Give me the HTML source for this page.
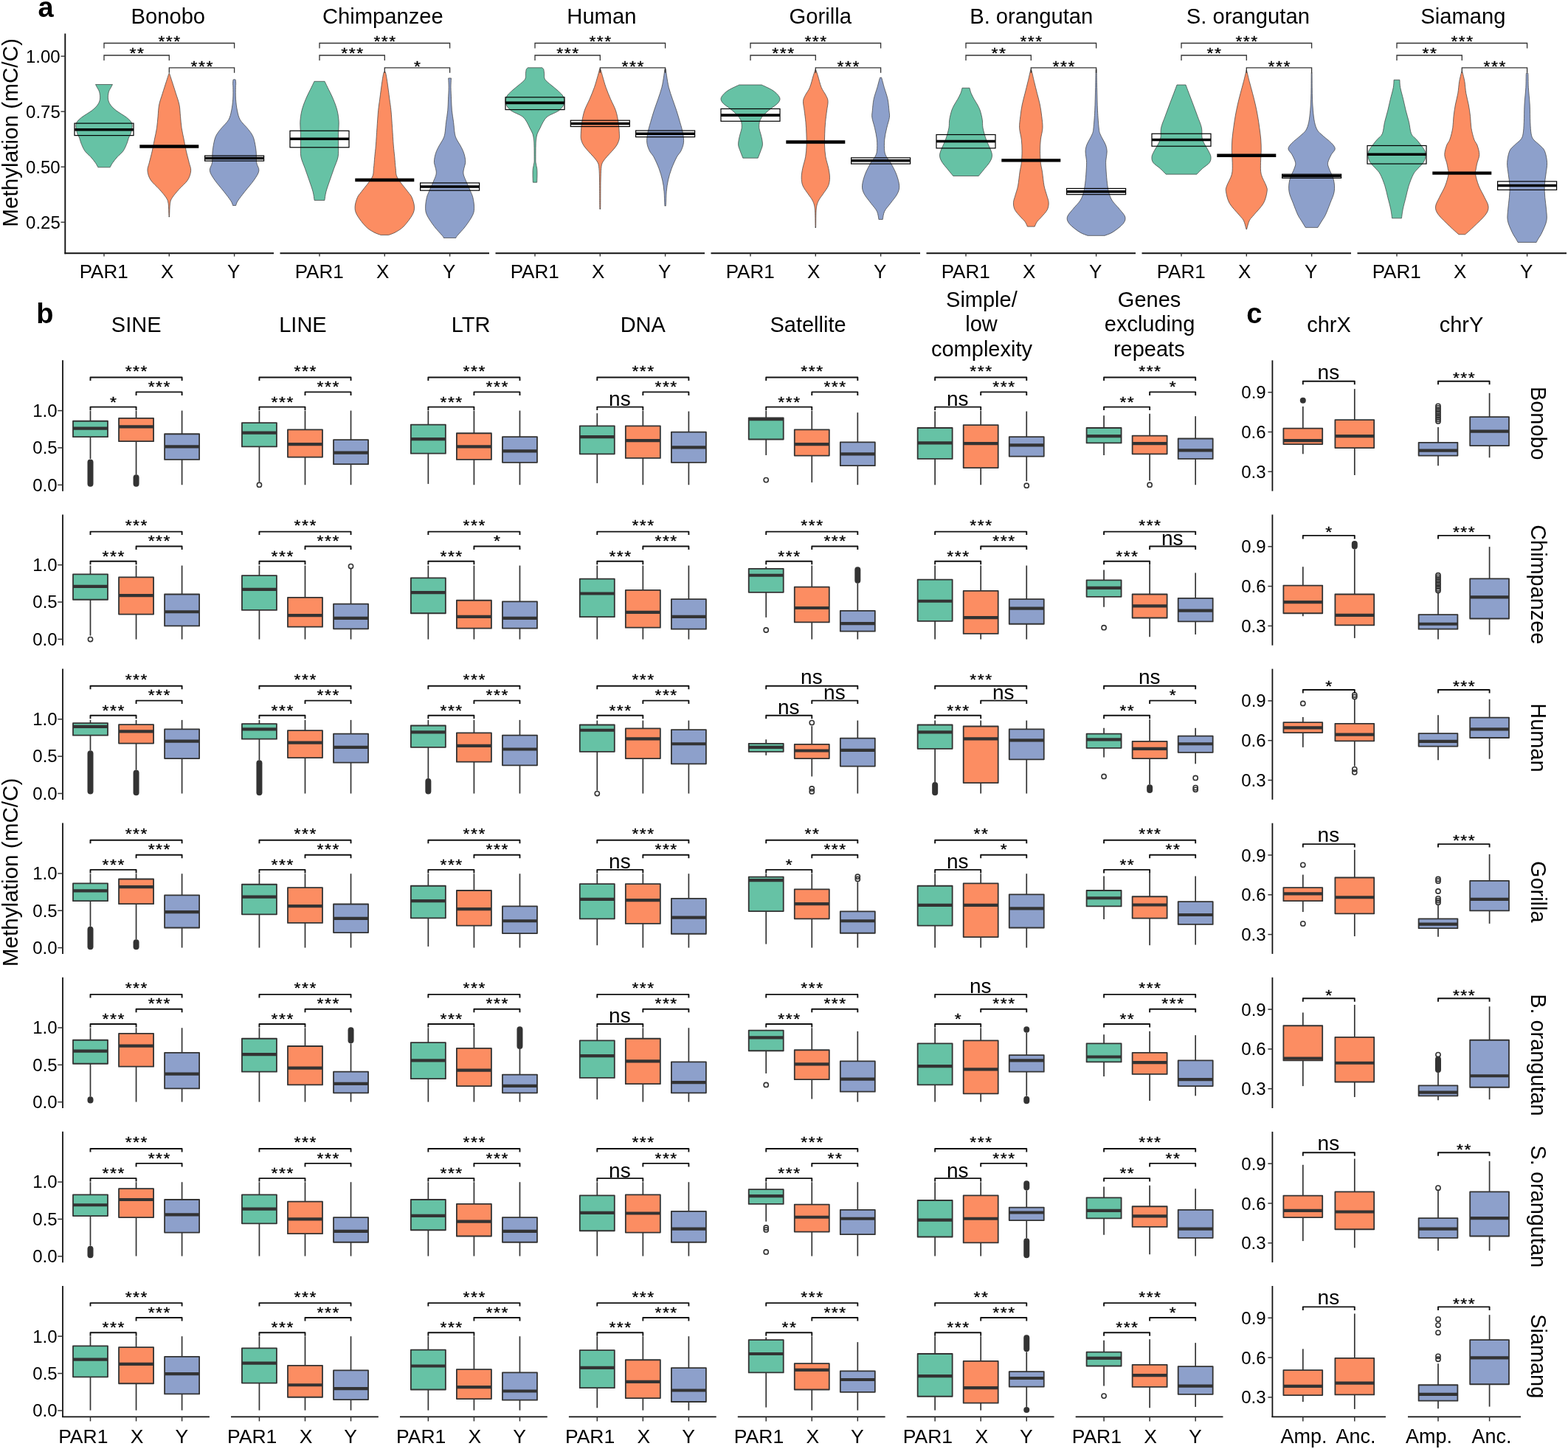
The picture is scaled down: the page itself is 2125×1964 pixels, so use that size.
<!DOCTYPE html>
<html><head><meta charset="utf-8"><title>Figure</title>
<style>html,body{margin:0;padding:0;background:#fff;}svg{display:block;}</style>
</head><body>
<svg width="2125" height="1964" viewBox="0 0 2125 1964" font-family='"Liberation Sans", Arial, Helvetica, sans-serif'>
<rect width="2125" height="1964" fill="#fff"/>
<path d="M152.46,114.54 C152.12,115.2 151.28,116.77 150.42,118.47 C149.55,120.17 147.93,122.13 147.28,124.75 C146.62,127.36 146.1,131.28 146.49,134.16 C146.89,137.04 147.8,139.39 149.63,142.01 C151.46,144.62 153.82,146.98 157.48,149.86 C161.14,152.73 168.07,156.39 171.6,159.27 C175.13,162.15 177.54,164.24 178.66,167.12 C179.79,170 178.74,173.79 178.35,176.53 C177.96,179.28 176.91,182.03 176.31,183.6 C175.71,185.17 175.53,183.99 174.74,185.95 C173.96,187.91 172.91,192.23 171.6,195.37 C170.29,198.51 168.99,201.91 166.89,204.78 C164.8,207.66 161.4,210.01 159.05,212.63 C156.69,215.25 154.42,218.12 152.77,220.48 C151.12,222.83 149.76,225.71 149.16,226.75 L132.84,226.75 C132.24,225.71 130.88,222.83 129.23,220.48 C127.58,218.12 125.31,215.25 122.95,212.63 C120.6,210.01 117.2,207.66 115.11,204.78 C113.01,201.91 111.71,198.51 110.4,195.37 C109.09,192.23 108.04,187.91 107.26,185.95 C106.47,183.99 106.29,185.17 105.69,183.6 C105.09,182.03 104.04,179.28 103.65,176.53 C103.26,173.79 102.21,170 103.34,167.12 C104.46,164.24 106.87,162.15 110.4,159.27 C113.93,156.39 120.86,152.73 124.52,149.86 C128.18,146.98 130.54,144.62 132.37,142.01 C134.2,139.39 135.11,137.04 135.51,134.16 C135.9,131.28 135.38,127.36 134.72,124.75 C134.07,122.13 132.45,120.17 131.58,118.47 C130.72,116.77 129.88,115.2 129.54,114.54 Z" fill="#66C2A5" stroke="#3a3a3a" stroke-width="0.7"/>
<path d="M229.3,99.92 C229.4,100 229.27,98.64 229.93,100.42 C230.58,102.2 231.84,106.31 233.22,110.62 C234.61,114.94 236.62,121.08 238.25,126.32 C239.87,131.55 241.91,136.78 242.95,142.01 C244,147.24 244,152.47 244.52,157.7 C245.05,162.93 245.31,168.16 246.09,173.4 C246.88,178.63 248.18,183.86 249.23,189.09 C250.28,194.32 251.19,199.55 252.37,204.78 C253.55,210.01 255.25,216.03 256.29,220.48 C257.34,224.92 258.96,227.54 258.65,231.46 C258.33,235.39 257.08,239.83 254.41,244.02 C251.74,248.2 246.09,252.65 242.64,256.57 C239.19,260.5 235.71,264.42 233.69,267.56 C231.68,270.7 231.24,271.22 230.56,275.4 C229.88,279.59 229.82,289.71 229.61,292.67 C229.4,295.63 229.35,293.08 229.3,293.17 L229.3,293.17 C229.25,293.08 229.2,295.63 228.99,292.67 C228.78,289.71 228.72,279.59 228.04,275.4 C227.36,271.22 226.92,270.7 224.91,267.56 C222.89,264.42 219.41,260.5 215.96,256.57 C212.51,252.65 206.86,248.2 204.19,244.02 C201.52,239.83 200.27,235.39 199.95,231.46 C199.64,227.54 201.26,224.92 202.31,220.48 C203.35,216.03 205.05,210.01 206.23,204.78 C207.41,199.55 208.32,194.32 209.37,189.09 C210.42,183.86 211.72,178.63 212.51,173.4 C213.29,168.16 213.55,162.93 214.08,157.7 C214.6,152.47 214.6,147.24 215.65,142.01 C216.69,136.78 218.73,131.55 220.35,126.32 C221.98,121.08 223.99,114.94 225.38,110.62 C226.76,106.31 228.02,102.2 228.67,100.42 C229.33,98.64 229.2,100 229.3,99.92 Z" fill="#FC8D62" stroke="#3a3a3a" stroke-width="0.7"/>
<path d="M317.6,107.77 C317.86,107.85 318.83,107.27 319.17,108.27 C319.51,109.27 319.61,112.06 319.64,113.76 C319.67,115.46 319.35,115.07 319.33,118.47 C319.3,121.87 319.12,128.93 319.48,134.16 C319.85,139.39 320.53,145.15 321.52,149.86 C322.52,154.56 323.22,158.49 325.45,162.41 C327.67,166.33 332.3,170.26 334.86,173.4 C337.43,176.53 339.26,178.63 340.83,181.24 C342.4,183.86 343.23,185.17 344.28,189.09 C345.33,193.01 346.53,199.55 347.1,204.78 C347.68,210.01 347.1,216.03 347.73,220.48 C348.36,224.92 351.45,227.54 350.87,231.46 C350.3,235.39 347.47,239.31 344.28,244.02 C341.09,248.73 335.39,255 331.72,259.71 C328.06,264.42 324.32,269.13 322.31,272.27 C320.29,275.4 320.08,277.5 319.64,278.54 L315.56,278.54 C315.12,277.5 314.91,275.4 312.89,272.27 C310.88,269.13 307.14,264.42 303.48,259.71 C299.81,255 294.11,248.73 290.92,244.02 C287.73,239.31 284.9,235.39 284.33,231.46 C283.75,227.54 286.84,224.92 287.47,220.48 C288.1,216.03 287.52,210.01 288.1,204.78 C288.67,199.55 289.87,193.01 290.92,189.09 C291.97,185.17 292.8,183.86 294.37,181.24 C295.94,178.63 297.77,176.53 300.34,173.4 C302.9,170.26 307.53,166.33 309.75,162.41 C311.98,158.49 312.68,154.56 313.68,149.86 C314.67,145.15 315.35,139.39 315.72,134.16 C316.08,128.93 315.9,121.87 315.87,118.47 C315.85,115.07 315.53,115.46 315.56,113.76 C315.59,112.06 315.69,109.27 316.03,108.27 C316.37,107.27 317.34,107.85 317.6,107.77 Z" fill="#8DA0CB" stroke="#3a3a3a" stroke-width="0.7"/>
<rect x="101" y="167.12" width="80" height="16.48" fill="none" stroke="#000" stroke-width="1.2"/>
<line x1="101" y1="175.75" x2="181" y2="175.75" stroke="#000" stroke-width="3.6"/>
<line x1="189.3" y1="198.51" x2="269.3" y2="198.51" stroke="#000" stroke-width="4.4"/>
<rect x="277.6" y="211.06" width="80" height="7.06" fill="none" stroke="#000" stroke-width="1.2"/>
<line x1="277.6" y1="214.51" x2="357.6" y2="214.51" stroke="#000" stroke-width="3.6"/>
<path d="M141,65.5 V58.5 H317.6 V65.5" fill="none" stroke="#333333" stroke-width="1.3"/>
<text transform="translate(230.05,63.2) scale(1,0.9)" font-size="23" letter-spacing="1.5" text-anchor="middle" stroke="#000" stroke-width="0.35">***</text>
<path d="M141,82 V75 H229.3 V82" fill="none" stroke="#333333" stroke-width="1.3"/>
<text transform="translate(185.9,78.5) scale(1,0.9)" font-size="23" letter-spacing="1.5" text-anchor="middle" stroke="#000" stroke-width="0.35">**</text>
<path d="M229.3,98.8 V91.8 H317.6 V98.8" fill="none" stroke="#333333" stroke-width="1.3"/>
<text transform="translate(274.2,96.8) scale(1,0.9)" font-size="23" letter-spacing="1.5" text-anchor="middle" stroke="#000" stroke-width="0.35">***</text>
<line x1="87.5" y1="343.3" x2="371" y2="343.3" stroke="#111" stroke-width="1.9"/>
<line x1="141" y1="343.3" x2="141" y2="347.6" stroke="#333333" stroke-width="1.4"/>
<text x="140.65" y="376.9" font-size="26" text-anchor="middle">PAR1</text>
<line x1="229.3" y1="343.3" x2="229.3" y2="347.6" stroke="#333333" stroke-width="1.4"/>
<text x="226.62" y="376.9" font-size="26" text-anchor="middle">X</text>
<line x1="317.6" y1="343.3" x2="317.6" y2="347.6" stroke="#333333" stroke-width="1.4"/>
<text x="316.67" y="376.9" font-size="26" text-anchor="middle">Y</text>
<text x="227.79" y="32.2" font-size="29.2" text-anchor="middle">Bonobo</text>
<path d="M440.06,110.31 C440.72,111.67 442.08,114.49 443.99,118.47 C445.89,122.44 449.35,128.93 451.52,134.16 C453.69,139.39 455.73,144.62 457.01,149.86 C458.29,155.09 458.95,160.32 459.21,165.55 C459.47,170.78 458.69,176.01 458.58,181.24 C458.48,186.47 458.66,191.71 458.58,196.94 C458.5,202.17 459.1,207.4 458.11,212.63 C457.12,217.86 454.45,223.09 452.62,228.32 C450.79,233.56 448.9,238.79 447.12,244.02 C445.35,249.25 443.15,255.13 441.95,259.71 C440.74,264.29 440.25,269.52 439.91,271.48 L426.09,271.48 C425.75,269.52 425.26,264.29 424.05,259.71 C422.85,255.13 420.65,249.25 418.88,244.02 C417.1,238.79 415.21,233.56 413.38,228.32 C411.55,223.09 408.88,217.86 407.89,212.63 C406.9,207.4 407.5,202.17 407.42,196.94 C407.34,191.71 407.52,186.47 407.42,181.24 C407.31,176.01 406.53,170.78 406.79,165.55 C407.05,160.32 407.71,155.09 408.99,149.86 C410.27,144.62 412.31,139.39 414.48,134.16 C416.65,128.93 420.11,122.44 422.01,118.47 C423.92,114.49 425.28,111.67 425.94,110.31 Z" fill="#66C2A5" stroke="#3a3a3a" stroke-width="0.7"/>
<path d="M521.3,97.88 C521.51,97.96 521.98,96.26 522.56,98.38 C523.13,100.5 523.86,104.66 524.75,110.62 C525.64,116.59 527.03,127.62 527.89,134.16 C528.75,140.7 529.3,143.32 529.93,149.86 C530.56,156.39 531.11,165.55 531.66,173.4 C532.21,181.24 532.7,190.4 533.23,196.94 C533.75,203.48 534.3,207.4 534.8,212.63 C535.29,217.86 535.58,223.62 536.21,228.32 C536.84,233.03 535.82,235.65 538.56,240.88 C541.31,246.11 549.42,255.26 552.69,259.71 C555.96,264.16 556.72,264.16 558.18,267.56 C559.64,270.96 561.34,276.19 561.48,280.11 C561.61,284.04 561.34,286.65 558.96,291.1 C556.58,295.55 550.99,302.87 547.19,306.79 C543.4,310.72 539.66,312.68 536.21,314.64 C532.76,316.6 528.1,317.91 526.48,318.56 L516.12,318.56 C514.5,317.91 509.84,316.6 506.39,314.64 C502.94,312.68 499.2,310.72 495.41,306.79 C491.61,302.87 486.02,295.55 483.64,291.1 C481.26,286.65 480.99,284.04 481.12,280.11 C481.26,276.19 482.96,270.96 484.42,267.56 C485.88,264.16 486.64,264.16 489.91,259.71 C493.18,255.26 501.29,246.11 504.04,240.88 C506.78,235.65 505.76,233.03 506.39,228.32 C507.02,223.62 507.31,217.86 507.8,212.63 C508.3,207.4 508.85,203.48 509.37,196.94 C509.9,190.4 510.39,181.24 510.94,173.4 C511.49,165.55 512.04,156.39 512.67,149.86 C513.3,143.32 513.85,140.7 514.71,134.16 C515.57,127.62 516.96,116.59 517.85,110.62 C518.74,104.66 519.47,100.5 520.04,98.38 C520.62,96.26 521.09,97.96 521.3,97.88 Z" fill="#FC8D62" stroke="#3a3a3a" stroke-width="0.7"/>
<path d="M611.48,105.91 C611.4,108.01 610.99,113.76 611.01,118.47 C611.04,123.18 611.4,128.93 611.64,134.16 C611.88,139.39 611.93,144.62 612.42,149.86 C612.92,155.09 613.97,160.32 614.62,165.55 C615.28,170.78 615.62,177.32 616.35,181.24 C617.08,185.17 617.79,186.47 619.02,189.09 C620.25,191.71 622.29,194.32 623.72,196.94 C625.16,199.55 626.6,202.17 627.65,204.78 C628.69,207.4 629.48,210.01 630,212.63 C630.52,215.25 631,217.86 630.79,220.48 C630.58,223.09 629.19,225.71 628.75,228.32 C628.3,230.94 627.52,233.03 628.12,236.17 C628.72,239.31 630.73,243.23 632.36,247.16 C633.98,251.08 636.44,256.31 637.85,259.71 C639.26,263.11 640.05,264.16 640.83,267.56 C641.62,270.96 642.56,276.19 642.56,280.11 C642.56,284.04 642.79,286.65 640.83,291.1 C638.87,295.55 634.29,302.08 630.79,306.79 C627.28,311.5 621.95,316.73 619.8,319.35 C617.66,321.96 618.23,321.96 617.92,322.49 L601.28,322.49 C600.97,321.96 601.54,321.96 599.4,319.35 C597.25,316.73 591.92,311.5 588.41,306.79 C584.91,302.08 580.33,295.55 578.37,291.1 C576.41,286.65 576.64,284.04 576.64,280.11 C576.64,276.19 577.58,270.96 578.37,267.56 C579.15,264.16 579.94,263.11 581.35,259.71 C582.76,256.31 585.22,251.08 586.84,247.16 C588.47,243.23 590.48,239.31 591.08,236.17 C591.68,233.03 590.9,230.94 590.45,228.32 C590.01,225.71 588.62,223.09 588.41,220.48 C588.2,217.86 588.68,215.25 589.2,212.63 C589.72,210.01 590.51,207.4 591.55,204.78 C592.6,202.17 594.04,199.55 595.48,196.94 C596.91,194.32 598.95,191.71 600.18,189.09 C601.41,186.47 602.12,185.17 602.85,181.24 C603.58,177.32 603.92,170.78 604.58,165.55 C605.23,160.32 606.28,155.09 606.78,149.86 C607.27,144.62 607.32,139.39 607.56,134.16 C607.8,128.93 608.16,123.18 608.19,118.47 C608.21,113.76 607.8,108.01 607.72,105.91 Z" fill="#8DA0CB" stroke="#3a3a3a" stroke-width="0.7"/>
<rect x="393" y="177.32" width="80" height="22.44" fill="none" stroke="#000" stroke-width="1.2"/>
<line x1="393" y1="188.31" x2="473" y2="188.31" stroke="#000" stroke-width="3.6"/>
<line x1="481.3" y1="244.02" x2="561.3" y2="244.02" stroke="#000" stroke-width="4.4"/>
<rect x="569.6" y="247.94" width="80" height="10.2" fill="none" stroke="#000" stroke-width="1.2"/>
<line x1="569.6" y1="252.96" x2="649.6" y2="252.96" stroke="#000" stroke-width="3.6"/>
<path d="M433,65.5 V58.5 H609.6 V65.5" fill="none" stroke="#333333" stroke-width="1.3"/>
<text transform="translate(522.05,63.2) scale(1,0.9)" font-size="23" letter-spacing="1.5" text-anchor="middle" stroke="#000" stroke-width="0.35">***</text>
<path d="M433,82 V75 H521.3 V82" fill="none" stroke="#333333" stroke-width="1.3"/>
<text transform="translate(477.9,78.5) scale(1,0.9)" font-size="23" letter-spacing="1.5" text-anchor="middle" stroke="#000" stroke-width="0.35">***</text>
<path d="M521.3,98.8 V91.8 H609.6 V98.8" fill="none" stroke="#333333" stroke-width="1.3"/>
<text transform="translate(566.2,96.8) scale(1,0.9)" font-size="23" letter-spacing="1.5" text-anchor="middle" stroke="#000" stroke-width="0.35">*</text>
<line x1="379.5" y1="343.3" x2="663" y2="343.3" stroke="#111" stroke-width="1.9"/>
<line x1="433" y1="343.3" x2="433" y2="347.6" stroke="#333333" stroke-width="1.4"/>
<text x="432.65" y="376.9" font-size="26" text-anchor="middle">PAR1</text>
<line x1="521.3" y1="343.3" x2="521.3" y2="347.6" stroke="#333333" stroke-width="1.4"/>
<text x="518.62" y="376.9" font-size="26" text-anchor="middle">X</text>
<line x1="609.6" y1="343.3" x2="609.6" y2="347.6" stroke="#333333" stroke-width="1.4"/>
<text x="608.67" y="376.9" font-size="26" text-anchor="middle">Y</text>
<text x="518.92" y="32.2" font-size="29.2" text-anchor="middle">Chimpanzee</text>
<path d="M734.73,91.79 C735.07,92.18 736.3,92.84 736.77,94.14 C737.24,95.45 737.27,97.41 737.55,99.64 C737.84,101.86 736.93,104.87 738.5,107.48 C740.07,110.1 743.99,112.71 746.97,115.33 C749.95,117.95 753.64,120.56 756.39,123.18 C759.13,125.79 762.09,128.15 763.45,131.02 C764.81,133.9 765.54,137.3 764.55,140.44 C763.55,143.58 761.2,146.98 757.49,149.86 C753.77,152.73 745.85,155.09 742.26,157.7 C738.68,160.32 737.69,162.93 735.99,165.55 C734.29,168.16 733.37,170.78 732.06,173.4 C730.75,176.01 729.05,178.63 728.14,181.24 C727.22,183.86 726.91,186.47 726.57,189.09 C726.23,191.71 726.2,193.01 726.1,196.94 C725.99,200.86 725.94,208.71 725.94,212.63 C725.94,216.55 725.81,217.86 726.1,220.48 C726.39,223.09 727.35,225.71 727.67,228.32 C727.98,230.94 727.98,233.03 727.98,236.17 C727.98,239.31 727.72,245.33 727.67,247.16 L722.33,247.16 C722.28,245.33 722.02,239.31 722.02,236.17 C722.02,233.03 722.02,230.94 722.33,228.32 C722.65,225.71 723.61,223.09 723.9,220.48 C724.19,217.86 724.06,216.55 724.06,212.63 C724.06,208.71 724.01,200.86 723.9,196.94 C723.8,193.01 723.77,191.71 723.43,189.09 C723.09,186.47 722.78,183.86 721.86,181.24 C720.95,178.63 719.25,176.01 717.94,173.4 C716.63,170.78 715.71,168.16 714.01,165.55 C712.31,162.93 711.32,160.32 707.74,157.7 C704.15,155.09 696.23,152.73 692.51,149.86 C688.8,146.98 686.45,143.58 685.45,140.44 C684.46,137.3 685.19,133.9 686.55,131.02 C687.91,128.15 690.87,125.79 693.61,123.18 C696.36,120.56 700.05,117.95 703.03,115.33 C706.01,112.71 709.93,110.1 711.5,107.48 C713.07,104.87 712.16,101.86 712.45,99.64 C712.73,97.41 712.76,95.45 713.23,94.14 C713.7,92.84 714.93,92.18 715.27,91.79 Z" fill="#66C2A5" stroke="#3a3a3a" stroke-width="0.7"/>
<path d="M813.3,93.64 C813.43,93.73 813.56,92.62 814.08,94.14 C814.61,95.67 815.26,98.72 816.44,102.77 C817.62,106.83 819.32,113.24 821.15,118.47 C822.98,123.7 825.2,128.93 827.42,134.16 C829.65,139.39 832.73,144.62 834.49,149.86 C836.24,155.09 837.13,160.32 837.94,165.55 C838.75,170.78 839.17,177.32 839.35,181.24 C839.53,185.17 839.64,186.47 839.04,189.09 C838.44,191.71 837.34,194.32 835.74,196.94 C834.15,199.55 831.71,202.17 829.46,204.78 C827.22,207.4 824.42,210.01 822.25,212.63 C820.07,215.25 817.69,217.86 816.44,220.48 C815.18,223.09 815.1,224.4 814.71,228.32 C814.32,232.25 814.22,238.79 814.08,244.02 C813.95,249.25 813.98,253.43 813.93,259.71 C813.88,265.99 813.88,277.94 813.77,281.68 C813.67,285.43 813.38,282.1 813.3,282.18 L813.3,282.18 C813.22,282.1 812.93,285.43 812.83,281.68 C812.72,277.94 812.72,265.99 812.67,259.71 C812.62,253.43 812.65,249.25 812.52,244.02 C812.38,238.79 812.28,232.25 811.89,228.32 C811.5,224.4 811.42,223.09 810.16,220.48 C808.91,217.86 806.53,215.25 804.35,212.63 C802.18,210.01 799.38,207.4 797.14,204.78 C794.89,202.17 792.45,199.55 790.86,196.94 C789.26,194.32 788.16,191.71 787.56,189.09 C786.96,186.47 787.07,185.17 787.25,181.24 C787.43,177.32 787.85,170.78 788.66,165.55 C789.47,160.32 790.36,155.09 792.11,149.86 C793.87,144.62 796.95,139.39 799.18,134.16 C801.4,128.93 803.62,123.7 805.45,118.47 C807.28,113.24 808.98,106.83 810.16,102.77 C811.34,98.72 811.99,95.67 812.52,94.14 C813.04,92.62 813.17,93.73 813.3,93.64 Z" fill="#FC8D62" stroke="#3a3a3a" stroke-width="0.7"/>
<path d="M901.6,93.64 C901.73,93.73 902.07,92.62 902.38,94.14 C902.7,95.67 902.83,98.72 903.48,102.77 C904.14,106.83 905,113.24 906.31,118.47 C907.62,123.7 909.58,128.93 911.33,134.16 C913.08,139.39 915.12,144.62 916.82,149.86 C918.52,155.09 920.07,160.32 921.53,165.55 C923,170.78 924.8,176.53 925.61,181.24 C926.42,185.95 926.87,189.87 926.4,193.8 C925.93,197.72 924.3,201.64 922.79,204.78 C921.27,207.92 919.39,208.71 917.29,212.63 C915.2,216.55 912.19,223.09 910.23,228.32 C908.27,233.56 906.7,238.79 905.52,244.02 C904.35,249.25 903.69,254.09 903.17,259.71 C902.65,265.33 902.65,274.67 902.38,277.76 C902.12,280.85 901.73,278.18 901.6,278.26 L901.6,278.26 C901.47,278.18 901.08,280.85 900.82,277.76 C900.55,274.67 900.55,265.33 900.03,259.71 C899.51,254.09 898.85,249.25 897.68,244.02 C896.5,238.79 894.93,233.56 892.97,228.32 C891.01,223.09 888,216.55 885.91,212.63 C883.81,208.71 881.93,207.92 880.41,204.78 C878.9,201.64 877.27,197.72 876.8,193.8 C876.33,189.87 876.78,185.95 877.59,181.24 C878.4,176.53 880.2,170.78 881.67,165.55 C883.13,160.32 884.68,155.09 886.38,149.86 C888.08,144.62 890.12,139.39 891.87,134.16 C893.62,128.93 895.58,123.7 896.89,118.47 C898.2,113.24 899.06,106.83 899.72,102.77 C900.37,98.72 900.5,95.67 900.82,94.14 C901.13,92.62 901.47,93.73 901.6,93.64 Z" fill="#8DA0CB" stroke="#3a3a3a" stroke-width="0.7"/>
<rect x="685" y="131.81" width="80" height="16.79" fill="none" stroke="#000" stroke-width="1.2"/>
<line x1="685" y1="139.34" x2="765" y2="139.34" stroke="#000" stroke-width="3.6"/>
<rect x="773.3" y="163.2" width="80" height="8.32" fill="none" stroke="#000" stroke-width="1.2"/>
<line x1="773.3" y1="167.43" x2="853.3" y2="167.43" stroke="#000" stroke-width="3.6"/>
<rect x="861.6" y="177.01" width="80" height="8.63" fill="none" stroke="#000" stroke-width="1.2"/>
<line x1="861.6" y1="181.24" x2="941.6" y2="181.24" stroke="#000" stroke-width="3.6"/>
<path d="M725,65.5 V58.5 H901.6 V65.5" fill="none" stroke="#333333" stroke-width="1.3"/>
<text transform="translate(814.05,63.2) scale(1,0.9)" font-size="23" letter-spacing="1.5" text-anchor="middle" stroke="#000" stroke-width="0.35">***</text>
<path d="M725,82 V75 H813.3 V82" fill="none" stroke="#333333" stroke-width="1.3"/>
<text transform="translate(769.9,78.5) scale(1,0.9)" font-size="23" letter-spacing="1.5" text-anchor="middle" stroke="#000" stroke-width="0.35">***</text>
<path d="M813.3,98.8 V91.8 H901.6 V98.8" fill="none" stroke="#333333" stroke-width="1.3"/>
<text transform="translate(858.2,96.8) scale(1,0.9)" font-size="23" letter-spacing="1.5" text-anchor="middle" stroke="#000" stroke-width="0.35">***</text>
<line x1="671.5" y1="343.3" x2="955" y2="343.3" stroke="#111" stroke-width="1.9"/>
<line x1="725" y1="343.3" x2="725" y2="347.6" stroke="#333333" stroke-width="1.4"/>
<text x="724.65" y="376.9" font-size="26" text-anchor="middle">PAR1</text>
<line x1="813.3" y1="343.3" x2="813.3" y2="347.6" stroke="#333333" stroke-width="1.4"/>
<text x="810.62" y="376.9" font-size="26" text-anchor="middle">X</text>
<line x1="901.6" y1="343.3" x2="901.6" y2="347.6" stroke="#333333" stroke-width="1.4"/>
<text x="900.67" y="376.9" font-size="26" text-anchor="middle">Y</text>
<text x="815.36" y="32.2" font-size="29.2" text-anchor="middle">Human</text>
<path d="M1032.22,115.02 C1034.47,116.11 1042.16,119.46 1045.72,121.61 C1049.28,123.75 1051.68,125.79 1053.57,127.88 C1055.45,129.98 1057.02,132.07 1057.02,134.16 C1057.02,136.25 1055.53,138.35 1053.57,140.44 C1051.6,142.53 1047.86,144.62 1045.25,146.72 C1042.63,148.81 1040.04,150.9 1037.87,152.99 C1035.7,155.09 1033.66,157.18 1032.22,159.27 C1030.78,161.36 1029.82,163.2 1029.24,165.55 C1028.67,167.9 1028.51,170.78 1028.77,173.4 C1029.03,176.01 1030.16,178.63 1030.81,181.24 C1031.46,183.86 1032.28,186.47 1032.69,189.09 C1033.11,191.71 1033.64,194.32 1033.32,196.94 C1033.01,199.55 1031.83,201.91 1030.81,204.78 C1029.79,207.66 1027.8,212.63 1027.2,214.2 L1006.8,214.2 C1006.2,212.63 1004.21,207.66 1003.19,204.78 C1002.17,201.91 1000.99,199.55 1000.68,196.94 C1000.36,194.32 1000.89,191.71 1001.31,189.09 C1001.72,186.47 1002.54,183.86 1003.19,181.24 C1003.84,178.63 1004.97,176.01 1005.23,173.4 C1005.49,170.78 1005.33,167.9 1004.76,165.55 C1004.18,163.2 1003.22,161.36 1001.78,159.27 C1000.34,157.18 998.3,155.09 996.13,152.99 C993.96,150.9 991.37,148.81 988.75,146.72 C986.14,144.62 982.4,142.53 980.43,140.44 C978.47,138.35 976.98,136.25 976.98,134.16 C976.98,132.07 978.55,129.98 980.43,127.88 C982.32,125.79 984.72,123.75 988.28,121.61 C991.84,119.46 999.53,116.11 1001.78,115.02 Z" fill="#66C2A5" stroke="#3a3a3a" stroke-width="0.7"/>
<path d="M1105.3,94.43 C1105.38,94.51 1105.25,93.54 1105.77,94.93 C1106.29,96.32 1107.21,98.85 1108.44,102.77 C1109.67,106.7 1111.32,114.02 1113.15,118.47 C1114.98,122.91 1117.93,126.32 1119.42,129.45 C1120.92,132.59 1121.91,133.9 1122.09,137.3 C1122.28,140.7 1121.1,145.15 1120.52,149.86 C1119.95,154.56 1119.11,160.32 1118.64,165.55 C1118.17,170.78 1117.88,176.01 1117.7,181.24 C1117.51,186.47 1117.33,191.71 1117.54,196.94 C1117.75,202.17 1118.06,207.4 1118.95,212.63 C1119.84,217.86 1121.96,223.62 1122.88,228.32 C1123.79,233.03 1124.5,236.96 1124.45,240.88 C1124.39,244.8 1124.05,248.2 1122.56,251.86 C1121.07,255.53 1117.72,259.45 1115.5,262.85 C1113.28,266.25 1110.77,268.87 1109.22,272.27 C1107.68,275.67 1106.84,277.5 1106.24,283.25 C1105.64,289.01 1105.77,302.79 1105.61,306.79 C1105.46,310.8 1105.35,307.21 1105.3,307.29 L1105.3,307.29 C1105.25,307.21 1105.14,310.8 1104.99,306.79 C1104.83,302.79 1104.96,289.01 1104.36,283.25 C1103.76,277.5 1102.92,275.67 1101.38,272.27 C1099.83,268.87 1097.32,266.25 1095.1,262.85 C1092.88,259.45 1089.53,255.53 1088.04,251.86 C1086.55,248.2 1086.21,244.8 1086.15,240.88 C1086.1,236.96 1086.81,233.03 1087.72,228.32 C1088.64,223.62 1090.76,217.86 1091.65,212.63 C1092.54,207.4 1092.85,202.17 1093.06,196.94 C1093.27,191.71 1093.09,186.47 1092.9,181.24 C1092.72,176.01 1092.43,170.78 1091.96,165.55 C1091.49,160.32 1090.65,154.56 1090.08,149.86 C1089.5,145.15 1088.32,140.7 1088.51,137.3 C1088.69,133.9 1089.68,132.59 1091.18,129.45 C1092.67,126.32 1095.62,122.91 1097.45,118.47 C1099.28,114.02 1100.93,106.7 1102.16,102.77 C1103.39,98.85 1104.31,96.32 1104.83,94.93 C1105.35,93.54 1105.22,94.51 1105.3,94.43 Z" fill="#FC8D62" stroke="#3a3a3a" stroke-width="0.7"/>
<path d="M1193.6,105.41 C1193.81,105.5 1194.07,103.74 1194.86,105.91 C1195.64,108.09 1196.95,113.76 1198.31,118.47 C1199.67,123.18 1201.92,128.93 1203.02,134.16 C1204.11,139.39 1204.51,145.67 1204.9,149.86 C1205.29,154.04 1205.89,155.35 1205.37,159.27 C1204.85,163.2 1202.86,168.43 1201.76,173.4 C1200.66,178.37 1199.28,183.86 1198.78,189.09 C1198.28,194.32 1198.33,200.86 1198.78,204.78 C1199.22,208.71 1200.09,210.01 1201.45,212.63 C1202.81,215.25 1204.72,216.55 1206.94,220.48 C1209.16,224.4 1212.82,230.94 1214.79,236.17 C1216.75,241.4 1218.5,247.42 1218.71,251.86 C1218.92,256.31 1218,258.93 1216.04,262.85 C1214.08,266.77 1209.82,271.48 1206.94,275.4 C1204.06,279.33 1200.56,282.73 1198.78,286.39 C1197,290.05 1196.69,295.55 1196.27,297.38 L1190.93,297.38 C1190.51,295.55 1190.2,290.05 1188.42,286.39 C1186.64,282.73 1183.14,279.33 1180.26,275.4 C1177.38,271.48 1173.12,266.77 1171.16,262.85 C1169.2,258.93 1168.28,256.31 1168.49,251.86 C1168.7,247.42 1170.45,241.4 1172.41,236.17 C1174.38,230.94 1178.04,224.4 1180.26,220.48 C1182.48,216.55 1184.39,215.25 1185.75,212.63 C1187.11,210.01 1187.98,208.71 1188.42,204.78 C1188.87,200.86 1188.92,194.32 1188.42,189.09 C1187.92,183.86 1186.54,178.37 1185.44,173.4 C1184.34,168.43 1182.35,163.2 1181.83,159.27 C1181.31,155.35 1181.91,154.04 1182.3,149.86 C1182.69,145.67 1183.09,139.39 1184.18,134.16 C1185.28,128.93 1187.53,123.18 1188.89,118.47 C1190.25,113.76 1191.56,108.09 1192.34,105.91 C1193.13,103.74 1193.39,105.5 1193.6,105.41 Z" fill="#8DA0CB" stroke="#3a3a3a" stroke-width="0.7"/>
<rect x="977" y="147.5" width="80" height="16.79" fill="none" stroke="#000" stroke-width="1.2"/>
<line x1="977" y1="156.13" x2="1057" y2="156.13" stroke="#000" stroke-width="3.6"/>
<line x1="1065.3" y1="192.54" x2="1145.3" y2="192.54" stroke="#000" stroke-width="4.4"/>
<rect x="1153.6" y="213.89" width="80" height="8.16" fill="none" stroke="#000" stroke-width="1.2"/>
<line x1="1153.6" y1="217.81" x2="1233.6" y2="217.81" stroke="#000" stroke-width="3.6"/>
<path d="M1017,65.5 V58.5 H1193.6 V65.5" fill="none" stroke="#333333" stroke-width="1.3"/>
<text transform="translate(1106.05,63.2) scale(1,0.9)" font-size="23" letter-spacing="1.5" text-anchor="middle" stroke="#000" stroke-width="0.35">***</text>
<path d="M1017,82 V75 H1105.3 V82" fill="none" stroke="#333333" stroke-width="1.3"/>
<text transform="translate(1061.9,78.5) scale(1,0.9)" font-size="23" letter-spacing="1.5" text-anchor="middle" stroke="#000" stroke-width="0.35">***</text>
<path d="M1105.3,98.8 V91.8 H1193.6 V98.8" fill="none" stroke="#333333" stroke-width="1.3"/>
<text transform="translate(1150.2,96.8) scale(1,0.9)" font-size="23" letter-spacing="1.5" text-anchor="middle" stroke="#000" stroke-width="0.35">***</text>
<line x1="963.5" y1="343.3" x2="1247" y2="343.3" stroke="#111" stroke-width="1.9"/>
<line x1="1017" y1="343.3" x2="1017" y2="347.6" stroke="#333333" stroke-width="1.4"/>
<text x="1016.65" y="376.9" font-size="26" text-anchor="middle">PAR1</text>
<line x1="1105.3" y1="343.3" x2="1105.3" y2="347.6" stroke="#333333" stroke-width="1.4"/>
<text x="1102.62" y="376.9" font-size="26" text-anchor="middle">X</text>
<line x1="1193.6" y1="343.3" x2="1193.6" y2="347.6" stroke="#333333" stroke-width="1.4"/>
<text x="1192.67" y="376.9" font-size="26" text-anchor="middle">Y</text>
<text x="1111.74" y="32.2" font-size="29.2" text-anchor="middle">Gorilla</text>
<path d="M1314.02,119.25 C1314.36,120.43 1315.07,123.83 1316.06,126.32 C1317.06,128.8 1318.55,131.55 1319.99,134.16 C1321.42,136.78 1323.31,139.39 1324.69,142.01 C1326.08,144.62 1327.2,146.46 1328.3,149.86 C1329.4,153.26 1330.66,158.49 1331.28,162.41 C1331.91,166.33 1331.21,168.95 1332.07,173.4 C1332.93,177.84 1334.61,183.86 1336.46,189.09 C1338.32,194.32 1341.9,200.86 1343.21,204.78 C1344.52,208.71 1344.7,210.01 1344.31,212.63 C1343.92,215.25 1342.48,217.86 1340.86,220.48 C1339.24,223.09 1337.01,225.32 1334.58,228.32 C1332.15,231.33 1327.65,236.82 1326.26,238.52 L1291.74,238.52 C1290.35,236.82 1285.85,231.33 1283.42,228.32 C1280.99,225.32 1278.76,223.09 1277.14,220.48 C1275.52,217.86 1274.08,215.25 1273.69,212.63 C1273.3,210.01 1273.48,208.71 1274.79,204.78 C1276.1,200.86 1279.68,194.32 1281.54,189.09 C1283.39,183.86 1285.07,177.84 1285.93,173.4 C1286.79,168.95 1286.09,166.33 1286.72,162.41 C1287.34,158.49 1288.6,153.26 1289.7,149.86 C1290.8,146.46 1291.92,144.62 1293.31,142.01 C1294.69,139.39 1296.58,136.78 1298.01,134.16 C1299.45,131.55 1300.94,128.8 1301.94,126.32 C1302.93,123.83 1303.64,120.43 1303.98,119.25 Z" fill="#66C2A5" stroke="#3a3a3a" stroke-width="0.7"/>
<path d="M1397.3,95.21 C1397.43,95.3 1397.38,93.14 1398.08,95.71 C1398.79,98.28 1400.31,105.52 1401.54,110.62 C1402.77,115.72 1404.15,121.08 1405.46,126.32 C1406.77,131.55 1408.34,136.78 1409.38,142.01 C1410.43,147.24 1411.14,152.47 1411.74,157.7 C1412.34,162.93 1413.23,168.16 1412.99,173.4 C1412.76,178.63 1410.9,183.86 1410.33,189.09 C1409.75,194.32 1409.54,199.55 1409.54,204.78 C1409.54,210.01 1409.83,215.77 1410.33,220.48 C1410.82,225.19 1411.74,227.8 1412.52,233.03 C1413.31,238.26 1413.99,246.5 1415.03,251.86 C1416.08,257.23 1417.78,261.41 1418.8,265.2 C1419.82,269 1421.08,271.43 1421.15,274.62 C1421.23,277.81 1420.92,281.08 1419.27,284.35 C1417.62,287.62 1413.57,291.54 1411.27,294.24 C1408.97,296.93 1406.98,298.37 1405.46,300.51 C1403.94,302.66 1402.71,306.01 1402.17,307.11 L1392.43,307.11 C1391.89,306.01 1390.66,302.66 1389.14,300.51 C1387.62,298.37 1385.63,296.93 1383.33,294.24 C1381.03,291.54 1376.98,287.62 1375.33,284.35 C1373.68,281.08 1373.37,277.81 1373.45,274.62 C1373.52,271.43 1374.78,269 1375.8,265.2 C1376.82,261.41 1378.52,257.23 1379.57,251.86 C1380.61,246.5 1381.29,238.26 1382.08,233.03 C1382.86,227.8 1383.78,225.19 1384.27,220.48 C1384.77,215.77 1385.06,210.01 1385.06,204.78 C1385.06,199.55 1384.85,194.32 1384.27,189.09 C1383.7,183.86 1381.84,178.63 1381.61,173.4 C1381.37,168.16 1382.26,162.93 1382.86,157.7 C1383.46,152.47 1384.17,147.24 1385.22,142.01 C1386.26,136.78 1387.83,131.55 1389.14,126.32 C1390.45,121.08 1391.83,115.72 1393.06,110.62 C1394.29,105.52 1395.81,98.28 1396.52,95.71 C1397.22,93.14 1397.17,95.3 1397.3,95.21 Z" fill="#FC8D62" stroke="#3a3a3a" stroke-width="0.7"/>
<path d="M1485.6,95.21 C1485.68,95.3 1485.91,91.84 1486.07,95.71 C1486.23,99.59 1486.31,109.44 1486.54,118.47 C1486.78,127.49 1487.04,140.7 1487.48,149.86 C1487.93,159.01 1488.66,168.16 1489.21,173.4 C1489.76,178.63 1489.86,178.63 1490.78,181.24 C1491.69,183.86 1493.39,186.47 1494.7,189.09 C1496.01,191.71 1497.71,194.32 1498.63,196.94 C1499.54,199.55 1500.06,202.17 1500.2,204.78 C1500.33,207.4 1499.67,210.01 1499.41,212.63 C1499.15,215.25 1498.63,216.55 1498.63,220.48 C1498.63,224.4 1499.02,230.94 1499.41,236.17 C1499.8,241.4 1500.33,247.42 1500.98,251.86 C1501.63,256.31 1502.24,259.45 1503.33,262.85 C1504.43,266.25 1505.3,268.87 1507.57,272.27 C1509.85,275.67 1514.11,279.59 1516.99,283.25 C1519.86,286.91 1524.05,290.84 1524.83,294.24 C1525.62,297.64 1524.49,300.25 1521.7,303.65 C1518.9,307.05 1512.15,312.02 1508.04,314.64 C1503.94,317.25 1498.89,318.56 1497.06,319.35 L1474.14,319.35 C1472.31,318.56 1467.26,317.25 1463.16,314.64 C1459.05,312.02 1452.3,307.05 1449.5,303.65 C1446.71,300.25 1445.58,297.64 1446.37,294.24 C1447.15,290.84 1451.34,286.91 1454.21,283.25 C1457.09,279.59 1461.35,275.67 1463.63,272.27 C1465.9,268.87 1466.77,266.25 1467.87,262.85 C1468.96,259.45 1469.57,256.31 1470.22,251.86 C1470.87,247.42 1471.4,241.4 1471.79,236.17 C1472.18,230.94 1472.57,224.4 1472.57,220.48 C1472.57,216.55 1472.05,215.25 1471.79,212.63 C1471.53,210.01 1470.87,207.4 1471,204.78 C1471.14,202.17 1471.66,199.55 1472.57,196.94 C1473.49,194.32 1475.19,191.71 1476.5,189.09 C1477.81,186.47 1479.51,183.86 1480.42,181.24 C1481.34,178.63 1481.44,178.63 1481.99,173.4 C1482.54,168.16 1483.27,159.01 1483.72,149.86 C1484.16,140.7 1484.42,127.49 1484.66,118.47 C1484.89,109.44 1484.97,99.59 1485.13,95.71 C1485.29,91.84 1485.52,95.3 1485.6,95.21 Z" fill="#8DA0CB" stroke="#3a3a3a" stroke-width="0.7"/>
<rect x="1269" y="182.5" width="80" height="18.36" fill="none" stroke="#000" stroke-width="1.2"/>
<line x1="1269" y1="191.44" x2="1349" y2="191.44" stroke="#000" stroke-width="3.6"/>
<line x1="1357.3" y1="217.34" x2="1437.3" y2="217.34" stroke="#000" stroke-width="4.4"/>
<rect x="1445.6" y="255.47" width="80" height="8.16" fill="none" stroke="#000" stroke-width="1.2"/>
<line x1="1445.6" y1="259.71" x2="1525.6" y2="259.71" stroke="#000" stroke-width="3.6"/>
<path d="M1309,65.5 V58.5 H1485.6 V65.5" fill="none" stroke="#333333" stroke-width="1.3"/>
<text transform="translate(1398.05,63.2) scale(1,0.9)" font-size="23" letter-spacing="1.5" text-anchor="middle" stroke="#000" stroke-width="0.35">***</text>
<path d="M1309,82 V75 H1397.3 V82" fill="none" stroke="#333333" stroke-width="1.3"/>
<text transform="translate(1353.9,78.5) scale(1,0.9)" font-size="23" letter-spacing="1.5" text-anchor="middle" stroke="#000" stroke-width="0.35">**</text>
<path d="M1397.3,98.8 V91.8 H1485.6 V98.8" fill="none" stroke="#333333" stroke-width="1.3"/>
<text transform="translate(1442.2,96.8) scale(1,0.9)" font-size="23" letter-spacing="1.5" text-anchor="middle" stroke="#000" stroke-width="0.35">***</text>
<line x1="1255.5" y1="343.3" x2="1539" y2="343.3" stroke="#111" stroke-width="1.9"/>
<line x1="1309" y1="343.3" x2="1309" y2="347.6" stroke="#333333" stroke-width="1.4"/>
<text x="1308.65" y="376.9" font-size="26" text-anchor="middle">PAR1</text>
<line x1="1397.3" y1="343.3" x2="1397.3" y2="347.6" stroke="#333333" stroke-width="1.4"/>
<text x="1394.62" y="376.9" font-size="26" text-anchor="middle">X</text>
<line x1="1485.6" y1="343.3" x2="1485.6" y2="347.6" stroke="#333333" stroke-width="1.4"/>
<text x="1484.67" y="376.9" font-size="26" text-anchor="middle">Y</text>
<text x="1397.76" y="32.2" font-size="29.2" text-anchor="middle">B. orangutan</text>
<path d="M1606.96,115.02 C1607.67,116.9 1609.5,121.82 1611.2,126.32 C1612.9,130.81 1615.2,136.78 1617.16,142.01 C1619.13,147.24 1621.09,152.47 1622.97,157.7 C1624.85,162.93 1627.37,168.16 1628.46,173.4 C1629.56,178.63 1627.99,183.86 1629.56,189.09 C1631.13,194.32 1635.97,200.86 1637.88,204.78 C1639.79,208.71 1640.81,210.01 1641.02,212.63 C1641.23,215.25 1641.02,217.86 1639.14,220.48 C1637.25,223.09 1632.6,225.71 1629.72,228.32 C1626.84,230.94 1623.18,234.86 1621.87,236.17 L1580.13,236.17 C1578.82,234.86 1575.16,230.94 1572.28,228.32 C1569.4,225.71 1564.75,223.09 1562.86,220.48 C1560.98,217.86 1560.77,215.25 1560.98,212.63 C1561.19,210.01 1562.21,208.71 1564.12,204.78 C1566.03,200.86 1570.87,194.32 1572.44,189.09 C1574.01,183.86 1572.44,178.63 1573.54,173.4 C1574.63,168.16 1577.15,162.93 1579.03,157.7 C1580.91,152.47 1582.87,147.24 1584.84,142.01 C1586.8,136.78 1589.1,130.81 1590.8,126.32 C1592.5,121.82 1594.33,116.9 1595.04,115.02 Z" fill="#66C2A5" stroke="#3a3a3a" stroke-width="0.7"/>
<path d="M1689.3,96 C1689.38,96.08 1689.12,94.06 1689.77,96.5 C1690.42,98.93 1691.94,105.65 1693.22,110.62 C1694.51,115.59 1696.1,121.08 1697.46,126.32 C1698.82,131.55 1700.21,136.78 1701.38,142.01 C1702.56,147.24 1703.61,152.47 1704.52,157.7 C1705.44,162.93 1706.17,168.16 1706.88,173.4 C1707.58,178.63 1708.37,183.86 1708.76,189.09 C1709.15,194.32 1709.28,199.55 1709.23,204.78 C1709.18,210.01 1708.45,215.25 1708.45,220.48 C1708.45,225.71 1707.98,230.94 1709.23,236.17 C1710.49,241.4 1714.67,247.94 1715.98,251.86 C1717.29,255.79 1717.68,255.79 1717.08,259.71 C1716.48,263.63 1715.3,270.17 1712.37,275.4 C1709.44,280.64 1702.69,287.18 1699.5,291.1 C1696.31,295.02 1694.85,295.81 1693.22,298.95 C1691.6,302.08 1690.42,308.02 1689.77,309.93 C1689.12,311.85 1689.38,310.35 1689.3,310.43 L1689.3,310.43 C1689.22,310.35 1689.48,311.85 1688.83,309.93 C1688.18,308.02 1687,302.08 1685.38,298.95 C1683.75,295.81 1682.29,295.02 1679.1,291.1 C1675.91,287.18 1669.16,280.64 1666.23,275.4 C1663.3,270.17 1662.12,263.63 1661.52,259.71 C1660.92,255.79 1661.31,255.79 1662.62,251.86 C1663.93,247.94 1668.11,241.4 1669.37,236.17 C1670.62,230.94 1670.15,225.71 1670.15,220.48 C1670.15,215.25 1669.42,210.01 1669.37,204.78 C1669.32,199.55 1669.45,194.32 1669.84,189.09 C1670.23,183.86 1671.02,178.63 1671.72,173.4 C1672.43,168.16 1673.16,162.93 1674.08,157.7 C1674.99,152.47 1676.04,147.24 1677.22,142.01 C1678.39,136.78 1679.78,131.55 1681.14,126.32 C1682.5,121.08 1684.09,115.59 1685.38,110.62 C1686.66,105.65 1688.18,98.93 1688.83,96.5 C1689.48,94.06 1689.22,96.08 1689.3,96 Z" fill="#FC8D62" stroke="#3a3a3a" stroke-width="0.7"/>
<path d="M1777.6,99.45 C1777.68,99.53 1777.97,96.78 1778.07,99.95 C1778.18,103.12 1778.15,112.77 1778.23,118.47 C1778.31,124.17 1778.33,128.93 1778.54,134.16 C1778.75,139.39 1778.99,144.62 1779.48,149.86 C1779.98,155.09 1780.53,161.1 1781.52,165.55 C1782.52,170 1783.49,173.4 1785.45,176.53 C1787.41,179.67 1790.15,181.5 1793.29,184.38 C1796.43,187.26 1801.61,190.92 1804.28,193.8 C1806.95,196.68 1809.3,199.03 1809.3,201.64 C1809.3,204.26 1805.9,206.35 1804.28,209.49 C1802.66,212.63 1800.09,217.34 1799.57,220.48 C1799.05,223.62 1799.83,224.4 1801.14,228.32 C1802.45,232.25 1806.24,238.79 1807.42,244.02 C1808.59,249.25 1808.99,254.48 1808.2,259.71 C1807.42,264.94 1804.67,270.17 1802.71,275.4 C1800.75,280.64 1798.26,287.18 1796.43,291.1 C1794.6,295.02 1793.48,296.07 1791.72,298.95 C1789.97,301.82 1786.89,306.79 1785.92,308.36 L1769.28,308.36 C1768.31,306.79 1765.23,301.82 1763.48,298.95 C1761.72,296.07 1760.6,295.02 1758.77,291.1 C1756.94,287.18 1754.45,280.64 1752.49,275.4 C1750.53,270.17 1747.78,264.94 1747,259.71 C1746.21,254.48 1746.61,249.25 1747.78,244.02 C1748.96,238.79 1752.75,232.25 1754.06,228.32 C1755.37,224.4 1756.15,223.62 1755.63,220.48 C1755.11,217.34 1752.54,212.63 1750.92,209.49 C1749.3,206.35 1745.9,204.26 1745.9,201.64 C1745.9,199.03 1748.25,196.68 1750.92,193.8 C1753.59,190.92 1758.77,187.26 1761.91,184.38 C1765.05,181.5 1767.79,179.67 1769.75,176.53 C1771.71,173.4 1772.68,170 1773.68,165.55 C1774.67,161.1 1775.22,155.09 1775.72,149.86 C1776.21,144.62 1776.45,139.39 1776.66,134.16 C1776.87,128.93 1776.89,124.17 1776.97,118.47 C1777.05,112.77 1777.02,103.12 1777.13,99.95 C1777.23,96.78 1777.52,99.53 1777.6,99.45 Z" fill="#8DA0CB" stroke="#3a3a3a" stroke-width="0.7"/>
<rect x="1561" y="181.24" width="80" height="16.95" fill="none" stroke="#000" stroke-width="1.2"/>
<line x1="1561" y1="189.56" x2="1641" y2="189.56" stroke="#000" stroke-width="3.6"/>
<line x1="1649.3" y1="210.75" x2="1729.3" y2="210.75" stroke="#000" stroke-width="4.4"/>
<rect x="1737.6" y="236.17" width="80" height="5.18" fill="none" stroke="#000" stroke-width="1.2"/>
<line x1="1737.6" y1="238.52" x2="1817.6" y2="238.52" stroke="#000" stroke-width="3.6"/>
<path d="M1601,65.5 V58.5 H1777.6 V65.5" fill="none" stroke="#333333" stroke-width="1.3"/>
<text transform="translate(1690.05,63.2) scale(1,0.9)" font-size="23" letter-spacing="1.5" text-anchor="middle" stroke="#000" stroke-width="0.35">***</text>
<path d="M1601,82 V75 H1689.3 V82" fill="none" stroke="#333333" stroke-width="1.3"/>
<text transform="translate(1645.9,78.5) scale(1,0.9)" font-size="23" letter-spacing="1.5" text-anchor="middle" stroke="#000" stroke-width="0.35">**</text>
<path d="M1689.3,98.8 V91.8 H1777.6 V98.8" fill="none" stroke="#333333" stroke-width="1.3"/>
<text transform="translate(1734.2,96.8) scale(1,0.9)" font-size="23" letter-spacing="1.5" text-anchor="middle" stroke="#000" stroke-width="0.35">***</text>
<line x1="1547.5" y1="343.3" x2="1831" y2="343.3" stroke="#111" stroke-width="1.9"/>
<line x1="1601" y1="343.3" x2="1601" y2="347.6" stroke="#333333" stroke-width="1.4"/>
<text x="1600.65" y="376.9" font-size="26" text-anchor="middle">PAR1</text>
<line x1="1689.3" y1="343.3" x2="1689.3" y2="347.6" stroke="#333333" stroke-width="1.4"/>
<text x="1686.62" y="376.9" font-size="26" text-anchor="middle">X</text>
<line x1="1777.6" y1="343.3" x2="1777.6" y2="347.6" stroke="#333333" stroke-width="1.4"/>
<text x="1776.67" y="376.9" font-size="26" text-anchor="middle">Y</text>
<text x="1691.31" y="32.2" font-size="29.2" text-anchor="middle">S. orangutan</text>
<path d="M1896.92,108.27 C1897.05,109.97 1896.92,114.15 1897.71,118.47 C1898.49,122.78 1900.38,128.93 1901.63,134.16 C1902.89,139.39 1903.93,144.62 1905.24,149.86 C1906.55,155.09 1908.25,160.32 1909.48,165.55 C1910.71,170.78 1910.92,177.32 1912.62,181.24 C1914.32,185.17 1917.46,186.47 1919.68,189.09 C1921.9,191.71 1924.05,194.32 1925.96,196.94 C1927.87,199.55 1930.14,202.17 1931.14,204.78 C1932.13,207.4 1932.31,210.01 1931.92,212.63 C1931.53,215.25 1930.48,217.86 1928.78,220.48 C1927.08,223.09 1923.94,225.71 1921.72,228.32 C1919.5,230.94 1917.53,232.25 1915.44,236.17 C1913.35,240.09 1910.86,246.63 1909.16,251.86 C1907.46,257.1 1906.55,262.33 1905.24,267.56 C1903.93,272.79 1902.29,278.54 1901.32,283.25 C1900.35,287.96 1899.75,293.71 1899.43,295.81 L1886.57,295.81 C1886.25,293.71 1885.65,287.96 1884.68,283.25 C1883.71,278.54 1882.07,272.79 1880.76,267.56 C1879.45,262.33 1878.54,257.1 1876.84,251.86 C1875.14,246.63 1872.65,240.09 1870.56,236.17 C1868.47,232.25 1866.5,230.94 1864.28,228.32 C1862.06,225.71 1858.92,223.09 1857.22,220.48 C1855.52,217.86 1854.47,215.25 1854.08,212.63 C1853.69,210.01 1853.87,207.4 1854.86,204.78 C1855.86,202.17 1858.13,199.55 1860.04,196.94 C1861.95,194.32 1864.1,191.71 1866.32,189.09 C1868.54,186.47 1871.68,185.17 1873.38,181.24 C1875.08,177.32 1875.29,170.78 1876.52,165.55 C1877.75,160.32 1879.45,155.09 1880.76,149.86 C1882.07,144.62 1883.11,139.39 1884.37,134.16 C1885.62,128.93 1887.51,122.78 1888.29,118.47 C1889.08,114.15 1888.95,109.97 1889.08,108.27 Z" fill="#66C2A5" stroke="#3a3a3a" stroke-width="0.7"/>
<path d="M1981.3,97.88 C1981.43,97.96 1981.48,96.26 1982.08,98.38 C1982.69,100.5 1984.12,105.97 1984.91,110.62 C1985.69,115.28 1985.9,121.08 1986.79,126.32 C1987.68,131.55 1989.28,136.78 1990.25,142.01 C1991.21,147.24 1992,152.47 1992.6,157.7 C1993.2,162.93 1992.99,168.16 1993.85,173.4 C1994.72,178.63 1996.42,185.17 1997.78,189.09 C1999.14,193.01 2000.84,193.54 2002.02,196.94 C2003.19,200.34 2004.84,205.57 2004.84,209.49 C2004.84,213.41 2002.75,217.34 2002.02,220.48 C2001.28,223.62 2000.84,225.71 2000.45,228.32 C2000.05,230.94 1999.06,232.25 1999.66,236.17 C2000.26,240.09 2002.02,246.63 2004.06,251.86 C2006.1,257.1 2009.73,262.85 2011.9,267.56 C2014.07,272.27 2016.87,276.19 2017.08,280.11 C2017.29,284.04 2016.38,286.65 2013.16,291.1 C2009.94,295.55 2002.36,302.35 1997.78,306.79 C1993.2,311.24 1987.71,315.95 1985.69,317.78 L1976.91,317.78 C1974.89,315.95 1969.4,311.24 1964.82,306.79 C1960.24,302.35 1952.66,295.55 1949.44,291.1 C1946.22,286.65 1945.31,284.04 1945.52,280.11 C1945.73,276.19 1948.53,272.27 1950.7,267.56 C1952.87,262.85 1956.5,257.1 1958.54,251.86 C1960.58,246.63 1962.34,240.09 1962.94,236.17 C1963.54,232.25 1962.55,230.94 1962.15,228.32 C1961.76,225.71 1961.32,223.62 1960.58,220.48 C1959.85,217.34 1957.76,213.41 1957.76,209.49 C1957.76,205.57 1959.41,200.34 1960.58,196.94 C1961.76,193.54 1963.46,193.01 1964.82,189.09 C1966.18,185.17 1967.88,178.63 1968.75,173.4 C1969.61,168.16 1969.4,162.93 1970,157.7 C1970.6,152.47 1971.39,147.24 1972.35,142.01 C1973.32,136.78 1974.92,131.55 1975.81,126.32 C1976.7,121.08 1976.91,115.28 1977.69,110.62 C1978.48,105.97 1979.91,100.5 1980.52,98.38 C1981.12,96.26 1981.17,97.96 1981.3,97.88 Z" fill="#FC8D62" stroke="#3a3a3a" stroke-width="0.7"/>
<path d="M2069.6,99.92 C2069.81,100 2070.57,97.33 2070.86,100.42 C2071.14,103.51 2070.93,111.54 2071.33,118.47 C2071.72,125.4 2072.79,134.16 2073.21,142.01 C2073.63,149.86 2073.52,159.01 2073.84,165.55 C2074.15,172.09 2074.36,177.32 2075.09,181.24 C2075.83,185.17 2076.27,186.47 2078.23,189.09 C2080.19,191.71 2084.33,194.32 2086.86,196.94 C2089.4,199.55 2091.83,200.86 2093.45,204.78 C2095.08,208.71 2096.33,215.25 2096.59,220.48 C2096.85,225.71 2095.6,230.94 2095.02,236.17 C2094.45,241.4 2093.35,246.63 2093.14,251.86 C2092.93,257.1 2093.38,262.33 2093.77,267.56 C2094.16,272.79 2095.13,278.02 2095.49,283.25 C2095.86,288.48 2096.88,293.71 2095.97,298.95 C2095.05,304.18 2091.91,310.45 2090,314.64 C2088.09,318.82 2085.82,321.75 2084.51,324.06 C2083.2,326.36 2082.55,327.72 2082.15,328.45 L2057.05,328.45 C2056.65,327.72 2056,326.36 2054.69,324.06 C2053.38,321.75 2051.11,318.82 2049.2,314.64 C2047.29,310.45 2044.15,304.18 2043.23,298.95 C2042.32,293.71 2043.34,288.48 2043.71,283.25 C2044.07,278.02 2045.04,272.79 2045.43,267.56 C2045.82,262.33 2046.27,257.1 2046.06,251.86 C2045.85,246.63 2044.75,241.4 2044.18,236.17 C2043.6,230.94 2042.35,225.71 2042.61,220.48 C2042.87,215.25 2044.12,208.71 2045.75,204.78 C2047.37,200.86 2049.8,199.55 2052.34,196.94 C2054.87,194.32 2059.01,191.71 2060.97,189.09 C2062.93,186.47 2063.37,185.17 2064.11,181.24 C2064.84,177.32 2065.05,172.09 2065.36,165.55 C2065.68,159.01 2065.57,149.86 2065.99,142.01 C2066.41,134.16 2067.48,125.4 2067.87,118.47 C2068.27,111.54 2068.06,103.51 2068.34,100.42 C2068.63,97.33 2069.39,100 2069.6,99.92 Z" fill="#8DA0CB" stroke="#3a3a3a" stroke-width="0.7"/>
<rect x="1853" y="197.41" width="80" height="24.64" fill="none" stroke="#000" stroke-width="1.2"/>
<line x1="1853" y1="209.18" x2="1933" y2="209.18" stroke="#000" stroke-width="3.6"/>
<line x1="1941.3" y1="234.6" x2="2021.3" y2="234.6" stroke="#000" stroke-width="4.4"/>
<rect x="2029.6" y="245.9" width="80" height="11.46" fill="none" stroke="#000" stroke-width="1.2"/>
<line x1="2029.6" y1="251.55" x2="2109.6" y2="251.55" stroke="#000" stroke-width="3.6"/>
<path d="M1893,65.5 V58.5 H2069.6 V65.5" fill="none" stroke="#333333" stroke-width="1.3"/>
<text transform="translate(1982.05,63.2) scale(1,0.9)" font-size="23" letter-spacing="1.5" text-anchor="middle" stroke="#000" stroke-width="0.35">***</text>
<path d="M1893,82 V75 H1981.3 V82" fill="none" stroke="#333333" stroke-width="1.3"/>
<text transform="translate(1937.9,78.5) scale(1,0.9)" font-size="23" letter-spacing="1.5" text-anchor="middle" stroke="#000" stroke-width="0.35">**</text>
<path d="M1981.3,98.8 V91.8 H2069.6 V98.8" fill="none" stroke="#333333" stroke-width="1.3"/>
<text transform="translate(2026.2,96.8) scale(1,0.9)" font-size="23" letter-spacing="1.5" text-anchor="middle" stroke="#000" stroke-width="0.35">***</text>
<line x1="1839.5" y1="343.3" x2="2123" y2="343.3" stroke="#111" stroke-width="1.9"/>
<line x1="1893" y1="343.3" x2="1893" y2="347.6" stroke="#333333" stroke-width="1.4"/>
<text x="1892.65" y="376.9" font-size="26" text-anchor="middle">PAR1</text>
<line x1="1981.3" y1="343.3" x2="1981.3" y2="347.6" stroke="#333333" stroke-width="1.4"/>
<text x="1978.62" y="376.9" font-size="26" text-anchor="middle">X</text>
<line x1="2069.6" y1="343.3" x2="2069.6" y2="347.6" stroke="#333333" stroke-width="1.4"/>
<text x="2068.67" y="376.9" font-size="26" text-anchor="middle">Y</text>
<text x="1982.92" y="32.2" font-size="29.2" text-anchor="middle">Siamang</text>
<line x1="88.3" y1="45.5" x2="88.3" y2="344.2" stroke="#111" stroke-width="1.9"/>
<line x1="82.5" y1="76.2" x2="88.2" y2="76.2" stroke="#333333" stroke-width="1.4"/>
<text x="81.71" y="84.9" font-size="24" text-anchor="end">1.00</text>
<line x1="82.5" y1="151.2" x2="88.2" y2="151.2" stroke="#333333" stroke-width="1.4"/>
<text x="81.81" y="159.9" font-size="24" text-anchor="end">0.75</text>
<line x1="82.5" y1="226.2" x2="88.2" y2="226.2" stroke="#333333" stroke-width="1.4"/>
<text x="81.71" y="234.9" font-size="24" text-anchor="end">0.50</text>
<line x1="82.5" y1="301.2" x2="88.2" y2="301.2" stroke="#333333" stroke-width="1.4"/>
<text x="81.81" y="309.9" font-size="24" text-anchor="end">0.25</text>
<text transform="translate(24.4,179.9) rotate(-90)" font-size="29.7" text-anchor="middle">Methylation (mC/C)</text>
<text x="51.6" y="22.6" font-size="38" text-anchor="start" font-weight="bold">a</text>
<line x1="122.5" y1="556.56" x2="122.5" y2="570.75" stroke="#333333" stroke-width="1.7"/>
<line x1="122.5" y1="592.2" x2="122.5" y2="621.9" stroke="#333333" stroke-width="1.7"/>
<rect x="118.5" y="622.56" width="8" height="37.29" rx="4" fill="#333333"/>
<rect x="99" y="570.75" width="47" height="21.45" fill="#66C2A5" stroke="#333333" stroke-width="1.8" stroke-linejoin="round"/>
<line x1="99" y1="580.65" x2="146" y2="580.65" stroke="#333333" stroke-width="4.2"/>
<line x1="184.55" y1="556.56" x2="184.55" y2="566.79" stroke="#333333" stroke-width="1.7"/>
<line x1="184.55" y1="598.14" x2="184.55" y2="643.35" stroke="#333333" stroke-width="1.7"/>
<rect x="180.55" y="643.35" width="8" height="16.5" rx="4" fill="#333333"/>
<rect x="161.05" y="566.79" width="47" height="31.35" fill="#FC8D62" stroke="#333333" stroke-width="1.8" stroke-linejoin="round"/>
<line x1="161.05" y1="578.34" x2="208.05" y2="578.34" stroke="#333333" stroke-width="4.2"/>
<line x1="246.6" y1="556.56" x2="246.6" y2="588.24" stroke="#333333" stroke-width="1.7"/>
<line x1="246.6" y1="622.89" x2="246.6" y2="657.21" stroke="#333333" stroke-width="1.7"/>
<rect x="223.1" y="588.24" width="47" height="34.65" fill="#8DA0CB" stroke="#333333" stroke-width="1.8" stroke-linejoin="round"/>
<line x1="223.1" y1="605.4" x2="270.1" y2="605.4" stroke="#333333" stroke-width="4.2"/>
<path d="M122.5,516 V511.5 H246.6 V516" fill="none" stroke="#111" stroke-width="1.9" stroke-linejoin="round"/>
<text transform="translate(185.3,509.9) scale(1,0.9)" font-size="23" letter-spacing="1.5" text-anchor="middle" stroke="#000" stroke-width="0.35">***</text>
<path d="M184.55,535.9 V531.4 H246.6 V535.9" fill="none" stroke="#111" stroke-width="1.9" stroke-linejoin="round"/>
<text transform="translate(216.32,531) scale(1,0.9)" font-size="23" letter-spacing="1.5" text-anchor="middle" stroke="#000" stroke-width="0.35">***</text>
<path d="M122.5,556.1 V551.6 H184.55 V556.1" fill="none" stroke="#111" stroke-width="1.9" stroke-linejoin="round"/>
<text transform="translate(154.28,551.8) scale(1,0.9)" font-size="23" letter-spacing="1.5" text-anchor="middle" stroke="#000" stroke-width="0.35">*</text>
<line x1="351.43" y1="556.56" x2="351.43" y2="573.06" stroke="#333333" stroke-width="1.7"/>
<line x1="351.43" y1="605.4" x2="351.43" y2="653.25" stroke="#333333" stroke-width="1.7"/>
<circle cx="351.43" cy="657.21" r="3.1" fill="none" stroke="#333333" stroke-width="1.6"/>
<rect x="327.93" y="573.06" width="47" height="32.34" fill="#66C2A5" stroke="#333333" stroke-width="1.8" stroke-linejoin="round"/>
<line x1="327.93" y1="586.59" x2="374.93" y2="586.59" stroke="#333333" stroke-width="4.2"/>
<line x1="413.48" y1="556.56" x2="413.48" y2="582.3" stroke="#333333" stroke-width="1.7"/>
<line x1="413.48" y1="619.59" x2="413.48" y2="657.21" stroke="#333333" stroke-width="1.7"/>
<rect x="389.98" y="582.3" width="47" height="37.29" fill="#FC8D62" stroke="#333333" stroke-width="1.8" stroke-linejoin="round"/>
<line x1="389.98" y1="602.1" x2="436.98" y2="602.1" stroke="#333333" stroke-width="4.2"/>
<line x1="475.53" y1="556.56" x2="475.53" y2="596.16" stroke="#333333" stroke-width="1.7"/>
<line x1="475.53" y1="629.16" x2="475.53" y2="657.21" stroke="#333333" stroke-width="1.7"/>
<rect x="452.03" y="596.16" width="47" height="33" fill="#8DA0CB" stroke="#333333" stroke-width="1.8" stroke-linejoin="round"/>
<line x1="452.03" y1="613.65" x2="499.03" y2="613.65" stroke="#333333" stroke-width="4.2"/>
<path d="M351.43,516 V511.5 H475.53 V516" fill="none" stroke="#111" stroke-width="1.9" stroke-linejoin="round"/>
<text transform="translate(414.23,509.9) scale(1,0.9)" font-size="23" letter-spacing="1.5" text-anchor="middle" stroke="#000" stroke-width="0.35">***</text>
<path d="M413.48,535.9 V531.4 H475.53 V535.9" fill="none" stroke="#111" stroke-width="1.9" stroke-linejoin="round"/>
<text transform="translate(445.25,531) scale(1,0.9)" font-size="23" letter-spacing="1.5" text-anchor="middle" stroke="#000" stroke-width="0.35">***</text>
<path d="M351.43,556.1 V551.6 H413.48 V556.1" fill="none" stroke="#111" stroke-width="1.9" stroke-linejoin="round"/>
<text transform="translate(383.21,551.8) scale(1,0.9)" font-size="23" letter-spacing="1.5" text-anchor="middle" stroke="#000" stroke-width="0.35">***</text>
<line x1="580.36" y1="556.56" x2="580.36" y2="575.7" stroke="#333333" stroke-width="1.7"/>
<line x1="580.36" y1="614.64" x2="580.36" y2="655.89" stroke="#333333" stroke-width="1.7"/>
<rect x="556.86" y="575.7" width="47" height="38.94" fill="#66C2A5" stroke="#333333" stroke-width="1.8" stroke-linejoin="round"/>
<line x1="556.86" y1="595.17" x2="603.86" y2="595.17" stroke="#333333" stroke-width="4.2"/>
<line x1="642.41" y1="556.56" x2="642.41" y2="587.25" stroke="#333333" stroke-width="1.7"/>
<line x1="642.41" y1="622.89" x2="642.41" y2="657.21" stroke="#333333" stroke-width="1.7"/>
<rect x="618.91" y="587.25" width="47" height="35.64" fill="#FC8D62" stroke="#333333" stroke-width="1.8" stroke-linejoin="round"/>
<line x1="618.91" y1="605.4" x2="665.91" y2="605.4" stroke="#333333" stroke-width="4.2"/>
<line x1="704.46" y1="556.56" x2="704.46" y2="592.2" stroke="#333333" stroke-width="1.7"/>
<line x1="704.46" y1="626.85" x2="704.46" y2="657.21" stroke="#333333" stroke-width="1.7"/>
<rect x="680.96" y="592.2" width="47" height="34.65" fill="#8DA0CB" stroke="#333333" stroke-width="1.8" stroke-linejoin="round"/>
<line x1="680.96" y1="611.34" x2="727.96" y2="611.34" stroke="#333333" stroke-width="4.2"/>
<path d="M580.36,516 V511.5 H704.46 V516" fill="none" stroke="#111" stroke-width="1.9" stroke-linejoin="round"/>
<text transform="translate(643.16,509.9) scale(1,0.9)" font-size="23" letter-spacing="1.5" text-anchor="middle" stroke="#000" stroke-width="0.35">***</text>
<path d="M642.41,535.9 V531.4 H704.46 V535.9" fill="none" stroke="#111" stroke-width="1.9" stroke-linejoin="round"/>
<text transform="translate(674.18,531) scale(1,0.9)" font-size="23" letter-spacing="1.5" text-anchor="middle" stroke="#000" stroke-width="0.35">***</text>
<path d="M580.36,556.1 V551.6 H642.41 V556.1" fill="none" stroke="#111" stroke-width="1.9" stroke-linejoin="round"/>
<text transform="translate(612.13,551.8) scale(1,0.9)" font-size="23" letter-spacing="1.5" text-anchor="middle" stroke="#000" stroke-width="0.35">***</text>
<line x1="809.29" y1="560.19" x2="809.29" y2="577.35" stroke="#333333" stroke-width="1.7"/>
<line x1="809.29" y1="615.3" x2="809.29" y2="654.9" stroke="#333333" stroke-width="1.7"/>
<rect x="785.79" y="577.35" width="47" height="37.95" fill="#66C2A5" stroke="#333333" stroke-width="1.8" stroke-linejoin="round"/>
<line x1="785.79" y1="592.2" x2="832.79" y2="592.2" stroke="#333333" stroke-width="4.2"/>
<line x1="871.34" y1="556.56" x2="871.34" y2="577.35" stroke="#333333" stroke-width="1.7"/>
<line x1="871.34" y1="620.91" x2="871.34" y2="657.21" stroke="#333333" stroke-width="1.7"/>
<rect x="847.84" y="577.35" width="47" height="43.56" fill="#FC8D62" stroke="#333333" stroke-width="1.8" stroke-linejoin="round"/>
<line x1="847.84" y1="597.15" x2="894.84" y2="597.15" stroke="#333333" stroke-width="4.2"/>
<line x1="933.39" y1="557.55" x2="933.39" y2="585.6" stroke="#333333" stroke-width="1.7"/>
<line x1="933.39" y1="626.85" x2="933.39" y2="657.21" stroke="#333333" stroke-width="1.7"/>
<rect x="909.89" y="585.6" width="47" height="41.25" fill="#8DA0CB" stroke="#333333" stroke-width="1.8" stroke-linejoin="round"/>
<line x1="909.89" y1="606.39" x2="956.89" y2="606.39" stroke="#333333" stroke-width="4.2"/>
<path d="M809.29,516 V511.5 H933.39 V516" fill="none" stroke="#111" stroke-width="1.9" stroke-linejoin="round"/>
<text transform="translate(872.09,509.9) scale(1,0.9)" font-size="23" letter-spacing="1.5" text-anchor="middle" stroke="#000" stroke-width="0.35">***</text>
<path d="M871.34,535.9 V531.4 H933.39 V535.9" fill="none" stroke="#111" stroke-width="1.9" stroke-linejoin="round"/>
<text transform="translate(903.12,531) scale(1,0.9)" font-size="23" letter-spacing="1.5" text-anchor="middle" stroke="#000" stroke-width="0.35">***</text>
<path d="M809.29,556.1 V551.6 H871.34 V556.1" fill="none" stroke="#111" stroke-width="1.9" stroke-linejoin="round"/>
<text x="839.9" y="550" font-size="28" text-anchor="middle">ns</text>
<line x1="1038.22" y1="556.56" x2="1038.22" y2="566.46" stroke="#333333" stroke-width="1.7"/>
<line x1="1038.22" y1="595.5" x2="1038.22" y2="616.95" stroke="#333333" stroke-width="1.7"/>
<circle cx="1038.22" cy="650.61" r="3.1" fill="none" stroke="#333333" stroke-width="1.6"/>
<rect x="1014.72" y="566.46" width="47" height="29.04" fill="#66C2A5" stroke="#333333" stroke-width="1.8" stroke-linejoin="round"/>
<line x1="1014.72" y1="568.11" x2="1061.72" y2="568.11" stroke="#333333" stroke-width="4.2"/>
<line x1="1100.27" y1="556.56" x2="1100.27" y2="582.3" stroke="#333333" stroke-width="1.7"/>
<line x1="1100.27" y1="617.61" x2="1100.27" y2="653.91" stroke="#333333" stroke-width="1.7"/>
<rect x="1076.77" y="582.3" width="47" height="35.31" fill="#FC8D62" stroke="#333333" stroke-width="1.8" stroke-linejoin="round"/>
<line x1="1076.77" y1="602.1" x2="1123.77" y2="602.1" stroke="#333333" stroke-width="4.2"/>
<line x1="1162.32" y1="559.2" x2="1162.32" y2="599.46" stroke="#333333" stroke-width="1.7"/>
<line x1="1162.32" y1="631.14" x2="1162.32" y2="657.21" stroke="#333333" stroke-width="1.7"/>
<rect x="1138.82" y="599.46" width="47" height="31.68" fill="#8DA0CB" stroke="#333333" stroke-width="1.8" stroke-linejoin="round"/>
<line x1="1138.82" y1="615.3" x2="1185.82" y2="615.3" stroke="#333333" stroke-width="4.2"/>
<path d="M1038.22,516 V511.5 H1162.32 V516" fill="none" stroke="#111" stroke-width="1.9" stroke-linejoin="round"/>
<text transform="translate(1101.02,509.9) scale(1,0.9)" font-size="23" letter-spacing="1.5" text-anchor="middle" stroke="#000" stroke-width="0.35">***</text>
<path d="M1100.27,535.9 V531.4 H1162.32 V535.9" fill="none" stroke="#111" stroke-width="1.9" stroke-linejoin="round"/>
<text transform="translate(1132.05,531) scale(1,0.9)" font-size="23" letter-spacing="1.5" text-anchor="middle" stroke="#000" stroke-width="0.35">***</text>
<path d="M1038.22,556.1 V551.6 H1100.27 V556.1" fill="none" stroke="#111" stroke-width="1.9" stroke-linejoin="round"/>
<text transform="translate(1069.99,551.8) scale(1,0.9)" font-size="23" letter-spacing="1.5" text-anchor="middle" stroke="#000" stroke-width="0.35">***</text>
<line x1="1267.15" y1="557.55" x2="1267.15" y2="579.99" stroke="#333333" stroke-width="1.7"/>
<line x1="1267.15" y1="621.9" x2="1267.15" y2="657.21" stroke="#333333" stroke-width="1.7"/>
<rect x="1243.65" y="579.99" width="47" height="41.91" fill="#66C2A5" stroke="#333333" stroke-width="1.8" stroke-linejoin="round"/>
<line x1="1243.65" y1="600.45" x2="1290.65" y2="600.45" stroke="#333333" stroke-width="4.2"/>
<line x1="1329.2" y1="556.56" x2="1329.2" y2="576.03" stroke="#333333" stroke-width="1.7"/>
<line x1="1329.2" y1="634.11" x2="1329.2" y2="657.21" stroke="#333333" stroke-width="1.7"/>
<rect x="1305.7" y="576.03" width="47" height="58.08" fill="#FC8D62" stroke="#333333" stroke-width="1.8" stroke-linejoin="round"/>
<line x1="1305.7" y1="601.11" x2="1352.7" y2="601.11" stroke="#333333" stroke-width="4.2"/>
<line x1="1391.25" y1="557.55" x2="1391.25" y2="592.2" stroke="#333333" stroke-width="1.7"/>
<line x1="1391.25" y1="618.6" x2="1391.25" y2="652.26" stroke="#333333" stroke-width="1.7"/>
<circle cx="1391.25" cy="658.2" r="3.1" fill="none" stroke="#333333" stroke-width="1.6"/>
<rect x="1367.75" y="592.2" width="47" height="26.4" fill="#8DA0CB" stroke="#333333" stroke-width="1.8" stroke-linejoin="round"/>
<line x1="1367.75" y1="603.42" x2="1414.75" y2="603.42" stroke="#333333" stroke-width="4.2"/>
<path d="M1267.15,516 V511.5 H1391.25 V516" fill="none" stroke="#111" stroke-width="1.9" stroke-linejoin="round"/>
<text transform="translate(1329.95,509.9) scale(1,0.9)" font-size="23" letter-spacing="1.5" text-anchor="middle" stroke="#000" stroke-width="0.35">***</text>
<path d="M1329.2,535.9 V531.4 H1391.25 V535.9" fill="none" stroke="#111" stroke-width="1.9" stroke-linejoin="round"/>
<text transform="translate(1360.97,531) scale(1,0.9)" font-size="23" letter-spacing="1.5" text-anchor="middle" stroke="#000" stroke-width="0.35">***</text>
<path d="M1267.15,556.1 V551.6 H1329.2 V556.1" fill="none" stroke="#111" stroke-width="1.9" stroke-linejoin="round"/>
<text x="1297.76" y="550" font-size="28" text-anchor="middle">ns</text>
<line x1="1496.08" y1="563.16" x2="1496.08" y2="579.99" stroke="#333333" stroke-width="1.7"/>
<line x1="1496.08" y1="600.45" x2="1496.08" y2="616.95" stroke="#333333" stroke-width="1.7"/>
<rect x="1472.58" y="579.99" width="47" height="20.46" fill="#66C2A5" stroke="#333333" stroke-width="1.8" stroke-linejoin="round"/>
<line x1="1472.58" y1="591.21" x2="1519.58" y2="591.21" stroke="#333333" stroke-width="4.2"/>
<line x1="1558.13" y1="560.85" x2="1558.13" y2="590.55" stroke="#333333" stroke-width="1.7"/>
<line x1="1558.13" y1="615.3" x2="1558.13" y2="651.6" stroke="#333333" stroke-width="1.7"/>
<circle cx="1558.13" cy="657.21" r="3.1" fill="none" stroke="#333333" stroke-width="1.6"/>
<rect x="1534.63" y="590.55" width="47" height="24.75" fill="#FC8D62" stroke="#333333" stroke-width="1.8" stroke-linejoin="round"/>
<line x1="1534.63" y1="601.11" x2="1581.63" y2="601.11" stroke="#333333" stroke-width="4.2"/>
<line x1="1620.18" y1="564.15" x2="1620.18" y2="594.51" stroke="#333333" stroke-width="1.7"/>
<line x1="1620.18" y1="621.9" x2="1620.18" y2="657.21" stroke="#333333" stroke-width="1.7"/>
<rect x="1596.68" y="594.51" width="47" height="27.39" fill="#8DA0CB" stroke="#333333" stroke-width="1.8" stroke-linejoin="round"/>
<line x1="1596.68" y1="610.35" x2="1643.68" y2="610.35" stroke="#333333" stroke-width="4.2"/>
<path d="M1496.08,516 V511.5 H1620.18 V516" fill="none" stroke="#111" stroke-width="1.9" stroke-linejoin="round"/>
<text transform="translate(1558.88,509.9) scale(1,0.9)" font-size="23" letter-spacing="1.5" text-anchor="middle" stroke="#000" stroke-width="0.35">***</text>
<path d="M1558.13,535.9 V531.4 H1620.18 V535.9" fill="none" stroke="#111" stroke-width="1.9" stroke-linejoin="round"/>
<text transform="translate(1589.9,531) scale(1,0.9)" font-size="23" letter-spacing="1.5" text-anchor="middle" stroke="#000" stroke-width="0.35">*</text>
<path d="M1496.08,556.1 V551.6 H1558.13 V556.1" fill="none" stroke="#111" stroke-width="1.9" stroke-linejoin="round"/>
<text transform="translate(1527.86,551.8) scale(1,0.9)" font-size="23" letter-spacing="1.5" text-anchor="middle" stroke="#000" stroke-width="0.35">**</text>
<line x1="85" y1="488.3" x2="85" y2="665.7" stroke="#111" stroke-width="1.8"/>
<line x1="78.3" y1="657.3" x2="85" y2="657.3" stroke="#333333" stroke-width="1.5"/>
<text x="77.62" y="665.6" font-size="24" text-anchor="end">0.0</text>
<line x1="78.3" y1="606.95" x2="85" y2="606.95" stroke="#333333" stroke-width="1.5"/>
<text x="77.72" y="615.25" font-size="24" text-anchor="end">0.5</text>
<line x1="78.3" y1="556.6" x2="85" y2="556.6" stroke="#333333" stroke-width="1.5"/>
<text x="77.62" y="564.9" font-size="24" text-anchor="end">1.0</text>
<line x1="1724.4" y1="488.4" x2="1724.4" y2="665.6" stroke="#111" stroke-width="1.8"/>
<line x1="1718.4" y1="639.29" x2="1724.4" y2="639.29" stroke="#333333" stroke-width="1.5"/>
<text x="1715.57" y="647.79" font-size="24" text-anchor="end">0.3</text>
<line x1="1718.4" y1="585.5" x2="1724.4" y2="585.5" stroke="#333333" stroke-width="1.5"/>
<text x="1715.57" y="594" font-size="24" text-anchor="end">0.6</text>
<line x1="1718.4" y1="531.71" x2="1724.4" y2="531.71" stroke="#333333" stroke-width="1.5"/>
<text x="1715.67" y="540.21" font-size="24" text-anchor="end">0.9</text>
<line x1="1765.8" y1="550.95" x2="1765.8" y2="580.65" stroke="#333333" stroke-width="1.7"/>
<line x1="1765.8" y1="602.1" x2="1765.8" y2="615.3" stroke="#333333" stroke-width="1.7"/>
<rect x="1761.8" y="538.74" width="8" height="8" rx="4" fill="#333333"/>
<rect x="1739.4" y="580.65" width="52.8" height="21.45" fill="#FC8D62" stroke="#333333" stroke-width="1.8" stroke-linejoin="round"/>
<line x1="1739.4" y1="597.15" x2="1792.2" y2="597.15" stroke="#333333" stroke-width="4.2"/>
<line x1="1949" y1="579" x2="1949" y2="599.79" stroke="#333333" stroke-width="1.7"/>
<line x1="1949" y1="617.61" x2="1949" y2="631.14" stroke="#333333" stroke-width="1.7"/>
<circle cx="1949" cy="550.29" r="3.1" fill="none" stroke="#333333" stroke-width="1.6"/>
<circle cx="1949" cy="552.89" r="3.1" fill="none" stroke="#333333" stroke-width="1.6"/>
<circle cx="1949" cy="555.49" r="3.1" fill="none" stroke="#333333" stroke-width="1.6"/>
<circle cx="1949" cy="558.09" r="3.1" fill="none" stroke="#333333" stroke-width="1.6"/>
<circle cx="1949" cy="560.69" r="3.1" fill="none" stroke="#333333" stroke-width="1.6"/>
<circle cx="1949" cy="563.29" r="3.1" fill="none" stroke="#333333" stroke-width="1.6"/>
<circle cx="1949" cy="565.89" r="3.1" fill="none" stroke="#333333" stroke-width="1.6"/>
<circle cx="1949" cy="568.49" r="3.1" fill="none" stroke="#333333" stroke-width="1.6"/>
<circle cx="1949" cy="571.09" r="3.1" fill="none" stroke="#333333" stroke-width="1.6"/>
<rect x="1922.6" y="599.79" width="52.8" height="17.82" fill="#8DA0CB" stroke="#333333" stroke-width="1.8" stroke-linejoin="round"/>
<line x1="1922.6" y1="610.68" x2="1975.4" y2="610.68" stroke="#333333" stroke-width="4.2"/>
<line x1="1835.8" y1="527.19" x2="1835.8" y2="569.1" stroke="#333333" stroke-width="1.7"/>
<line x1="1835.8" y1="607.05" x2="1835.8" y2="644.01" stroke="#333333" stroke-width="1.7"/>
<rect x="1809.4" y="569.1" width="52.8" height="37.95" fill="#FC8D62" stroke="#333333" stroke-width="1.8" stroke-linejoin="round"/>
<line x1="1809.4" y1="591.21" x2="1862.2" y2="591.21" stroke="#333333" stroke-width="4.2"/>
<line x1="2018.6" y1="532.8" x2="2018.6" y2="565.14" stroke="#333333" stroke-width="1.7"/>
<line x1="2018.6" y1="604.08" x2="2018.6" y2="620.25" stroke="#333333" stroke-width="1.7"/>
<rect x="1992.2" y="565.14" width="52.8" height="38.94" fill="#8DA0CB" stroke="#333333" stroke-width="1.8" stroke-linejoin="round"/>
<line x1="1992.2" y1="584.61" x2="2045" y2="584.61" stroke="#333333" stroke-width="4.2"/>
<path d="M1765.8,521.3 V516.8 H1835.8 V521.3" fill="none" stroke="#111" stroke-width="1.9" stroke-linejoin="round"/>
<text x="1800.39" y="513.8" font-size="28" text-anchor="middle">ns</text>
<path d="M1949,521.3 V516.8 H2018.6 V521.3" fill="none" stroke="#111" stroke-width="1.9" stroke-linejoin="round"/>
<text transform="translate(1984.55,519.1) scale(1,0.9)" font-size="23" letter-spacing="1.5" text-anchor="middle" stroke="#000" stroke-width="0.35">***</text>
<text transform="translate(2075,573.8) rotate(90)" font-size="28.9" text-anchor="middle">Bonobo</text>
<line x1="122.5" y1="766.56" x2="122.5" y2="778.44" stroke="#333333" stroke-width="1.7"/>
<line x1="122.5" y1="812.76" x2="122.5" y2="861.6" stroke="#333333" stroke-width="1.7"/>
<circle cx="122.5" cy="866.55" r="3.1" fill="none" stroke="#333333" stroke-width="1.6"/>
<rect x="99" y="778.44" width="47" height="34.32" fill="#66C2A5" stroke="#333333" stroke-width="1.8" stroke-linejoin="round"/>
<line x1="99" y1="794.94" x2="146" y2="794.94" stroke="#333333" stroke-width="4.2"/>
<line x1="184.55" y1="766.56" x2="184.55" y2="782.4" stroke="#333333" stroke-width="1.7"/>
<line x1="184.55" y1="832.56" x2="184.55" y2="866.55" stroke="#333333" stroke-width="1.7"/>
<rect x="161.05" y="782.4" width="47" height="50.16" fill="#FC8D62" stroke="#333333" stroke-width="1.8" stroke-linejoin="round"/>
<line x1="161.05" y1="807.15" x2="208.05" y2="807.15" stroke="#333333" stroke-width="4.2"/>
<line x1="246.6" y1="766.56" x2="246.6" y2="805.5" stroke="#333333" stroke-width="1.7"/>
<line x1="246.6" y1="848.4" x2="246.6" y2="866.55" stroke="#333333" stroke-width="1.7"/>
<rect x="223.1" y="805.5" width="47" height="42.9" fill="#8DA0CB" stroke="#333333" stroke-width="1.8" stroke-linejoin="round"/>
<line x1="223.1" y1="829.26" x2="270.1" y2="829.26" stroke="#333333" stroke-width="4.2"/>
<path d="M122.5,725.1 V720.6 H246.6 V725.1" fill="none" stroke="#111" stroke-width="1.9" stroke-linejoin="round"/>
<text transform="translate(185.3,719) scale(1,0.9)" font-size="23" letter-spacing="1.5" text-anchor="middle" stroke="#000" stroke-width="0.35">***</text>
<path d="M184.55,745 V740.5 H246.6 V745" fill="none" stroke="#111" stroke-width="1.9" stroke-linejoin="round"/>
<text transform="translate(216.32,740.1) scale(1,0.9)" font-size="23" letter-spacing="1.5" text-anchor="middle" stroke="#000" stroke-width="0.35">***</text>
<path d="M122.5,765.2 V760.7 H184.55 V765.2" fill="none" stroke="#111" stroke-width="1.9" stroke-linejoin="round"/>
<text transform="translate(154.28,760.9) scale(1,0.9)" font-size="23" letter-spacing="1.5" text-anchor="middle" stroke="#000" stroke-width="0.35">***</text>
<line x1="351.43" y1="766.56" x2="351.43" y2="780.09" stroke="#333333" stroke-width="1.7"/>
<line x1="351.43" y1="826.95" x2="351.43" y2="866.55" stroke="#333333" stroke-width="1.7"/>
<rect x="327.93" y="780.09" width="47" height="46.86" fill="#66C2A5" stroke="#333333" stroke-width="1.8" stroke-linejoin="round"/>
<line x1="327.93" y1="798.9" x2="374.93" y2="798.9" stroke="#333333" stroke-width="4.2"/>
<line x1="413.48" y1="766.56" x2="413.48" y2="809.79" stroke="#333333" stroke-width="1.7"/>
<line x1="413.48" y1="849.72" x2="413.48" y2="866.55" stroke="#333333" stroke-width="1.7"/>
<rect x="389.98" y="809.79" width="47" height="39.93" fill="#FC8D62" stroke="#333333" stroke-width="1.8" stroke-linejoin="round"/>
<line x1="389.98" y1="834.21" x2="436.98" y2="834.21" stroke="#333333" stroke-width="4.2"/>
<line x1="475.53" y1="770.85" x2="475.53" y2="818.7" stroke="#333333" stroke-width="1.7"/>
<line x1="475.53" y1="852.36" x2="475.53" y2="866.55" stroke="#333333" stroke-width="1.7"/>
<circle cx="475.53" cy="767.55" r="3.1" fill="none" stroke="#333333" stroke-width="1.6"/>
<rect x="452.03" y="818.7" width="47" height="33.66" fill="#8DA0CB" stroke="#333333" stroke-width="1.8" stroke-linejoin="round"/>
<line x1="452.03" y1="837.84" x2="499.03" y2="837.84" stroke="#333333" stroke-width="4.2"/>
<path d="M351.43,725.1 V720.6 H475.53 V725.1" fill="none" stroke="#111" stroke-width="1.9" stroke-linejoin="round"/>
<text transform="translate(414.23,719) scale(1,0.9)" font-size="23" letter-spacing="1.5" text-anchor="middle" stroke="#000" stroke-width="0.35">***</text>
<path d="M413.48,745 V740.5 H475.53 V745" fill="none" stroke="#111" stroke-width="1.9" stroke-linejoin="round"/>
<text transform="translate(445.25,740.1) scale(1,0.9)" font-size="23" letter-spacing="1.5" text-anchor="middle" stroke="#000" stroke-width="0.35">***</text>
<path d="M351.43,765.2 V760.7 H413.48 V765.2" fill="none" stroke="#111" stroke-width="1.9" stroke-linejoin="round"/>
<text transform="translate(383.21,760.9) scale(1,0.9)" font-size="23" letter-spacing="1.5" text-anchor="middle" stroke="#000" stroke-width="0.35">***</text>
<line x1="580.36" y1="766.56" x2="580.36" y2="783.39" stroke="#333333" stroke-width="1.7"/>
<line x1="580.36" y1="831.24" x2="580.36" y2="866.55" stroke="#333333" stroke-width="1.7"/>
<rect x="556.86" y="783.39" width="47" height="47.85" fill="#66C2A5" stroke="#333333" stroke-width="1.8" stroke-linejoin="round"/>
<line x1="556.86" y1="803.19" x2="603.86" y2="803.19" stroke="#333333" stroke-width="4.2"/>
<line x1="642.41" y1="766.56" x2="642.41" y2="813.75" stroke="#333333" stroke-width="1.7"/>
<line x1="642.41" y1="851.7" x2="642.41" y2="866.55" stroke="#333333" stroke-width="1.7"/>
<rect x="618.91" y="813.75" width="47" height="37.95" fill="#FC8D62" stroke="#333333" stroke-width="1.8" stroke-linejoin="round"/>
<line x1="618.91" y1="835.86" x2="665.91" y2="835.86" stroke="#333333" stroke-width="4.2"/>
<line x1="704.46" y1="766.56" x2="704.46" y2="815.4" stroke="#333333" stroke-width="1.7"/>
<line x1="704.46" y1="851.7" x2="704.46" y2="866.55" stroke="#333333" stroke-width="1.7"/>
<rect x="680.96" y="815.4" width="47" height="36.3" fill="#8DA0CB" stroke="#333333" stroke-width="1.8" stroke-linejoin="round"/>
<line x1="680.96" y1="837.84" x2="727.96" y2="837.84" stroke="#333333" stroke-width="4.2"/>
<path d="M580.36,725.1 V720.6 H704.46 V725.1" fill="none" stroke="#111" stroke-width="1.9" stroke-linejoin="round"/>
<text transform="translate(643.16,719) scale(1,0.9)" font-size="23" letter-spacing="1.5" text-anchor="middle" stroke="#000" stroke-width="0.35">***</text>
<path d="M642.41,745 V740.5 H704.46 V745" fill="none" stroke="#111" stroke-width="1.9" stroke-linejoin="round"/>
<text transform="translate(674.18,740.1) scale(1,0.9)" font-size="23" letter-spacing="1.5" text-anchor="middle" stroke="#000" stroke-width="0.35">*</text>
<path d="M580.36,765.2 V760.7 H642.41 V765.2" fill="none" stroke="#111" stroke-width="1.9" stroke-linejoin="round"/>
<text transform="translate(612.13,760.9) scale(1,0.9)" font-size="23" letter-spacing="1.5" text-anchor="middle" stroke="#000" stroke-width="0.35">***</text>
<line x1="809.29" y1="766.56" x2="809.29" y2="784.71" stroke="#333333" stroke-width="1.7"/>
<line x1="809.29" y1="836.19" x2="809.29" y2="866.55" stroke="#333333" stroke-width="1.7"/>
<rect x="785.79" y="784.71" width="47" height="51.48" fill="#66C2A5" stroke="#333333" stroke-width="1.8" stroke-linejoin="round"/>
<line x1="785.79" y1="804.51" x2="832.79" y2="804.51" stroke="#333333" stroke-width="4.2"/>
<line x1="871.34" y1="766.56" x2="871.34" y2="799.89" stroke="#333333" stroke-width="1.7"/>
<line x1="871.34" y1="850.71" x2="871.34" y2="866.55" stroke="#333333" stroke-width="1.7"/>
<rect x="847.84" y="799.89" width="47" height="50.82" fill="#FC8D62" stroke="#333333" stroke-width="1.8" stroke-linejoin="round"/>
<line x1="847.84" y1="829.92" x2="894.84" y2="829.92" stroke="#333333" stroke-width="4.2"/>
<line x1="933.39" y1="766.56" x2="933.39" y2="812.1" stroke="#333333" stroke-width="1.7"/>
<line x1="933.39" y1="852.69" x2="933.39" y2="866.55" stroke="#333333" stroke-width="1.7"/>
<rect x="909.89" y="812.1" width="47" height="40.59" fill="#8DA0CB" stroke="#333333" stroke-width="1.8" stroke-linejoin="round"/>
<line x1="909.89" y1="835.86" x2="956.89" y2="835.86" stroke="#333333" stroke-width="4.2"/>
<path d="M809.29,725.1 V720.6 H933.39 V725.1" fill="none" stroke="#111" stroke-width="1.9" stroke-linejoin="round"/>
<text transform="translate(872.09,719) scale(1,0.9)" font-size="23" letter-spacing="1.5" text-anchor="middle" stroke="#000" stroke-width="0.35">***</text>
<path d="M871.34,745 V740.5 H933.39 V745" fill="none" stroke="#111" stroke-width="1.9" stroke-linejoin="round"/>
<text transform="translate(903.12,740.1) scale(1,0.9)" font-size="23" letter-spacing="1.5" text-anchor="middle" stroke="#000" stroke-width="0.35">***</text>
<path d="M809.29,765.2 V760.7 H871.34 V765.2" fill="none" stroke="#111" stroke-width="1.9" stroke-linejoin="round"/>
<text transform="translate(841.06,760.9) scale(1,0.9)" font-size="23" letter-spacing="1.5" text-anchor="middle" stroke="#000" stroke-width="0.35">***</text>
<line x1="1038.22" y1="768.21" x2="1038.22" y2="770.85" stroke="#333333" stroke-width="1.7"/>
<line x1="1038.22" y1="802.86" x2="1038.22" y2="836.85" stroke="#333333" stroke-width="1.7"/>
<circle cx="1038.22" cy="854.01" r="3.1" fill="none" stroke="#333333" stroke-width="1.6"/>
<rect x="1014.72" y="770.85" width="47" height="32.01" fill="#66C2A5" stroke="#333333" stroke-width="1.8" stroke-linejoin="round"/>
<line x1="1014.72" y1="779.76" x2="1061.72" y2="779.76" stroke="#333333" stroke-width="4.2"/>
<line x1="1100.27" y1="766.56" x2="1100.27" y2="795.6" stroke="#333333" stroke-width="1.7"/>
<line x1="1100.27" y1="843.45" x2="1100.27" y2="866.55" stroke="#333333" stroke-width="1.7"/>
<rect x="1076.77" y="795.6" width="47" height="47.85" fill="#FC8D62" stroke="#333333" stroke-width="1.8" stroke-linejoin="round"/>
<line x1="1076.77" y1="823.98" x2="1123.77" y2="823.98" stroke="#333333" stroke-width="4.2"/>
<line x1="1162.32" y1="790.65" x2="1162.32" y2="827.94" stroke="#333333" stroke-width="1.7"/>
<line x1="1162.32" y1="855.66" x2="1162.32" y2="866.55" stroke="#333333" stroke-width="1.7"/>
<rect x="1158.32" y="768.21" width="8" height="22.44" rx="4" fill="#333333"/>
<rect x="1138.82" y="827.94" width="47" height="27.72" fill="#8DA0CB" stroke="#333333" stroke-width="1.8" stroke-linejoin="round"/>
<line x1="1138.82" y1="845.1" x2="1185.82" y2="845.1" stroke="#333333" stroke-width="4.2"/>
<path d="M1038.22,725.1 V720.6 H1162.32 V725.1" fill="none" stroke="#111" stroke-width="1.9" stroke-linejoin="round"/>
<text transform="translate(1101.02,719) scale(1,0.9)" font-size="23" letter-spacing="1.5" text-anchor="middle" stroke="#000" stroke-width="0.35">***</text>
<path d="M1100.27,745 V740.5 H1162.32 V745" fill="none" stroke="#111" stroke-width="1.9" stroke-linejoin="round"/>
<text transform="translate(1132.05,740.1) scale(1,0.9)" font-size="23" letter-spacing="1.5" text-anchor="middle" stroke="#000" stroke-width="0.35">***</text>
<path d="M1038.22,765.2 V760.7 H1100.27 V765.2" fill="none" stroke="#111" stroke-width="1.9" stroke-linejoin="round"/>
<text transform="translate(1069.99,760.9) scale(1,0.9)" font-size="23" letter-spacing="1.5" text-anchor="middle" stroke="#000" stroke-width="0.35">***</text>
<line x1="1267.15" y1="766.56" x2="1267.15" y2="785.7" stroke="#333333" stroke-width="1.7"/>
<line x1="1267.15" y1="841.8" x2="1267.15" y2="866.55" stroke="#333333" stroke-width="1.7"/>
<rect x="1243.65" y="785.7" width="47" height="56.1" fill="#66C2A5" stroke="#333333" stroke-width="1.8" stroke-linejoin="round"/>
<line x1="1243.65" y1="814.74" x2="1290.65" y2="814.74" stroke="#333333" stroke-width="4.2"/>
<line x1="1329.2" y1="766.56" x2="1329.2" y2="800.88" stroke="#333333" stroke-width="1.7"/>
<line x1="1329.2" y1="858.96" x2="1329.2" y2="866.55" stroke="#333333" stroke-width="1.7"/>
<rect x="1305.7" y="800.88" width="47" height="58.08" fill="#FC8D62" stroke="#333333" stroke-width="1.8" stroke-linejoin="round"/>
<line x1="1305.7" y1="837.18" x2="1352.7" y2="837.18" stroke="#333333" stroke-width="4.2"/>
<line x1="1391.25" y1="766.56" x2="1391.25" y2="812.1" stroke="#333333" stroke-width="1.7"/>
<line x1="1391.25" y1="845.76" x2="1391.25" y2="866.55" stroke="#333333" stroke-width="1.7"/>
<rect x="1367.75" y="812.1" width="47" height="33.66" fill="#8DA0CB" stroke="#333333" stroke-width="1.8" stroke-linejoin="round"/>
<line x1="1367.75" y1="824.64" x2="1414.75" y2="824.64" stroke="#333333" stroke-width="4.2"/>
<path d="M1267.15,725.1 V720.6 H1391.25 V725.1" fill="none" stroke="#111" stroke-width="1.9" stroke-linejoin="round"/>
<text transform="translate(1329.95,719) scale(1,0.9)" font-size="23" letter-spacing="1.5" text-anchor="middle" stroke="#000" stroke-width="0.35">***</text>
<path d="M1329.2,745 V740.5 H1391.25 V745" fill="none" stroke="#111" stroke-width="1.9" stroke-linejoin="round"/>
<text transform="translate(1360.97,740.1) scale(1,0.9)" font-size="23" letter-spacing="1.5" text-anchor="middle" stroke="#000" stroke-width="0.35">***</text>
<path d="M1267.15,765.2 V760.7 H1329.2 V765.2" fill="none" stroke="#111" stroke-width="1.9" stroke-linejoin="round"/>
<text transform="translate(1298.93,760.9) scale(1,0.9)" font-size="23" letter-spacing="1.5" text-anchor="middle" stroke="#000" stroke-width="0.35">***</text>
<line x1="1496.08" y1="772.5" x2="1496.08" y2="786.36" stroke="#333333" stroke-width="1.7"/>
<line x1="1496.08" y1="808.8" x2="1496.08" y2="822.66" stroke="#333333" stroke-width="1.7"/>
<circle cx="1496.08" cy="850.71" r="3.1" fill="none" stroke="#333333" stroke-width="1.6"/>
<rect x="1472.58" y="786.36" width="47" height="22.44" fill="#66C2A5" stroke="#333333" stroke-width="1.8" stroke-linejoin="round"/>
<line x1="1472.58" y1="796.92" x2="1519.58" y2="796.92" stroke="#333333" stroke-width="4.2"/>
<line x1="1558.13" y1="765.24" x2="1558.13" y2="805.5" stroke="#333333" stroke-width="1.7"/>
<line x1="1558.13" y1="837.51" x2="1558.13" y2="863.25" stroke="#333333" stroke-width="1.7"/>
<rect x="1534.63" y="805.5" width="47" height="32.01" fill="#FC8D62" stroke="#333333" stroke-width="1.8" stroke-linejoin="round"/>
<line x1="1534.63" y1="821.34" x2="1581.63" y2="821.34" stroke="#333333" stroke-width="4.2"/>
<line x1="1620.18" y1="776.46" x2="1620.18" y2="810.78" stroke="#333333" stroke-width="1.7"/>
<line x1="1620.18" y1="842.46" x2="1620.18" y2="859.95" stroke="#333333" stroke-width="1.7"/>
<rect x="1596.68" y="810.78" width="47" height="31.68" fill="#8DA0CB" stroke="#333333" stroke-width="1.8" stroke-linejoin="round"/>
<line x1="1596.68" y1="827.61" x2="1643.68" y2="827.61" stroke="#333333" stroke-width="4.2"/>
<path d="M1496.08,725.1 V720.6 H1620.18 V725.1" fill="none" stroke="#111" stroke-width="1.9" stroke-linejoin="round"/>
<text transform="translate(1558.88,719) scale(1,0.9)" font-size="23" letter-spacing="1.5" text-anchor="middle" stroke="#000" stroke-width="0.35">***</text>
<path d="M1558.13,745 V740.5 H1620.18 V745" fill="none" stroke="#111" stroke-width="1.9" stroke-linejoin="round"/>
<text x="1588.74" y="738.7" font-size="28" text-anchor="middle">ns</text>
<path d="M1496.08,765.2 V760.7 H1558.13 V765.2" fill="none" stroke="#111" stroke-width="1.9" stroke-linejoin="round"/>
<text transform="translate(1527.86,760.9) scale(1,0.9)" font-size="23" letter-spacing="1.5" text-anchor="middle" stroke="#000" stroke-width="0.35">***</text>
<line x1="85" y1="697.4" x2="85" y2="874.8" stroke="#111" stroke-width="1.8"/>
<line x1="78.3" y1="866.4" x2="85" y2="866.4" stroke="#333333" stroke-width="1.5"/>
<text x="77.62" y="874.7" font-size="24" text-anchor="end">0.0</text>
<line x1="78.3" y1="816.05" x2="85" y2="816.05" stroke="#333333" stroke-width="1.5"/>
<text x="77.72" y="824.35" font-size="24" text-anchor="end">0.5</text>
<line x1="78.3" y1="765.7" x2="85" y2="765.7" stroke="#333333" stroke-width="1.5"/>
<text x="77.62" y="774" font-size="24" text-anchor="end">1.0</text>
<line x1="1724.4" y1="697.5" x2="1724.4" y2="874.7" stroke="#111" stroke-width="1.8"/>
<line x1="1718.4" y1="848.39" x2="1724.4" y2="848.39" stroke="#333333" stroke-width="1.5"/>
<text x="1715.57" y="856.89" font-size="24" text-anchor="end">0.3</text>
<line x1="1718.4" y1="794.6" x2="1724.4" y2="794.6" stroke="#333333" stroke-width="1.5"/>
<text x="1715.57" y="803.1" font-size="24" text-anchor="end">0.6</text>
<line x1="1718.4" y1="740.81" x2="1724.4" y2="740.81" stroke="#333333" stroke-width="1.5"/>
<text x="1715.67" y="749.31" font-size="24" text-anchor="end">0.9</text>
<line x1="1765.8" y1="768.21" x2="1765.8" y2="793.62" stroke="#333333" stroke-width="1.7"/>
<line x1="1765.8" y1="831.24" x2="1765.8" y2="835.2" stroke="#333333" stroke-width="1.7"/>
<rect x="1739.4" y="793.62" width="52.8" height="37.62" fill="#FC8D62" stroke="#333333" stroke-width="1.8" stroke-linejoin="round"/>
<line x1="1739.4" y1="816.06" x2="1792.2" y2="816.06" stroke="#333333" stroke-width="4.2"/>
<line x1="1949" y1="802.2" x2="1949" y2="833.22" stroke="#333333" stroke-width="1.7"/>
<line x1="1949" y1="852.69" x2="1949" y2="866.55" stroke="#333333" stroke-width="1.7"/>
<circle cx="1949" cy="779.76" r="3.1" fill="none" stroke="#333333" stroke-width="1.6"/>
<circle cx="1949" cy="782.36" r="3.1" fill="none" stroke="#333333" stroke-width="1.6"/>
<circle cx="1949" cy="784.96" r="3.1" fill="none" stroke="#333333" stroke-width="1.6"/>
<circle cx="1949" cy="787.56" r="3.1" fill="none" stroke="#333333" stroke-width="1.6"/>
<circle cx="1949" cy="790.16" r="3.1" fill="none" stroke="#333333" stroke-width="1.6"/>
<circle cx="1949" cy="792.76" r="3.1" fill="none" stroke="#333333" stroke-width="1.6"/>
<circle cx="1949" cy="795.36" r="3.1" fill="none" stroke="#333333" stroke-width="1.6"/>
<circle cx="1949" cy="797.96" r="3.1" fill="none" stroke="#333333" stroke-width="1.6"/>
<circle cx="1949" cy="800.56" r="3.1" fill="none" stroke="#333333" stroke-width="1.6"/>
<rect x="1922.6" y="833.22" width="52.8" height="19.47" fill="#8DA0CB" stroke="#333333" stroke-width="1.8" stroke-linejoin="round"/>
<line x1="1922.6" y1="845.76" x2="1975.4" y2="845.76" stroke="#333333" stroke-width="4.2"/>
<line x1="1835.8" y1="744.45" x2="1835.8" y2="805.5" stroke="#333333" stroke-width="1.7"/>
<line x1="1835.8" y1="847.41" x2="1835.8" y2="864.9" stroke="#333333" stroke-width="1.7"/>
<rect x="1831.8" y="732.9" width="8" height="11.55" rx="4" fill="#333333"/>
<rect x="1809.4" y="805.5" width="52.8" height="41.91" fill="#FC8D62" stroke="#333333" stroke-width="1.8" stroke-linejoin="round"/>
<line x1="1809.4" y1="833.88" x2="1862.2" y2="833.88" stroke="#333333" stroke-width="4.2"/>
<line x1="2018.6" y1="741.15" x2="2018.6" y2="784.38" stroke="#333333" stroke-width="1.7"/>
<line x1="2018.6" y1="838.5" x2="2018.6" y2="860.61" stroke="#333333" stroke-width="1.7"/>
<rect x="1992.2" y="784.38" width="52.8" height="54.12" fill="#8DA0CB" stroke="#333333" stroke-width="1.8" stroke-linejoin="round"/>
<line x1="1992.2" y1="809.46" x2="2045" y2="809.46" stroke="#333333" stroke-width="4.2"/>
<path d="M1765.8,730.4 V725.9 H1835.8 V730.4" fill="none" stroke="#111" stroke-width="1.9" stroke-linejoin="round"/>
<text transform="translate(1801.55,728.2) scale(1,0.9)" font-size="23" letter-spacing="1.5" text-anchor="middle" stroke="#000" stroke-width="0.35">*</text>
<path d="M1949,730.4 V725.9 H2018.6 V730.4" fill="none" stroke="#111" stroke-width="1.9" stroke-linejoin="round"/>
<text transform="translate(1984.55,728.2) scale(1,0.9)" font-size="23" letter-spacing="1.5" text-anchor="middle" stroke="#000" stroke-width="0.35">***</text>
<text transform="translate(2075,792.3) rotate(90)" font-size="28.9" text-anchor="middle">Chimpanzee</text>
<line x1="122.5" y1="975.9" x2="122.5" y2="980.19" stroke="#333333" stroke-width="1.7"/>
<line x1="122.5" y1="996.69" x2="122.5" y2="1017.15" stroke="#333333" stroke-width="1.7"/>
<rect x="118.5" y="1017.15" width="8" height="59.4" rx="4" fill="#333333"/>
<rect x="99" y="980.19" width="47" height="16.5" fill="#66C2A5" stroke="#333333" stroke-width="1.8" stroke-linejoin="round"/>
<line x1="99" y1="984.81" x2="146" y2="984.81" stroke="#333333" stroke-width="4.2"/>
<line x1="184.55" y1="975.9" x2="184.55" y2="982.17" stroke="#333333" stroke-width="1.7"/>
<line x1="184.55" y1="1007.58" x2="184.55" y2="1043.55" stroke="#333333" stroke-width="1.7"/>
<rect x="180.55" y="1043.55" width="8" height="34.65" rx="4" fill="#333333"/>
<rect x="161.05" y="982.17" width="47" height="25.41" fill="#FC8D62" stroke="#333333" stroke-width="1.8" stroke-linejoin="round"/>
<line x1="161.05" y1="991.41" x2="208.05" y2="991.41" stroke="#333333" stroke-width="4.2"/>
<line x1="246.6" y1="975.9" x2="246.6" y2="988.44" stroke="#333333" stroke-width="1.7"/>
<line x1="246.6" y1="1028.04" x2="246.6" y2="1075.56" stroke="#333333" stroke-width="1.7"/>
<rect x="223.1" y="988.44" width="47" height="39.6" fill="#8DA0CB" stroke="#333333" stroke-width="1.8" stroke-linejoin="round"/>
<line x1="223.1" y1="1004.61" x2="270.1" y2="1004.61" stroke="#333333" stroke-width="4.2"/>
<path d="M122.5,934.2 V929.7 H246.6 V934.2" fill="none" stroke="#111" stroke-width="1.9" stroke-linejoin="round"/>
<text transform="translate(185.3,928.1) scale(1,0.9)" font-size="23" letter-spacing="1.5" text-anchor="middle" stroke="#000" stroke-width="0.35">***</text>
<path d="M184.55,954.1 V949.6 H246.6 V954.1" fill="none" stroke="#111" stroke-width="1.9" stroke-linejoin="round"/>
<text transform="translate(216.32,949.2) scale(1,0.9)" font-size="23" letter-spacing="1.5" text-anchor="middle" stroke="#000" stroke-width="0.35">***</text>
<path d="M122.5,974.3 V969.8 H184.55 V974.3" fill="none" stroke="#111" stroke-width="1.9" stroke-linejoin="round"/>
<text transform="translate(154.28,970) scale(1,0.9)" font-size="23" letter-spacing="1.5" text-anchor="middle" stroke="#000" stroke-width="0.35">***</text>
<line x1="351.43" y1="975.9" x2="351.43" y2="981.18" stroke="#333333" stroke-width="1.7"/>
<line x1="351.43" y1="1001.64" x2="351.43" y2="1030.35" stroke="#333333" stroke-width="1.7"/>
<rect x="347.43" y="1030.35" width="8" height="47.85" rx="4" fill="#333333"/>
<rect x="327.93" y="981.18" width="47" height="20.46" fill="#66C2A5" stroke="#333333" stroke-width="1.8" stroke-linejoin="round"/>
<line x1="327.93" y1="988.44" x2="374.93" y2="988.44" stroke="#333333" stroke-width="4.2"/>
<line x1="413.48" y1="975.9" x2="413.48" y2="990.09" stroke="#333333" stroke-width="1.7"/>
<line x1="413.48" y1="1027.05" x2="413.48" y2="1075.56" stroke="#333333" stroke-width="1.7"/>
<rect x="389.98" y="990.09" width="47" height="36.96" fill="#FC8D62" stroke="#333333" stroke-width="1.8" stroke-linejoin="round"/>
<line x1="389.98" y1="1006.59" x2="436.98" y2="1006.59" stroke="#333333" stroke-width="4.2"/>
<line x1="475.53" y1="975.9" x2="475.53" y2="994.71" stroke="#333333" stroke-width="1.7"/>
<line x1="475.53" y1="1033.65" x2="475.53" y2="1075.56" stroke="#333333" stroke-width="1.7"/>
<rect x="452.03" y="994.71" width="47" height="38.94" fill="#8DA0CB" stroke="#333333" stroke-width="1.8" stroke-linejoin="round"/>
<line x1="452.03" y1="1012.86" x2="499.03" y2="1012.86" stroke="#333333" stroke-width="4.2"/>
<path d="M351.43,934.2 V929.7 H475.53 V934.2" fill="none" stroke="#111" stroke-width="1.9" stroke-linejoin="round"/>
<text transform="translate(414.23,928.1) scale(1,0.9)" font-size="23" letter-spacing="1.5" text-anchor="middle" stroke="#000" stroke-width="0.35">***</text>
<path d="M413.48,954.1 V949.6 H475.53 V954.1" fill="none" stroke="#111" stroke-width="1.9" stroke-linejoin="round"/>
<text transform="translate(445.25,949.2) scale(1,0.9)" font-size="23" letter-spacing="1.5" text-anchor="middle" stroke="#000" stroke-width="0.35">***</text>
<path d="M351.43,974.3 V969.8 H413.48 V974.3" fill="none" stroke="#111" stroke-width="1.9" stroke-linejoin="round"/>
<text transform="translate(383.21,970) scale(1,0.9)" font-size="23" letter-spacing="1.5" text-anchor="middle" stroke="#000" stroke-width="0.35">***</text>
<line x1="580.36" y1="975.9" x2="580.36" y2="983.49" stroke="#333333" stroke-width="1.7"/>
<line x1="580.36" y1="1012.86" x2="580.36" y2="1055.1" stroke="#333333" stroke-width="1.7"/>
<rect x="576.36" y="1055.1" width="8" height="21.45" rx="4" fill="#333333"/>
<rect x="556.86" y="983.49" width="47" height="29.37" fill="#66C2A5" stroke="#333333" stroke-width="1.8" stroke-linejoin="round"/>
<line x1="556.86" y1="992.4" x2="603.86" y2="992.4" stroke="#333333" stroke-width="4.2"/>
<line x1="642.41" y1="975.9" x2="642.41" y2="993.39" stroke="#333333" stroke-width="1.7"/>
<line x1="642.41" y1="1032.66" x2="642.41" y2="1075.56" stroke="#333333" stroke-width="1.7"/>
<rect x="618.91" y="993.39" width="47" height="39.27" fill="#FC8D62" stroke="#333333" stroke-width="1.8" stroke-linejoin="round"/>
<line x1="618.91" y1="1010.88" x2="665.91" y2="1010.88" stroke="#333333" stroke-width="4.2"/>
<line x1="704.46" y1="975.9" x2="704.46" y2="996.69" stroke="#333333" stroke-width="1.7"/>
<line x1="704.46" y1="1037.28" x2="704.46" y2="1075.56" stroke="#333333" stroke-width="1.7"/>
<rect x="680.96" y="996.69" width="47" height="40.59" fill="#8DA0CB" stroke="#333333" stroke-width="1.8" stroke-linejoin="round"/>
<line x1="680.96" y1="1015.5" x2="727.96" y2="1015.5" stroke="#333333" stroke-width="4.2"/>
<path d="M580.36,934.2 V929.7 H704.46 V934.2" fill="none" stroke="#111" stroke-width="1.9" stroke-linejoin="round"/>
<text transform="translate(643.16,928.1) scale(1,0.9)" font-size="23" letter-spacing="1.5" text-anchor="middle" stroke="#000" stroke-width="0.35">***</text>
<path d="M642.41,954.1 V949.6 H704.46 V954.1" fill="none" stroke="#111" stroke-width="1.9" stroke-linejoin="round"/>
<text transform="translate(674.18,949.2) scale(1,0.9)" font-size="23" letter-spacing="1.5" text-anchor="middle" stroke="#000" stroke-width="0.35">***</text>
<path d="M580.36,974.3 V969.8 H642.41 V974.3" fill="none" stroke="#111" stroke-width="1.9" stroke-linejoin="round"/>
<text transform="translate(612.13,970) scale(1,0.9)" font-size="23" letter-spacing="1.5" text-anchor="middle" stroke="#000" stroke-width="0.35">***</text>
<line x1="809.29" y1="976.56" x2="809.29" y2="982.5" stroke="#333333" stroke-width="1.7"/>
<line x1="809.29" y1="1018.8" x2="809.29" y2="1071.6" stroke="#333333" stroke-width="1.7"/>
<circle cx="809.29" cy="1075.56" r="3.1" fill="none" stroke="#333333" stroke-width="1.6"/>
<rect x="785.79" y="982.5" width="47" height="36.3" fill="#66C2A5" stroke="#333333" stroke-width="1.8" stroke-linejoin="round"/>
<line x1="785.79" y1="989.76" x2="832.79" y2="989.76" stroke="#333333" stroke-width="4.2"/>
<line x1="871.34" y1="976.56" x2="871.34" y2="987.45" stroke="#333333" stroke-width="1.7"/>
<line x1="871.34" y1="1028.04" x2="871.34" y2="1075.56" stroke="#333333" stroke-width="1.7"/>
<rect x="847.84" y="987.45" width="47" height="40.59" fill="#FC8D62" stroke="#333333" stroke-width="1.8" stroke-linejoin="round"/>
<line x1="847.84" y1="1001.31" x2="894.84" y2="1001.31" stroke="#333333" stroke-width="4.2"/>
<line x1="933.39" y1="976.56" x2="933.39" y2="989.1" stroke="#333333" stroke-width="1.7"/>
<line x1="933.39" y1="1035.3" x2="933.39" y2="1075.56" stroke="#333333" stroke-width="1.7"/>
<rect x="909.89" y="989.1" width="47" height="46.2" fill="#8DA0CB" stroke="#333333" stroke-width="1.8" stroke-linejoin="round"/>
<line x1="909.89" y1="1008.24" x2="956.89" y2="1008.24" stroke="#333333" stroke-width="4.2"/>
<path d="M809.29,934.2 V929.7 H933.39 V934.2" fill="none" stroke="#111" stroke-width="1.9" stroke-linejoin="round"/>
<text transform="translate(872.09,928.1) scale(1,0.9)" font-size="23" letter-spacing="1.5" text-anchor="middle" stroke="#000" stroke-width="0.35">***</text>
<path d="M871.34,954.1 V949.6 H933.39 V954.1" fill="none" stroke="#111" stroke-width="1.9" stroke-linejoin="round"/>
<text transform="translate(903.12,949.2) scale(1,0.9)" font-size="23" letter-spacing="1.5" text-anchor="middle" stroke="#000" stroke-width="0.35">***</text>
<path d="M809.29,974.3 V969.8 H871.34 V974.3" fill="none" stroke="#111" stroke-width="1.9" stroke-linejoin="round"/>
<text transform="translate(841.06,970) scale(1,0.9)" font-size="23" letter-spacing="1.5" text-anchor="middle" stroke="#000" stroke-width="0.35">***</text>
<line x1="1038.22" y1="1002.3" x2="1038.22" y2="1007.91" stroke="#333333" stroke-width="1.7"/>
<line x1="1038.22" y1="1018.8" x2="1038.22" y2="1023.75" stroke="#333333" stroke-width="1.7"/>
<rect x="1014.72" y="1007.91" width="47" height="10.89" fill="#66C2A5" stroke="#333333" stroke-width="1.8" stroke-linejoin="round"/>
<line x1="1014.72" y1="1012.86" x2="1061.72" y2="1012.86" stroke="#333333" stroke-width="4.2"/>
<line x1="1100.27" y1="984.15" x2="1100.27" y2="1008.9" stroke="#333333" stroke-width="1.7"/>
<line x1="1100.27" y1="1028.04" x2="1100.27" y2="1052.46" stroke="#333333" stroke-width="1.7"/>
<circle cx="1100.27" cy="979.53" r="3.1" fill="none" stroke="#333333" stroke-width="1.6"/>
<circle cx="1100.27" cy="1068.96" r="3.1" fill="none" stroke="#333333" stroke-width="1.6"/>
<circle cx="1100.27" cy="1072.92" r="3.1" fill="none" stroke="#333333" stroke-width="1.6"/>
<rect x="1076.77" y="1008.9" width="47" height="19.14" fill="#FC8D62" stroke="#333333" stroke-width="1.8" stroke-linejoin="round"/>
<line x1="1076.77" y1="1017.48" x2="1123.77" y2="1017.48" stroke="#333333" stroke-width="4.2"/>
<line x1="1162.32" y1="976.56" x2="1162.32" y2="1000.65" stroke="#333333" stroke-width="1.7"/>
<line x1="1162.32" y1="1038.6" x2="1162.32" y2="1075.56" stroke="#333333" stroke-width="1.7"/>
<rect x="1138.82" y="1000.65" width="47" height="37.95" fill="#8DA0CB" stroke="#333333" stroke-width="1.8" stroke-linejoin="round"/>
<line x1="1138.82" y1="1016.82" x2="1185.82" y2="1016.82" stroke="#333333" stroke-width="4.2"/>
<path d="M1038.22,934.2 V929.7 H1162.32 V934.2" fill="none" stroke="#111" stroke-width="1.9" stroke-linejoin="round"/>
<text x="1099.86" y="927.3" font-size="28" text-anchor="middle">ns</text>
<path d="M1100.27,954.1 V949.6 H1162.32 V954.1" fill="none" stroke="#111" stroke-width="1.9" stroke-linejoin="round"/>
<text x="1130.88" y="947.8" font-size="28" text-anchor="middle">ns</text>
<path d="M1038.22,974.3 V969.8 H1100.27 V974.3" fill="none" stroke="#111" stroke-width="1.9" stroke-linejoin="round"/>
<text x="1068.83" y="968.2" font-size="28" text-anchor="middle">ns</text>
<line x1="1267.15" y1="976.56" x2="1267.15" y2="982.5" stroke="#333333" stroke-width="1.7"/>
<line x1="1267.15" y1="1014.84" x2="1267.15" y2="1060.05" stroke="#333333" stroke-width="1.7"/>
<rect x="1263.15" y="1060.05" width="8" height="18.15" rx="4" fill="#333333"/>
<rect x="1243.65" y="982.5" width="47" height="32.34" fill="#66C2A5" stroke="#333333" stroke-width="1.8" stroke-linejoin="round"/>
<line x1="1243.65" y1="992.4" x2="1290.65" y2="992.4" stroke="#333333" stroke-width="4.2"/>
<line x1="1329.2" y1="976.56" x2="1329.2" y2="984.48" stroke="#333333" stroke-width="1.7"/>
<line x1="1329.2" y1="1061.04" x2="1329.2" y2="1075.56" stroke="#333333" stroke-width="1.7"/>
<rect x="1305.7" y="984.48" width="47" height="76.56" fill="#FC8D62" stroke="#333333" stroke-width="1.8" stroke-linejoin="round"/>
<line x1="1305.7" y1="1001.31" x2="1352.7" y2="1001.31" stroke="#333333" stroke-width="4.2"/>
<line x1="1391.25" y1="976.56" x2="1391.25" y2="988.44" stroke="#333333" stroke-width="1.7"/>
<line x1="1391.25" y1="1029.36" x2="1391.25" y2="1075.56" stroke="#333333" stroke-width="1.7"/>
<rect x="1367.75" y="988.44" width="47" height="40.92" fill="#8DA0CB" stroke="#333333" stroke-width="1.8" stroke-linejoin="round"/>
<line x1="1367.75" y1="1003.29" x2="1414.75" y2="1003.29" stroke="#333333" stroke-width="4.2"/>
<path d="M1267.15,934.2 V929.7 H1391.25 V934.2" fill="none" stroke="#111" stroke-width="1.9" stroke-linejoin="round"/>
<text transform="translate(1329.95,928.1) scale(1,0.9)" font-size="23" letter-spacing="1.5" text-anchor="middle" stroke="#000" stroke-width="0.35">***</text>
<path d="M1329.2,954.1 V949.6 H1391.25 V954.1" fill="none" stroke="#111" stroke-width="1.9" stroke-linejoin="round"/>
<text x="1359.81" y="947.8" font-size="28" text-anchor="middle">ns</text>
<path d="M1267.15,974.3 V969.8 H1329.2 V974.3" fill="none" stroke="#111" stroke-width="1.9" stroke-linejoin="round"/>
<text transform="translate(1298.93,970) scale(1,0.9)" font-size="23" letter-spacing="1.5" text-anchor="middle" stroke="#000" stroke-width="0.35">***</text>
<line x1="1496.08" y1="986.79" x2="1496.08" y2="994.71" stroke="#333333" stroke-width="1.7"/>
<line x1="1496.08" y1="1013.85" x2="1496.08" y2="1026.39" stroke="#333333" stroke-width="1.7"/>
<circle cx="1496.08" cy="1052.46" r="3.1" fill="none" stroke="#333333" stroke-width="1.6"/>
<rect x="1472.58" y="994.71" width="47" height="19.14" fill="#66C2A5" stroke="#333333" stroke-width="1.8" stroke-linejoin="round"/>
<line x1="1472.58" y1="1002.3" x2="1519.58" y2="1002.3" stroke="#333333" stroke-width="4.2"/>
<line x1="1558.13" y1="975.24" x2="1558.13" y2="1004.94" stroke="#333333" stroke-width="1.7"/>
<line x1="1558.13" y1="1028.04" x2="1558.13" y2="1063.35" stroke="#333333" stroke-width="1.7"/>
<rect x="1554.13" y="1063.35" width="8" height="11.55" rx="4" fill="#333333"/>
<rect x="1534.63" y="1004.94" width="47" height="23.1" fill="#FC8D62" stroke="#333333" stroke-width="1.8" stroke-linejoin="round"/>
<line x1="1534.63" y1="1014.84" x2="1581.63" y2="1014.84" stroke="#333333" stroke-width="4.2"/>
<line x1="1620.18" y1="986.79" x2="1620.18" y2="997.68" stroke="#333333" stroke-width="1.7"/>
<line x1="1620.18" y1="1019.79" x2="1620.18" y2="1035.3" stroke="#333333" stroke-width="1.7"/>
<circle cx="1620.18" cy="1054.44" r="3.1" fill="none" stroke="#333333" stroke-width="1.6"/>
<circle cx="1620.18" cy="1067.64" r="3.1" fill="none" stroke="#333333" stroke-width="1.6"/>
<circle cx="1620.18" cy="1070.28" r="3.1" fill="none" stroke="#333333" stroke-width="1.6"/>
<rect x="1596.68" y="997.68" width="47" height="22.11" fill="#8DA0CB" stroke="#333333" stroke-width="1.8" stroke-linejoin="round"/>
<line x1="1596.68" y1="1008.24" x2="1643.68" y2="1008.24" stroke="#333333" stroke-width="4.2"/>
<path d="M1496.08,934.2 V929.7 H1620.18 V934.2" fill="none" stroke="#111" stroke-width="1.9" stroke-linejoin="round"/>
<text x="1557.72" y="927.3" font-size="28" text-anchor="middle">ns</text>
<path d="M1558.13,954.1 V949.6 H1620.18 V954.1" fill="none" stroke="#111" stroke-width="1.9" stroke-linejoin="round"/>
<text transform="translate(1589.9,949.2) scale(1,0.9)" font-size="23" letter-spacing="1.5" text-anchor="middle" stroke="#000" stroke-width="0.35">*</text>
<path d="M1496.08,974.3 V969.8 H1558.13 V974.3" fill="none" stroke="#111" stroke-width="1.9" stroke-linejoin="round"/>
<text transform="translate(1527.86,970) scale(1,0.9)" font-size="23" letter-spacing="1.5" text-anchor="middle" stroke="#000" stroke-width="0.35">**</text>
<line x1="85" y1="906.5" x2="85" y2="1083.9" stroke="#111" stroke-width="1.8"/>
<line x1="78.3" y1="1075.5" x2="85" y2="1075.5" stroke="#333333" stroke-width="1.5"/>
<text x="77.62" y="1083.8" font-size="24" text-anchor="end">0.0</text>
<line x1="78.3" y1="1025.15" x2="85" y2="1025.15" stroke="#333333" stroke-width="1.5"/>
<text x="77.72" y="1033.45" font-size="24" text-anchor="end">0.5</text>
<line x1="78.3" y1="974.8" x2="85" y2="974.8" stroke="#333333" stroke-width="1.5"/>
<text x="77.62" y="983.1" font-size="24" text-anchor="end">1.0</text>
<line x1="1724.4" y1="906.6" x2="1724.4" y2="1083.8" stroke="#111" stroke-width="1.8"/>
<line x1="1718.4" y1="1057.49" x2="1724.4" y2="1057.49" stroke="#333333" stroke-width="1.5"/>
<text x="1715.57" y="1065.99" font-size="24" text-anchor="end">0.3</text>
<line x1="1718.4" y1="1003.7" x2="1724.4" y2="1003.7" stroke="#333333" stroke-width="1.5"/>
<text x="1715.57" y="1012.2" font-size="24" text-anchor="end">0.6</text>
<line x1="1718.4" y1="949.91" x2="1724.4" y2="949.91" stroke="#333333" stroke-width="1.5"/>
<text x="1715.67" y="958.41" font-size="24" text-anchor="end">0.9</text>
<line x1="1765.8" y1="971.94" x2="1765.8" y2="979.2" stroke="#333333" stroke-width="1.7"/>
<line x1="1765.8" y1="993.06" x2="1765.8" y2="1012.86" stroke="#333333" stroke-width="1.7"/>
<circle cx="1765.8" cy="953.46" r="3.1" fill="none" stroke="#333333" stroke-width="1.6"/>
<rect x="1739.4" y="979.2" width="52.8" height="13.86" fill="#FC8D62" stroke="#333333" stroke-width="1.8" stroke-linejoin="round"/>
<line x1="1739.4" y1="986.46" x2="1792.2" y2="986.46" stroke="#333333" stroke-width="4.2"/>
<line x1="1949" y1="969.3" x2="1949" y2="994.05" stroke="#333333" stroke-width="1.7"/>
<line x1="1949" y1="1011.54" x2="1949" y2="1030.35" stroke="#333333" stroke-width="1.7"/>
<rect x="1922.6" y="994.05" width="52.8" height="17.49" fill="#8DA0CB" stroke="#333333" stroke-width="1.8" stroke-linejoin="round"/>
<line x1="1922.6" y1="1004.94" x2="1975.4" y2="1004.94" stroke="#333333" stroke-width="4.2"/>
<line x1="1835.8" y1="947.19" x2="1835.8" y2="980.85" stroke="#333333" stroke-width="1.7"/>
<line x1="1835.8" y1="1004.28" x2="1835.8" y2="1038.6" stroke="#333333" stroke-width="1.7"/>
<circle cx="1835.8" cy="941.91" r="3.1" fill="none" stroke="#333333" stroke-width="1.6"/>
<circle cx="1835.8" cy="944.55" r="3.1" fill="none" stroke="#333333" stroke-width="1.6"/>
<circle cx="1835.8" cy="1042.56" r="3.1" fill="none" stroke="#333333" stroke-width="1.6"/>
<circle cx="1835.8" cy="1046.85" r="3.1" fill="none" stroke="#333333" stroke-width="1.6"/>
<rect x="1809.4" y="980.85" width="52.8" height="23.43" fill="#FC8D62" stroke="#333333" stroke-width="1.8" stroke-linejoin="round"/>
<line x1="1809.4" y1="995.7" x2="1862.2" y2="995.7" stroke="#333333" stroke-width="4.2"/>
<line x1="2018.6" y1="947.85" x2="2018.6" y2="972.6" stroke="#333333" stroke-width="1.7"/>
<line x1="2018.6" y1="999.99" x2="2018.6" y2="1028.7" stroke="#333333" stroke-width="1.7"/>
<rect x="1992.2" y="972.6" width="52.8" height="27.39" fill="#8DA0CB" stroke="#333333" stroke-width="1.8" stroke-linejoin="round"/>
<line x1="1992.2" y1="988.44" x2="2045" y2="988.44" stroke="#333333" stroke-width="4.2"/>
<path d="M1765.8,939.5 V935 H1835.8 V939.5" fill="none" stroke="#111" stroke-width="1.9" stroke-linejoin="round"/>
<text transform="translate(1801.55,937.3) scale(1,0.9)" font-size="23" letter-spacing="1.5" text-anchor="middle" stroke="#000" stroke-width="0.35">*</text>
<path d="M1949,939.5 V935 H2018.6 V939.5" fill="none" stroke="#111" stroke-width="1.9" stroke-linejoin="round"/>
<text transform="translate(1984.55,937.3) scale(1,0.9)" font-size="23" letter-spacing="1.5" text-anchor="middle" stroke="#000" stroke-width="0.35">***</text>
<text transform="translate(2075,999.9) rotate(90)" font-size="28.9" text-anchor="middle">Human</text>
<line x1="122.5" y1="1184.24" x2="122.5" y2="1197.44" stroke="#333333" stroke-width="1.7"/>
<line x1="122.5" y1="1221.2" x2="122.5" y2="1255.85" stroke="#333333" stroke-width="1.7"/>
<rect x="118.5" y="1255.85" width="8" height="31.35" rx="4" fill="#333333"/>
<rect x="99" y="1197.44" width="47" height="23.76" fill="#66C2A5" stroke="#333333" stroke-width="1.8" stroke-linejoin="round"/>
<line x1="99" y1="1207.34" x2="146" y2="1207.34" stroke="#333333" stroke-width="4.2"/>
<line x1="184.55" y1="1184.24" x2="184.55" y2="1191.5" stroke="#333333" stroke-width="1.7"/>
<line x1="184.55" y1="1225.16" x2="184.55" y2="1273.34" stroke="#333333" stroke-width="1.7"/>
<rect x="180.55" y="1273.34" width="8" height="13.86" rx="4" fill="#333333"/>
<rect x="161.05" y="1191.5" width="47" height="33.66" fill="#FC8D62" stroke="#333333" stroke-width="1.8" stroke-linejoin="round"/>
<line x1="161.05" y1="1202.06" x2="208.05" y2="1202.06" stroke="#333333" stroke-width="4.2"/>
<line x1="246.6" y1="1184.24" x2="246.6" y2="1213.28" stroke="#333333" stroke-width="1.7"/>
<line x1="246.6" y1="1257.5" x2="246.6" y2="1284.56" stroke="#333333" stroke-width="1.7"/>
<rect x="223.1" y="1213.28" width="47" height="44.22" fill="#8DA0CB" stroke="#333333" stroke-width="1.8" stroke-linejoin="round"/>
<line x1="223.1" y1="1236.05" x2="270.1" y2="1236.05" stroke="#333333" stroke-width="4.2"/>
<path d="M122.5,1143.3 V1138.8 H246.6 V1143.3" fill="none" stroke="#111" stroke-width="1.9" stroke-linejoin="round"/>
<text transform="translate(185.3,1137.2) scale(1,0.9)" font-size="23" letter-spacing="1.5" text-anchor="middle" stroke="#000" stroke-width="0.35">***</text>
<path d="M184.55,1163.2 V1158.7 H246.6 V1163.2" fill="none" stroke="#111" stroke-width="1.9" stroke-linejoin="round"/>
<text transform="translate(216.32,1158.3) scale(1,0.9)" font-size="23" letter-spacing="1.5" text-anchor="middle" stroke="#000" stroke-width="0.35">***</text>
<path d="M122.5,1183.4 V1178.9 H184.55 V1183.4" fill="none" stroke="#111" stroke-width="1.9" stroke-linejoin="round"/>
<text transform="translate(154.28,1179.1) scale(1,0.9)" font-size="23" letter-spacing="1.5" text-anchor="middle" stroke="#000" stroke-width="0.35">***</text>
<line x1="351.43" y1="1184.24" x2="351.43" y2="1198.76" stroke="#333333" stroke-width="1.7"/>
<line x1="351.43" y1="1239.35" x2="351.43" y2="1284.56" stroke="#333333" stroke-width="1.7"/>
<rect x="327.93" y="1198.76" width="47" height="40.59" fill="#66C2A5" stroke="#333333" stroke-width="1.8" stroke-linejoin="round"/>
<line x1="327.93" y1="1215.59" x2="374.93" y2="1215.59" stroke="#333333" stroke-width="4.2"/>
<line x1="413.48" y1="1184.24" x2="413.48" y2="1203.05" stroke="#333333" stroke-width="1.7"/>
<line x1="413.48" y1="1250.9" x2="413.48" y2="1284.56" stroke="#333333" stroke-width="1.7"/>
<rect x="389.98" y="1203.05" width="47" height="47.85" fill="#FC8D62" stroke="#333333" stroke-width="1.8" stroke-linejoin="round"/>
<line x1="389.98" y1="1228.13" x2="436.98" y2="1228.13" stroke="#333333" stroke-width="4.2"/>
<line x1="475.53" y1="1184.24" x2="475.53" y2="1225.49" stroke="#333333" stroke-width="1.7"/>
<line x1="475.53" y1="1264.1" x2="475.53" y2="1284.56" stroke="#333333" stroke-width="1.7"/>
<rect x="452.03" y="1225.49" width="47" height="38.61" fill="#8DA0CB" stroke="#333333" stroke-width="1.8" stroke-linejoin="round"/>
<line x1="452.03" y1="1244.96" x2="499.03" y2="1244.96" stroke="#333333" stroke-width="4.2"/>
<path d="M351.43,1143.3 V1138.8 H475.53 V1143.3" fill="none" stroke="#111" stroke-width="1.9" stroke-linejoin="round"/>
<text transform="translate(414.23,1137.2) scale(1,0.9)" font-size="23" letter-spacing="1.5" text-anchor="middle" stroke="#000" stroke-width="0.35">***</text>
<path d="M413.48,1163.2 V1158.7 H475.53 V1163.2" fill="none" stroke="#111" stroke-width="1.9" stroke-linejoin="round"/>
<text transform="translate(445.25,1158.3) scale(1,0.9)" font-size="23" letter-spacing="1.5" text-anchor="middle" stroke="#000" stroke-width="0.35">***</text>
<path d="M351.43,1183.4 V1178.9 H413.48 V1183.4" fill="none" stroke="#111" stroke-width="1.9" stroke-linejoin="round"/>
<text transform="translate(383.21,1179.1) scale(1,0.9)" font-size="23" letter-spacing="1.5" text-anchor="middle" stroke="#000" stroke-width="0.35">***</text>
<line x1="580.36" y1="1184.24" x2="580.36" y2="1200.74" stroke="#333333" stroke-width="1.7"/>
<line x1="580.36" y1="1244.3" x2="580.36" y2="1282.91" stroke="#333333" stroke-width="1.7"/>
<rect x="556.86" y="1200.74" width="47" height="43.56" fill="#66C2A5" stroke="#333333" stroke-width="1.8" stroke-linejoin="round"/>
<line x1="556.86" y1="1221.2" x2="603.86" y2="1221.2" stroke="#333333" stroke-width="4.2"/>
<line x1="642.41" y1="1184.24" x2="642.41" y2="1207.01" stroke="#333333" stroke-width="1.7"/>
<line x1="642.41" y1="1254.53" x2="642.41" y2="1284.56" stroke="#333333" stroke-width="1.7"/>
<rect x="618.91" y="1207.01" width="47" height="47.52" fill="#FC8D62" stroke="#333333" stroke-width="1.8" stroke-linejoin="round"/>
<line x1="618.91" y1="1232.09" x2="665.91" y2="1232.09" stroke="#333333" stroke-width="4.2"/>
<line x1="704.46" y1="1184.24" x2="704.46" y2="1228.46" stroke="#333333" stroke-width="1.7"/>
<line x1="704.46" y1="1265.09" x2="704.46" y2="1284.56" stroke="#333333" stroke-width="1.7"/>
<rect x="680.96" y="1228.46" width="47" height="36.63" fill="#8DA0CB" stroke="#333333" stroke-width="1.8" stroke-linejoin="round"/>
<line x1="680.96" y1="1248.26" x2="727.96" y2="1248.26" stroke="#333333" stroke-width="4.2"/>
<path d="M580.36,1143.3 V1138.8 H704.46 V1143.3" fill="none" stroke="#111" stroke-width="1.9" stroke-linejoin="round"/>
<text transform="translate(643.16,1137.2) scale(1,0.9)" font-size="23" letter-spacing="1.5" text-anchor="middle" stroke="#000" stroke-width="0.35">***</text>
<path d="M642.41,1163.2 V1158.7 H704.46 V1163.2" fill="none" stroke="#111" stroke-width="1.9" stroke-linejoin="round"/>
<text transform="translate(674.18,1158.3) scale(1,0.9)" font-size="23" letter-spacing="1.5" text-anchor="middle" stroke="#000" stroke-width="0.35">***</text>
<path d="M580.36,1183.4 V1178.9 H642.41 V1183.4" fill="none" stroke="#111" stroke-width="1.9" stroke-linejoin="round"/>
<text transform="translate(612.13,1179.1) scale(1,0.9)" font-size="23" letter-spacing="1.5" text-anchor="middle" stroke="#000" stroke-width="0.35">***</text>
<line x1="809.29" y1="1184.24" x2="809.29" y2="1198.1" stroke="#333333" stroke-width="1.7"/>
<line x1="809.29" y1="1245.29" x2="809.29" y2="1281.26" stroke="#333333" stroke-width="1.7"/>
<rect x="785.79" y="1198.1" width="47" height="47.19" fill="#66C2A5" stroke="#333333" stroke-width="1.8" stroke-linejoin="round"/>
<line x1="785.79" y1="1218.89" x2="832.79" y2="1218.89" stroke="#333333" stroke-width="4.2"/>
<line x1="871.34" y1="1184.24" x2="871.34" y2="1198.1" stroke="#333333" stroke-width="1.7"/>
<line x1="871.34" y1="1251.89" x2="871.34" y2="1284.56" stroke="#333333" stroke-width="1.7"/>
<rect x="847.84" y="1198.1" width="47" height="53.79" fill="#FC8D62" stroke="#333333" stroke-width="1.8" stroke-linejoin="round"/>
<line x1="847.84" y1="1220.21" x2="894.84" y2="1220.21" stroke="#333333" stroke-width="4.2"/>
<line x1="933.39" y1="1184.24" x2="933.39" y2="1217.9" stroke="#333333" stroke-width="1.7"/>
<line x1="933.39" y1="1265.75" x2="933.39" y2="1284.56" stroke="#333333" stroke-width="1.7"/>
<rect x="909.89" y="1217.9" width="47" height="47.85" fill="#8DA0CB" stroke="#333333" stroke-width="1.8" stroke-linejoin="round"/>
<line x1="909.89" y1="1243.64" x2="956.89" y2="1243.64" stroke="#333333" stroke-width="4.2"/>
<path d="M809.29,1143.3 V1138.8 H933.39 V1143.3" fill="none" stroke="#111" stroke-width="1.9" stroke-linejoin="round"/>
<text transform="translate(872.09,1137.2) scale(1,0.9)" font-size="23" letter-spacing="1.5" text-anchor="middle" stroke="#000" stroke-width="0.35">***</text>
<path d="M871.34,1163.2 V1158.7 H933.39 V1163.2" fill="none" stroke="#111" stroke-width="1.9" stroke-linejoin="round"/>
<text transform="translate(903.12,1158.3) scale(1,0.9)" font-size="23" letter-spacing="1.5" text-anchor="middle" stroke="#000" stroke-width="0.35">***</text>
<path d="M809.29,1183.4 V1178.9 H871.34 V1183.4" fill="none" stroke="#111" stroke-width="1.9" stroke-linejoin="round"/>
<text x="839.9" y="1177.3" font-size="28" text-anchor="middle">ns</text>
<line x1="1038.22" y1="1184.24" x2="1038.22" y2="1188.53" stroke="#333333" stroke-width="1.7"/>
<line x1="1038.22" y1="1235.06" x2="1038.22" y2="1279.61" stroke="#333333" stroke-width="1.7"/>
<rect x="1014.72" y="1188.53" width="47" height="46.53" fill="#66C2A5" stroke="#333333" stroke-width="1.8" stroke-linejoin="round"/>
<line x1="1014.72" y1="1193.15" x2="1061.72" y2="1193.15" stroke="#333333" stroke-width="4.2"/>
<line x1="1100.27" y1="1184.24" x2="1100.27" y2="1205.36" stroke="#333333" stroke-width="1.7"/>
<line x1="1100.27" y1="1245.29" x2="1100.27" y2="1284.56" stroke="#333333" stroke-width="1.7"/>
<rect x="1076.77" y="1205.36" width="47" height="39.93" fill="#FC8D62" stroke="#333333" stroke-width="1.8" stroke-linejoin="round"/>
<line x1="1076.77" y1="1225.16" x2="1123.77" y2="1225.16" stroke="#333333" stroke-width="4.2"/>
<line x1="1162.32" y1="1195.46" x2="1162.32" y2="1235.39" stroke="#333333" stroke-width="1.7"/>
<line x1="1162.32" y1="1264.76" x2="1162.32" y2="1284.56" stroke="#333333" stroke-width="1.7"/>
<circle cx="1162.32" cy="1188.2" r="3.1" fill="none" stroke="#333333" stroke-width="1.6"/>
<circle cx="1162.32" cy="1191.5" r="3.1" fill="none" stroke="#333333" stroke-width="1.6"/>
<rect x="1138.82" y="1235.39" width="47" height="29.37" fill="#8DA0CB" stroke="#333333" stroke-width="1.8" stroke-linejoin="round"/>
<line x1="1138.82" y1="1248.26" x2="1185.82" y2="1248.26" stroke="#333333" stroke-width="4.2"/>
<path d="M1038.22,1143.3 V1138.8 H1162.32 V1143.3" fill="none" stroke="#111" stroke-width="1.9" stroke-linejoin="round"/>
<text transform="translate(1101.02,1137.2) scale(1,0.9)" font-size="23" letter-spacing="1.5" text-anchor="middle" stroke="#000" stroke-width="0.35">**</text>
<path d="M1100.27,1163.2 V1158.7 H1162.32 V1163.2" fill="none" stroke="#111" stroke-width="1.9" stroke-linejoin="round"/>
<text transform="translate(1132.05,1158.3) scale(1,0.9)" font-size="23" letter-spacing="1.5" text-anchor="middle" stroke="#000" stroke-width="0.35">***</text>
<path d="M1038.22,1183.4 V1178.9 H1100.27 V1183.4" fill="none" stroke="#111" stroke-width="1.9" stroke-linejoin="round"/>
<text transform="translate(1069.99,1179.1) scale(1,0.9)" font-size="23" letter-spacing="1.5" text-anchor="middle" stroke="#000" stroke-width="0.35">*</text>
<line x1="1267.15" y1="1184.24" x2="1267.15" y2="1200.74" stroke="#333333" stroke-width="1.7"/>
<line x1="1267.15" y1="1254.53" x2="1267.15" y2="1284.56" stroke="#333333" stroke-width="1.7"/>
<rect x="1243.65" y="1200.74" width="47" height="53.79" fill="#66C2A5" stroke="#333333" stroke-width="1.8" stroke-linejoin="round"/>
<line x1="1243.65" y1="1226.81" x2="1290.65" y2="1226.81" stroke="#333333" stroke-width="4.2"/>
<line x1="1329.2" y1="1184.24" x2="1329.2" y2="1197.44" stroke="#333333" stroke-width="1.7"/>
<line x1="1329.2" y1="1270.04" x2="1329.2" y2="1284.56" stroke="#333333" stroke-width="1.7"/>
<rect x="1305.7" y="1197.44" width="47" height="72.6" fill="#FC8D62" stroke="#333333" stroke-width="1.8" stroke-linejoin="round"/>
<line x1="1305.7" y1="1226.81" x2="1352.7" y2="1226.81" stroke="#333333" stroke-width="4.2"/>
<line x1="1391.25" y1="1184.24" x2="1391.25" y2="1212.29" stroke="#333333" stroke-width="1.7"/>
<line x1="1391.25" y1="1257.5" x2="1391.25" y2="1284.56" stroke="#333333" stroke-width="1.7"/>
<rect x="1367.75" y="1212.29" width="47" height="45.21" fill="#8DA0CB" stroke="#333333" stroke-width="1.8" stroke-linejoin="round"/>
<line x1="1367.75" y1="1231.43" x2="1414.75" y2="1231.43" stroke="#333333" stroke-width="4.2"/>
<path d="M1267.15,1143.3 V1138.8 H1391.25 V1143.3" fill="none" stroke="#111" stroke-width="1.9" stroke-linejoin="round"/>
<text transform="translate(1329.95,1137.2) scale(1,0.9)" font-size="23" letter-spacing="1.5" text-anchor="middle" stroke="#000" stroke-width="0.35">**</text>
<path d="M1329.2,1163.2 V1158.7 H1391.25 V1163.2" fill="none" stroke="#111" stroke-width="1.9" stroke-linejoin="round"/>
<text transform="translate(1360.97,1158.3) scale(1,0.9)" font-size="23" letter-spacing="1.5" text-anchor="middle" stroke="#000" stroke-width="0.35">*</text>
<path d="M1267.15,1183.4 V1178.9 H1329.2 V1183.4" fill="none" stroke="#111" stroke-width="1.9" stroke-linejoin="round"/>
<text x="1297.76" y="1177.3" font-size="28" text-anchor="middle">ns</text>
<line x1="1496.08" y1="1187.54" x2="1496.08" y2="1207.01" stroke="#333333" stroke-width="1.7"/>
<line x1="1496.08" y1="1228.46" x2="1496.08" y2="1245.95" stroke="#333333" stroke-width="1.7"/>
<rect x="1472.58" y="1207.01" width="47" height="21.45" fill="#66C2A5" stroke="#333333" stroke-width="1.8" stroke-linejoin="round"/>
<line x1="1472.58" y1="1217.24" x2="1519.58" y2="1217.24" stroke="#333333" stroke-width="4.2"/>
<line x1="1558.13" y1="1183.25" x2="1558.13" y2="1215.26" stroke="#333333" stroke-width="1.7"/>
<line x1="1558.13" y1="1244.63" x2="1558.13" y2="1281.26" stroke="#333333" stroke-width="1.7"/>
<rect x="1534.63" y="1215.26" width="47" height="29.37" fill="#FC8D62" stroke="#333333" stroke-width="1.8" stroke-linejoin="round"/>
<line x1="1534.63" y1="1226.48" x2="1581.63" y2="1226.48" stroke="#333333" stroke-width="4.2"/>
<line x1="1620.18" y1="1187.54" x2="1620.18" y2="1222.19" stroke="#333333" stroke-width="1.7"/>
<line x1="1620.18" y1="1252.88" x2="1620.18" y2="1280.6" stroke="#333333" stroke-width="1.7"/>
<rect x="1596.68" y="1222.19" width="47" height="30.69" fill="#8DA0CB" stroke="#333333" stroke-width="1.8" stroke-linejoin="round"/>
<line x1="1596.68" y1="1240.01" x2="1643.68" y2="1240.01" stroke="#333333" stroke-width="4.2"/>
<path d="M1496.08,1143.3 V1138.8 H1620.18 V1143.3" fill="none" stroke="#111" stroke-width="1.9" stroke-linejoin="round"/>
<text transform="translate(1558.88,1137.2) scale(1,0.9)" font-size="23" letter-spacing="1.5" text-anchor="middle" stroke="#000" stroke-width="0.35">***</text>
<path d="M1558.13,1163.2 V1158.7 H1620.18 V1163.2" fill="none" stroke="#111" stroke-width="1.9" stroke-linejoin="round"/>
<text transform="translate(1589.9,1158.3) scale(1,0.9)" font-size="23" letter-spacing="1.5" text-anchor="middle" stroke="#000" stroke-width="0.35">**</text>
<path d="M1496.08,1183.4 V1178.9 H1558.13 V1183.4" fill="none" stroke="#111" stroke-width="1.9" stroke-linejoin="round"/>
<text transform="translate(1527.86,1179.1) scale(1,0.9)" font-size="23" letter-spacing="1.5" text-anchor="middle" stroke="#000" stroke-width="0.35">**</text>
<line x1="85" y1="1115.6" x2="85" y2="1293" stroke="#111" stroke-width="1.8"/>
<line x1="78.3" y1="1284.6" x2="85" y2="1284.6" stroke="#333333" stroke-width="1.5"/>
<text x="77.62" y="1292.9" font-size="24" text-anchor="end">0.0</text>
<line x1="78.3" y1="1234.25" x2="85" y2="1234.25" stroke="#333333" stroke-width="1.5"/>
<text x="77.72" y="1242.55" font-size="24" text-anchor="end">0.5</text>
<line x1="78.3" y1="1183.9" x2="85" y2="1183.9" stroke="#333333" stroke-width="1.5"/>
<text x="77.62" y="1192.2" font-size="24" text-anchor="end">1.0</text>
<line x1="1724.4" y1="1115.7" x2="1724.4" y2="1292.9" stroke="#111" stroke-width="1.8"/>
<line x1="1718.4" y1="1266.59" x2="1724.4" y2="1266.59" stroke="#333333" stroke-width="1.5"/>
<text x="1715.57" y="1275.09" font-size="24" text-anchor="end">0.3</text>
<line x1="1718.4" y1="1212.8" x2="1724.4" y2="1212.8" stroke="#333333" stroke-width="1.5"/>
<text x="1715.57" y="1221.3" font-size="24" text-anchor="end">0.6</text>
<line x1="1718.4" y1="1159.01" x2="1724.4" y2="1159.01" stroke="#333333" stroke-width="1.5"/>
<text x="1715.67" y="1167.51" font-size="24" text-anchor="end">0.9</text>
<line x1="1765.8" y1="1185.56" x2="1765.8" y2="1203.05" stroke="#333333" stroke-width="1.7"/>
<line x1="1765.8" y1="1221.2" x2="1765.8" y2="1236.05" stroke="#333333" stroke-width="1.7"/>
<circle cx="1765.8" cy="1172.36" r="3.1" fill="none" stroke="#333333" stroke-width="1.6"/>
<circle cx="1765.8" cy="1251.89" r="3.1" fill="none" stroke="#333333" stroke-width="1.6"/>
<rect x="1739.4" y="1203.05" width="52.8" height="18.15" fill="#FC8D62" stroke="#333333" stroke-width="1.8" stroke-linejoin="round"/>
<line x1="1739.4" y1="1211.3" x2="1792.2" y2="1211.3" stroke="#333333" stroke-width="4.2"/>
<line x1="1949" y1="1226.15" x2="1949" y2="1245.29" stroke="#333333" stroke-width="1.7"/>
<line x1="1949" y1="1258.16" x2="1949" y2="1269.71" stroke="#333333" stroke-width="1.7"/>
<circle cx="1949" cy="1191.5" r="3.1" fill="none" stroke="#333333" stroke-width="1.6"/>
<circle cx="1949" cy="1194.14" r="3.1" fill="none" stroke="#333333" stroke-width="1.6"/>
<circle cx="1949" cy="1208" r="3.1" fill="none" stroke="#333333" stroke-width="1.6"/>
<circle cx="1949" cy="1217.9" r="3.1" fill="none" stroke="#333333" stroke-width="1.6"/>
<circle cx="1949" cy="1220.54" r="3.1" fill="none" stroke="#333333" stroke-width="1.6"/>
<circle cx="1949" cy="1223.18" r="3.1" fill="none" stroke="#333333" stroke-width="1.6"/>
<rect x="1922.6" y="1245.29" width="52.8" height="12.87" fill="#8DA0CB" stroke="#333333" stroke-width="1.8" stroke-linejoin="round"/>
<line x1="1922.6" y1="1252.55" x2="1975.4" y2="1252.55" stroke="#333333" stroke-width="4.2"/>
<line x1="1835.8" y1="1151.9" x2="1835.8" y2="1189.52" stroke="#333333" stroke-width="1.7"/>
<line x1="1835.8" y1="1238.36" x2="1835.8" y2="1269.05" stroke="#333333" stroke-width="1.7"/>
<rect x="1809.4" y="1189.52" width="52.8" height="48.84" fill="#FC8D62" stroke="#333333" stroke-width="1.8" stroke-linejoin="round"/>
<line x1="1809.4" y1="1216.25" x2="1862.2" y2="1216.25" stroke="#333333" stroke-width="4.2"/>
<line x1="2018.6" y1="1157.84" x2="2018.6" y2="1193.81" stroke="#333333" stroke-width="1.7"/>
<line x1="2018.6" y1="1234.4" x2="2018.6" y2="1251.89" stroke="#333333" stroke-width="1.7"/>
<rect x="1992.2" y="1193.81" width="52.8" height="40.59" fill="#8DA0CB" stroke="#333333" stroke-width="1.8" stroke-linejoin="round"/>
<line x1="1992.2" y1="1218.89" x2="2045" y2="1218.89" stroke="#333333" stroke-width="4.2"/>
<path d="M1765.8,1148.6 V1144.1 H1835.8 V1148.6" fill="none" stroke="#111" stroke-width="1.9" stroke-linejoin="round"/>
<text x="1800.39" y="1141.1" font-size="28" text-anchor="middle">ns</text>
<path d="M1949,1148.6 V1144.1 H2018.6 V1148.6" fill="none" stroke="#111" stroke-width="1.9" stroke-linejoin="round"/>
<text transform="translate(1984.55,1146.4) scale(1,0.9)" font-size="23" letter-spacing="1.5" text-anchor="middle" stroke="#000" stroke-width="0.35">***</text>
<text transform="translate(2075,1208.7) rotate(90)" font-size="28.9" text-anchor="middle">Gorilla</text>
<line x1="122.5" y1="1393.24" x2="122.5" y2="1409.74" stroke="#333333" stroke-width="1.7"/>
<line x1="122.5" y1="1441.75" x2="122.5" y2="1486.3" stroke="#333333" stroke-width="1.7"/>
<rect x="118.5" y="1486.3" width="8" height="9.24" rx="4" fill="#333333"/>
<rect x="99" y="1409.74" width="47" height="32.01" fill="#66C2A5" stroke="#333333" stroke-width="1.8" stroke-linejoin="round"/>
<line x1="99" y1="1424.59" x2="146" y2="1424.59" stroke="#333333" stroke-width="4.2"/>
<line x1="184.55" y1="1393.24" x2="184.55" y2="1400.83" stroke="#333333" stroke-width="1.7"/>
<line x1="184.55" y1="1445.71" x2="184.55" y2="1493.56" stroke="#333333" stroke-width="1.7"/>
<rect x="161.05" y="1400.83" width="47" height="44.88" fill="#FC8D62" stroke="#333333" stroke-width="1.8" stroke-linejoin="round"/>
<line x1="161.05" y1="1417.66" x2="208.05" y2="1417.66" stroke="#333333" stroke-width="4.2"/>
<line x1="246.6" y1="1393.24" x2="246.6" y2="1426.9" stroke="#333333" stroke-width="1.7"/>
<line x1="246.6" y1="1475.41" x2="246.6" y2="1493.56" stroke="#333333" stroke-width="1.7"/>
<rect x="223.1" y="1426.9" width="47" height="48.51" fill="#8DA0CB" stroke="#333333" stroke-width="1.8" stroke-linejoin="round"/>
<line x1="223.1" y1="1455.61" x2="270.1" y2="1455.61" stroke="#333333" stroke-width="4.2"/>
<path d="M122.5,1352.4 V1347.9 H246.6 V1352.4" fill="none" stroke="#111" stroke-width="1.9" stroke-linejoin="round"/>
<text transform="translate(185.3,1346.3) scale(1,0.9)" font-size="23" letter-spacing="1.5" text-anchor="middle" stroke="#000" stroke-width="0.35">***</text>
<path d="M184.55,1372.3 V1367.8 H246.6 V1372.3" fill="none" stroke="#111" stroke-width="1.9" stroke-linejoin="round"/>
<text transform="translate(216.32,1367.4) scale(1,0.9)" font-size="23" letter-spacing="1.5" text-anchor="middle" stroke="#000" stroke-width="0.35">***</text>
<path d="M122.5,1392.5 V1388 H184.55 V1392.5" fill="none" stroke="#111" stroke-width="1.9" stroke-linejoin="round"/>
<text transform="translate(154.28,1388.2) scale(1,0.9)" font-size="23" letter-spacing="1.5" text-anchor="middle" stroke="#000" stroke-width="0.35">***</text>
<line x1="351.43" y1="1393.24" x2="351.43" y2="1407.76" stroke="#333333" stroke-width="1.7"/>
<line x1="351.43" y1="1452.64" x2="351.43" y2="1493.56" stroke="#333333" stroke-width="1.7"/>
<rect x="327.93" y="1407.76" width="47" height="44.88" fill="#66C2A5" stroke="#333333" stroke-width="1.8" stroke-linejoin="round"/>
<line x1="327.93" y1="1429.21" x2="374.93" y2="1429.21" stroke="#333333" stroke-width="4.2"/>
<line x1="413.48" y1="1393.24" x2="413.48" y2="1417.99" stroke="#333333" stroke-width="1.7"/>
<line x1="413.48" y1="1470.46" x2="413.48" y2="1493.56" stroke="#333333" stroke-width="1.7"/>
<rect x="389.98" y="1417.99" width="47" height="52.47" fill="#FC8D62" stroke="#333333" stroke-width="1.8" stroke-linejoin="round"/>
<line x1="389.98" y1="1447.69" x2="436.98" y2="1447.69" stroke="#333333" stroke-width="4.2"/>
<line x1="475.53" y1="1414.36" x2="475.53" y2="1452.64" stroke="#333333" stroke-width="1.7"/>
<line x1="475.53" y1="1481.35" x2="475.53" y2="1493.56" stroke="#333333" stroke-width="1.7"/>
<rect x="471.53" y="1392.25" width="8" height="22.11" rx="4" fill="#333333"/>
<rect x="452.03" y="1452.64" width="47" height="28.71" fill="#8DA0CB" stroke="#333333" stroke-width="1.8" stroke-linejoin="round"/>
<line x1="452.03" y1="1468.81" x2="499.03" y2="1468.81" stroke="#333333" stroke-width="4.2"/>
<path d="M351.43,1352.4 V1347.9 H475.53 V1352.4" fill="none" stroke="#111" stroke-width="1.9" stroke-linejoin="round"/>
<text transform="translate(414.23,1346.3) scale(1,0.9)" font-size="23" letter-spacing="1.5" text-anchor="middle" stroke="#000" stroke-width="0.35">***</text>
<path d="M413.48,1372.3 V1367.8 H475.53 V1372.3" fill="none" stroke="#111" stroke-width="1.9" stroke-linejoin="round"/>
<text transform="translate(445.25,1367.4) scale(1,0.9)" font-size="23" letter-spacing="1.5" text-anchor="middle" stroke="#000" stroke-width="0.35">***</text>
<path d="M351.43,1392.5 V1388 H413.48 V1392.5" fill="none" stroke="#111" stroke-width="1.9" stroke-linejoin="round"/>
<text transform="translate(383.21,1388.2) scale(1,0.9)" font-size="23" letter-spacing="1.5" text-anchor="middle" stroke="#000" stroke-width="0.35">***</text>
<line x1="580.36" y1="1393.24" x2="580.36" y2="1413.04" stroke="#333333" stroke-width="1.7"/>
<line x1="580.36" y1="1462.21" x2="580.36" y2="1493.56" stroke="#333333" stroke-width="1.7"/>
<rect x="556.86" y="1413.04" width="47" height="49.17" fill="#66C2A5" stroke="#333333" stroke-width="1.8" stroke-linejoin="round"/>
<line x1="556.86" y1="1437.46" x2="603.86" y2="1437.46" stroke="#333333" stroke-width="4.2"/>
<line x1="642.41" y1="1393.24" x2="642.41" y2="1420.96" stroke="#333333" stroke-width="1.7"/>
<line x1="642.41" y1="1472.11" x2="642.41" y2="1493.56" stroke="#333333" stroke-width="1.7"/>
<rect x="618.91" y="1420.96" width="47" height="51.15" fill="#FC8D62" stroke="#333333" stroke-width="1.8" stroke-linejoin="round"/>
<line x1="618.91" y1="1450.66" x2="665.91" y2="1450.66" stroke="#333333" stroke-width="4.2"/>
<line x1="704.46" y1="1421.95" x2="704.46" y2="1456.6" stroke="#333333" stroke-width="1.7"/>
<line x1="704.46" y1="1481.35" x2="704.46" y2="1493.56" stroke="#333333" stroke-width="1.7"/>
<rect x="700.46" y="1391.26" width="8" height="30.69" rx="4" fill="#333333"/>
<rect x="680.96" y="1456.6" width="47" height="24.75" fill="#8DA0CB" stroke="#333333" stroke-width="1.8" stroke-linejoin="round"/>
<line x1="680.96" y1="1471.78" x2="727.96" y2="1471.78" stroke="#333333" stroke-width="4.2"/>
<path d="M580.36,1352.4 V1347.9 H704.46 V1352.4" fill="none" stroke="#111" stroke-width="1.9" stroke-linejoin="round"/>
<text transform="translate(643.16,1346.3) scale(1,0.9)" font-size="23" letter-spacing="1.5" text-anchor="middle" stroke="#000" stroke-width="0.35">***</text>
<path d="M642.41,1372.3 V1367.8 H704.46 V1372.3" fill="none" stroke="#111" stroke-width="1.9" stroke-linejoin="round"/>
<text transform="translate(674.18,1367.4) scale(1,0.9)" font-size="23" letter-spacing="1.5" text-anchor="middle" stroke="#000" stroke-width="0.35">***</text>
<path d="M580.36,1392.5 V1388 H642.41 V1392.5" fill="none" stroke="#111" stroke-width="1.9" stroke-linejoin="round"/>
<text transform="translate(612.13,1388.2) scale(1,0.9)" font-size="23" letter-spacing="1.5" text-anchor="middle" stroke="#000" stroke-width="0.35">***</text>
<line x1="809.29" y1="1393.24" x2="809.29" y2="1410.4" stroke="#333333" stroke-width="1.7"/>
<line x1="809.29" y1="1460.89" x2="809.29" y2="1490.26" stroke="#333333" stroke-width="1.7"/>
<rect x="785.79" y="1410.4" width="47" height="50.49" fill="#66C2A5" stroke="#333333" stroke-width="1.8" stroke-linejoin="round"/>
<line x1="785.79" y1="1431.19" x2="832.79" y2="1431.19" stroke="#333333" stroke-width="4.2"/>
<line x1="871.34" y1="1393.24" x2="871.34" y2="1407.76" stroke="#333333" stroke-width="1.7"/>
<line x1="871.34" y1="1469.14" x2="871.34" y2="1493.56" stroke="#333333" stroke-width="1.7"/>
<rect x="847.84" y="1407.76" width="47" height="61.38" fill="#FC8D62" stroke="#333333" stroke-width="1.8" stroke-linejoin="round"/>
<line x1="847.84" y1="1438.45" x2="894.84" y2="1438.45" stroke="#333333" stroke-width="4.2"/>
<line x1="933.39" y1="1393.24" x2="933.39" y2="1439.44" stroke="#333333" stroke-width="1.7"/>
<line x1="933.39" y1="1481.35" x2="933.39" y2="1493.56" stroke="#333333" stroke-width="1.7"/>
<rect x="909.89" y="1439.44" width="47" height="41.91" fill="#8DA0CB" stroke="#333333" stroke-width="1.8" stroke-linejoin="round"/>
<line x1="909.89" y1="1467.16" x2="956.89" y2="1467.16" stroke="#333333" stroke-width="4.2"/>
<path d="M809.29,1352.4 V1347.9 H933.39 V1352.4" fill="none" stroke="#111" stroke-width="1.9" stroke-linejoin="round"/>
<text transform="translate(872.09,1346.3) scale(1,0.9)" font-size="23" letter-spacing="1.5" text-anchor="middle" stroke="#000" stroke-width="0.35">***</text>
<path d="M871.34,1372.3 V1367.8 H933.39 V1372.3" fill="none" stroke="#111" stroke-width="1.9" stroke-linejoin="round"/>
<text transform="translate(903.12,1367.4) scale(1,0.9)" font-size="23" letter-spacing="1.5" text-anchor="middle" stroke="#000" stroke-width="0.35">***</text>
<path d="M809.29,1392.5 V1388 H871.34 V1392.5" fill="none" stroke="#111" stroke-width="1.9" stroke-linejoin="round"/>
<text x="839.9" y="1386.4" font-size="28" text-anchor="middle">ns</text>
<line x1="1038.22" y1="1395.88" x2="1038.22" y2="1396.54" stroke="#333333" stroke-width="1.7"/>
<line x1="1038.22" y1="1424.26" x2="1038.22" y2="1454.95" stroke="#333333" stroke-width="1.7"/>
<circle cx="1038.22" cy="1470.46" r="3.1" fill="none" stroke="#333333" stroke-width="1.6"/>
<rect x="1014.72" y="1396.54" width="47" height="27.72" fill="#66C2A5" stroke="#333333" stroke-width="1.8" stroke-linejoin="round"/>
<line x1="1014.72" y1="1406.44" x2="1061.72" y2="1406.44" stroke="#333333" stroke-width="4.2"/>
<line x1="1100.27" y1="1393.24" x2="1100.27" y2="1423.27" stroke="#333333" stroke-width="1.7"/>
<line x1="1100.27" y1="1463.2" x2="1100.27" y2="1489.6" stroke="#333333" stroke-width="1.7"/>
<rect x="1076.77" y="1423.27" width="47" height="39.93" fill="#FC8D62" stroke="#333333" stroke-width="1.8" stroke-linejoin="round"/>
<line x1="1076.77" y1="1442.41" x2="1123.77" y2="1442.41" stroke="#333333" stroke-width="4.2"/>
<line x1="1162.32" y1="1397.86" x2="1162.32" y2="1438.45" stroke="#333333" stroke-width="1.7"/>
<line x1="1162.32" y1="1479.7" x2="1162.32" y2="1493.56" stroke="#333333" stroke-width="1.7"/>
<rect x="1138.82" y="1438.45" width="47" height="41.25" fill="#8DA0CB" stroke="#333333" stroke-width="1.8" stroke-linejoin="round"/>
<line x1="1138.82" y1="1462.54" x2="1185.82" y2="1462.54" stroke="#333333" stroke-width="4.2"/>
<path d="M1038.22,1352.4 V1347.9 H1162.32 V1352.4" fill="none" stroke="#111" stroke-width="1.9" stroke-linejoin="round"/>
<text transform="translate(1101.02,1346.3) scale(1,0.9)" font-size="23" letter-spacing="1.5" text-anchor="middle" stroke="#000" stroke-width="0.35">***</text>
<path d="M1100.27,1372.3 V1367.8 H1162.32 V1372.3" fill="none" stroke="#111" stroke-width="1.9" stroke-linejoin="round"/>
<text transform="translate(1132.05,1367.4) scale(1,0.9)" font-size="23" letter-spacing="1.5" text-anchor="middle" stroke="#000" stroke-width="0.35">***</text>
<path d="M1038.22,1392.5 V1388 H1100.27 V1392.5" fill="none" stroke="#111" stroke-width="1.9" stroke-linejoin="round"/>
<text transform="translate(1069.99,1388.2) scale(1,0.9)" font-size="23" letter-spacing="1.5" text-anchor="middle" stroke="#000" stroke-width="0.35">***</text>
<line x1="1267.15" y1="1393.24" x2="1267.15" y2="1414.36" stroke="#333333" stroke-width="1.7"/>
<line x1="1267.15" y1="1470.46" x2="1267.15" y2="1493.56" stroke="#333333" stroke-width="1.7"/>
<rect x="1243.65" y="1414.36" width="47" height="56.1" fill="#66C2A5" stroke="#333333" stroke-width="1.8" stroke-linejoin="round"/>
<line x1="1243.65" y1="1445.05" x2="1290.65" y2="1445.05" stroke="#333333" stroke-width="4.2"/>
<line x1="1329.2" y1="1393.24" x2="1329.2" y2="1410.4" stroke="#333333" stroke-width="1.7"/>
<line x1="1329.2" y1="1482.34" x2="1329.2" y2="1493.56" stroke="#333333" stroke-width="1.7"/>
<rect x="1305.7" y="1410.4" width="47" height="71.94" fill="#FC8D62" stroke="#333333" stroke-width="1.8" stroke-linejoin="round"/>
<line x1="1305.7" y1="1449.34" x2="1352.7" y2="1449.34" stroke="#333333" stroke-width="4.2"/>
<line x1="1391.25" y1="1399.84" x2="1391.25" y2="1430.2" stroke="#333333" stroke-width="1.7"/>
<line x1="1391.25" y1="1452.64" x2="1391.25" y2="1485.64" stroke="#333333" stroke-width="1.7"/>
<rect x="1387.25" y="1391.26" width="8" height="8.58" rx="4" fill="#333333"/>
<rect x="1387.25" y="1485.64" width="8" height="10.56" rx="4" fill="#333333"/>
<rect x="1367.75" y="1430.2" width="47" height="22.44" fill="#8DA0CB" stroke="#333333" stroke-width="1.8" stroke-linejoin="round"/>
<line x1="1367.75" y1="1437.46" x2="1414.75" y2="1437.46" stroke="#333333" stroke-width="4.2"/>
<path d="M1267.15,1352.4 V1347.9 H1391.25 V1352.4" fill="none" stroke="#111" stroke-width="1.9" stroke-linejoin="round"/>
<text x="1328.79" y="1345.5" font-size="28" text-anchor="middle">ns</text>
<path d="M1329.2,1372.3 V1367.8 H1391.25 V1372.3" fill="none" stroke="#111" stroke-width="1.9" stroke-linejoin="round"/>
<text transform="translate(1360.97,1367.4) scale(1,0.9)" font-size="23" letter-spacing="1.5" text-anchor="middle" stroke="#000" stroke-width="0.35">***</text>
<path d="M1267.15,1392.5 V1388 H1329.2 V1392.5" fill="none" stroke="#111" stroke-width="1.9" stroke-linejoin="round"/>
<text transform="translate(1298.93,1388.2) scale(1,0.9)" font-size="23" letter-spacing="1.5" text-anchor="middle" stroke="#000" stroke-width="0.35">*</text>
<line x1="1496.08" y1="1402.15" x2="1496.08" y2="1414.36" stroke="#333333" stroke-width="1.7"/>
<line x1="1496.08" y1="1439.44" x2="1496.08" y2="1458.91" stroke="#333333" stroke-width="1.7"/>
<rect x="1472.58" y="1414.36" width="47" height="25.08" fill="#66C2A5" stroke="#333333" stroke-width="1.8" stroke-linejoin="round"/>
<line x1="1472.58" y1="1432.51" x2="1519.58" y2="1432.51" stroke="#333333" stroke-width="4.2"/>
<line x1="1558.13" y1="1397.86" x2="1558.13" y2="1426.9" stroke="#333333" stroke-width="1.7"/>
<line x1="1558.13" y1="1455.94" x2="1558.13" y2="1491.91" stroke="#333333" stroke-width="1.7"/>
<rect x="1534.63" y="1426.9" width="47" height="29.04" fill="#FC8D62" stroke="#333333" stroke-width="1.8" stroke-linejoin="round"/>
<line x1="1534.63" y1="1440.1" x2="1581.63" y2="1440.1" stroke="#333333" stroke-width="4.2"/>
<line x1="1620.18" y1="1403.14" x2="1620.18" y2="1437.46" stroke="#333333" stroke-width="1.7"/>
<line x1="1620.18" y1="1472.11" x2="1620.18" y2="1485.31" stroke="#333333" stroke-width="1.7"/>
<rect x="1596.68" y="1437.46" width="47" height="34.65" fill="#8DA0CB" stroke="#333333" stroke-width="1.8" stroke-linejoin="round"/>
<line x1="1596.68" y1="1463.2" x2="1643.68" y2="1463.2" stroke="#333333" stroke-width="4.2"/>
<path d="M1496.08,1352.4 V1347.9 H1620.18 V1352.4" fill="none" stroke="#111" stroke-width="1.9" stroke-linejoin="round"/>
<text transform="translate(1558.88,1346.3) scale(1,0.9)" font-size="23" letter-spacing="1.5" text-anchor="middle" stroke="#000" stroke-width="0.35">***</text>
<path d="M1558.13,1372.3 V1367.8 H1620.18 V1372.3" fill="none" stroke="#111" stroke-width="1.9" stroke-linejoin="round"/>
<text transform="translate(1589.9,1367.4) scale(1,0.9)" font-size="23" letter-spacing="1.5" text-anchor="middle" stroke="#000" stroke-width="0.35">***</text>
<path d="M1496.08,1392.5 V1388 H1558.13 V1392.5" fill="none" stroke="#111" stroke-width="1.9" stroke-linejoin="round"/>
<text transform="translate(1527.86,1388.2) scale(1,0.9)" font-size="23" letter-spacing="1.5" text-anchor="middle" stroke="#000" stroke-width="0.35">**</text>
<line x1="85" y1="1324.7" x2="85" y2="1502.1" stroke="#111" stroke-width="1.8"/>
<line x1="78.3" y1="1493.7" x2="85" y2="1493.7" stroke="#333333" stroke-width="1.5"/>
<text x="77.62" y="1502" font-size="24" text-anchor="end">0.0</text>
<line x1="78.3" y1="1443.35" x2="85" y2="1443.35" stroke="#333333" stroke-width="1.5"/>
<text x="77.72" y="1451.65" font-size="24" text-anchor="end">0.5</text>
<line x1="78.3" y1="1393" x2="85" y2="1393" stroke="#333333" stroke-width="1.5"/>
<text x="77.62" y="1401.3" font-size="24" text-anchor="end">1.0</text>
<line x1="1724.4" y1="1324.8" x2="1724.4" y2="1502" stroke="#111" stroke-width="1.8"/>
<line x1="1718.4" y1="1475.69" x2="1724.4" y2="1475.69" stroke="#333333" stroke-width="1.5"/>
<text x="1715.57" y="1484.19" font-size="24" text-anchor="end">0.3</text>
<line x1="1718.4" y1="1421.9" x2="1724.4" y2="1421.9" stroke="#333333" stroke-width="1.5"/>
<text x="1715.57" y="1430.4" font-size="24" text-anchor="end">0.6</text>
<line x1="1718.4" y1="1368.11" x2="1724.4" y2="1368.11" stroke="#333333" stroke-width="1.5"/>
<text x="1715.67" y="1376.61" font-size="24" text-anchor="end">0.9</text>
<line x1="1765.8" y1="1372.45" x2="1765.8" y2="1390.27" stroke="#333333" stroke-width="1.7"/>
<line x1="1765.8" y1="1437.46" x2="1765.8" y2="1472.11" stroke="#333333" stroke-width="1.7"/>
<rect x="1739.4" y="1390.27" width="52.8" height="47.19" fill="#FC8D62" stroke="#333333" stroke-width="1.8" stroke-linejoin="round"/>
<line x1="1739.4" y1="1434.49" x2="1792.2" y2="1434.49" stroke="#333333" stroke-width="4.2"/>
<line x1="1949" y1="1453.96" x2="1949" y2="1471.45" stroke="#333333" stroke-width="1.7"/>
<line x1="1949" y1="1485.31" x2="1949" y2="1491.25" stroke="#333333" stroke-width="1.7"/>
<circle cx="1949" cy="1429.54" r="3.1" fill="none" stroke="#333333" stroke-width="1.6"/>
<rect x="1945" y="1431.85" width="8" height="22.11" rx="4" fill="#333333"/>
<rect x="1922.6" y="1471.45" width="52.8" height="13.86" fill="#8DA0CB" stroke="#333333" stroke-width="1.8" stroke-linejoin="round"/>
<line x1="1922.6" y1="1480.69" x2="1975.4" y2="1480.69" stroke="#333333" stroke-width="4.2"/>
<line x1="1835.8" y1="1361.89" x2="1835.8" y2="1405.78" stroke="#333333" stroke-width="1.7"/>
<line x1="1835.8" y1="1466.5" x2="1835.8" y2="1486.96" stroke="#333333" stroke-width="1.7"/>
<rect x="1809.4" y="1405.78" width="52.8" height="60.72" fill="#FC8D62" stroke="#333333" stroke-width="1.8" stroke-linejoin="round"/>
<line x1="1809.4" y1="1440.76" x2="1862.2" y2="1440.76" stroke="#333333" stroke-width="4.2"/>
<line x1="2018.6" y1="1364.2" x2="2018.6" y2="1409.74" stroke="#333333" stroke-width="1.7"/>
<line x1="2018.6" y1="1473.76" x2="2018.6" y2="1490.26" stroke="#333333" stroke-width="1.7"/>
<rect x="1992.2" y="1409.74" width="52.8" height="64.02" fill="#8DA0CB" stroke="#333333" stroke-width="1.8" stroke-linejoin="round"/>
<line x1="1992.2" y1="1458.25" x2="2045" y2="1458.25" stroke="#333333" stroke-width="4.2"/>
<path d="M1765.8,1357.7 V1353.2 H1835.8 V1357.7" fill="none" stroke="#111" stroke-width="1.9" stroke-linejoin="round"/>
<text transform="translate(1801.55,1355.5) scale(1,0.9)" font-size="23" letter-spacing="1.5" text-anchor="middle" stroke="#000" stroke-width="0.35">*</text>
<path d="M1949,1357.7 V1353.2 H2018.6 V1357.7" fill="none" stroke="#111" stroke-width="1.9" stroke-linejoin="round"/>
<text transform="translate(1984.55,1355.5) scale(1,0.9)" font-size="23" letter-spacing="1.5" text-anchor="middle" stroke="#000" stroke-width="0.35">***</text>
<text transform="translate(2075,1429.9) rotate(90)" font-size="28.9" text-anchor="middle">B. orangutan</text>
<line x1="122.5" y1="1602.24" x2="122.5" y2="1619.4" stroke="#333333" stroke-width="1.7"/>
<line x1="122.5" y1="1648.11" x2="122.5" y2="1688.7" stroke="#333333" stroke-width="1.7"/>
<rect x="118.5" y="1688.7" width="8" height="16.5" rx="4" fill="#333333"/>
<rect x="99" y="1619.4" width="47" height="28.71" fill="#66C2A5" stroke="#333333" stroke-width="1.8" stroke-linejoin="round"/>
<line x1="99" y1="1633.26" x2="146" y2="1633.26" stroke="#333333" stroke-width="4.2"/>
<line x1="184.55" y1="1602.24" x2="184.55" y2="1611.15" stroke="#333333" stroke-width="1.7"/>
<line x1="184.55" y1="1650.09" x2="184.55" y2="1702.56" stroke="#333333" stroke-width="1.7"/>
<rect x="161.05" y="1611.15" width="47" height="38.94" fill="#FC8D62" stroke="#333333" stroke-width="1.8" stroke-linejoin="round"/>
<line x1="161.05" y1="1626" x2="208.05" y2="1626" stroke="#333333" stroke-width="4.2"/>
<line x1="246.6" y1="1602.24" x2="246.6" y2="1626" stroke="#333333" stroke-width="1.7"/>
<line x1="246.6" y1="1670.55" x2="246.6" y2="1702.56" stroke="#333333" stroke-width="1.7"/>
<rect x="223.1" y="1626" width="47" height="44.55" fill="#8DA0CB" stroke="#333333" stroke-width="1.8" stroke-linejoin="round"/>
<line x1="223.1" y1="1646.46" x2="270.1" y2="1646.46" stroke="#333333" stroke-width="4.2"/>
<path d="M122.5,1561.5 V1557 H246.6 V1561.5" fill="none" stroke="#111" stroke-width="1.9" stroke-linejoin="round"/>
<text transform="translate(185.3,1555.4) scale(1,0.9)" font-size="23" letter-spacing="1.5" text-anchor="middle" stroke="#000" stroke-width="0.35">***</text>
<path d="M184.55,1581.4 V1576.9 H246.6 V1581.4" fill="none" stroke="#111" stroke-width="1.9" stroke-linejoin="round"/>
<text transform="translate(216.32,1576.5) scale(1,0.9)" font-size="23" letter-spacing="1.5" text-anchor="middle" stroke="#000" stroke-width="0.35">***</text>
<path d="M122.5,1601.6 V1597.1 H184.55 V1601.6" fill="none" stroke="#111" stroke-width="1.9" stroke-linejoin="round"/>
<text transform="translate(154.28,1597.3) scale(1,0.9)" font-size="23" letter-spacing="1.5" text-anchor="middle" stroke="#000" stroke-width="0.35">***</text>
<line x1="351.43" y1="1602.24" x2="351.43" y2="1619.4" stroke="#333333" stroke-width="1.7"/>
<line x1="351.43" y1="1658.34" x2="351.43" y2="1702.56" stroke="#333333" stroke-width="1.7"/>
<rect x="327.93" y="1619.4" width="47" height="38.94" fill="#66C2A5" stroke="#333333" stroke-width="1.8" stroke-linejoin="round"/>
<line x1="327.93" y1="1638.54" x2="374.93" y2="1638.54" stroke="#333333" stroke-width="4.2"/>
<line x1="413.48" y1="1602.24" x2="413.48" y2="1628.64" stroke="#333333" stroke-width="1.7"/>
<line x1="413.48" y1="1672.2" x2="413.48" y2="1702.56" stroke="#333333" stroke-width="1.7"/>
<rect x="389.98" y="1628.64" width="47" height="43.56" fill="#FC8D62" stroke="#333333" stroke-width="1.8" stroke-linejoin="round"/>
<line x1="389.98" y1="1652.4" x2="436.98" y2="1652.4" stroke="#333333" stroke-width="4.2"/>
<line x1="475.53" y1="1602.24" x2="475.53" y2="1650.09" stroke="#333333" stroke-width="1.7"/>
<line x1="475.53" y1="1683.75" x2="475.53" y2="1702.56" stroke="#333333" stroke-width="1.7"/>
<rect x="452.03" y="1650.09" width="47" height="33.66" fill="#8DA0CB" stroke="#333333" stroke-width="1.8" stroke-linejoin="round"/>
<line x1="452.03" y1="1668.9" x2="499.03" y2="1668.9" stroke="#333333" stroke-width="4.2"/>
<path d="M351.43,1561.5 V1557 H475.53 V1561.5" fill="none" stroke="#111" stroke-width="1.9" stroke-linejoin="round"/>
<text transform="translate(414.23,1555.4) scale(1,0.9)" font-size="23" letter-spacing="1.5" text-anchor="middle" stroke="#000" stroke-width="0.35">***</text>
<path d="M413.48,1581.4 V1576.9 H475.53 V1581.4" fill="none" stroke="#111" stroke-width="1.9" stroke-linejoin="round"/>
<text transform="translate(445.25,1576.5) scale(1,0.9)" font-size="23" letter-spacing="1.5" text-anchor="middle" stroke="#000" stroke-width="0.35">***</text>
<path d="M351.43,1601.6 V1597.1 H413.48 V1601.6" fill="none" stroke="#111" stroke-width="1.9" stroke-linejoin="round"/>
<text transform="translate(383.21,1597.3) scale(1,0.9)" font-size="23" letter-spacing="1.5" text-anchor="middle" stroke="#000" stroke-width="0.35">***</text>
<line x1="580.36" y1="1602.24" x2="580.36" y2="1626" stroke="#333333" stroke-width="1.7"/>
<line x1="580.36" y1="1667.25" x2="580.36" y2="1702.56" stroke="#333333" stroke-width="1.7"/>
<rect x="556.86" y="1626" width="47" height="41.25" fill="#66C2A5" stroke="#333333" stroke-width="1.8" stroke-linejoin="round"/>
<line x1="556.86" y1="1647.78" x2="603.86" y2="1647.78" stroke="#333333" stroke-width="4.2"/>
<line x1="642.41" y1="1602.24" x2="642.41" y2="1631.94" stroke="#333333" stroke-width="1.7"/>
<line x1="642.41" y1="1675.5" x2="642.41" y2="1702.56" stroke="#333333" stroke-width="1.7"/>
<rect x="618.91" y="1631.94" width="47" height="43.56" fill="#FC8D62" stroke="#333333" stroke-width="1.8" stroke-linejoin="round"/>
<line x1="618.91" y1="1655.7" x2="665.91" y2="1655.7" stroke="#333333" stroke-width="4.2"/>
<line x1="704.46" y1="1602.24" x2="704.46" y2="1650.09" stroke="#333333" stroke-width="1.7"/>
<line x1="704.46" y1="1683.75" x2="704.46" y2="1702.56" stroke="#333333" stroke-width="1.7"/>
<rect x="680.96" y="1650.09" width="47" height="33.66" fill="#8DA0CB" stroke="#333333" stroke-width="1.8" stroke-linejoin="round"/>
<line x1="680.96" y1="1668.9" x2="727.96" y2="1668.9" stroke="#333333" stroke-width="4.2"/>
<path d="M580.36,1561.5 V1557 H704.46 V1561.5" fill="none" stroke="#111" stroke-width="1.9" stroke-linejoin="round"/>
<text transform="translate(643.16,1555.4) scale(1,0.9)" font-size="23" letter-spacing="1.5" text-anchor="middle" stroke="#000" stroke-width="0.35">***</text>
<path d="M642.41,1581.4 V1576.9 H704.46 V1581.4" fill="none" stroke="#111" stroke-width="1.9" stroke-linejoin="round"/>
<text transform="translate(674.18,1576.5) scale(1,0.9)" font-size="23" letter-spacing="1.5" text-anchor="middle" stroke="#000" stroke-width="0.35">***</text>
<path d="M580.36,1601.6 V1597.1 H642.41 V1601.6" fill="none" stroke="#111" stroke-width="1.9" stroke-linejoin="round"/>
<text transform="translate(612.13,1597.3) scale(1,0.9)" font-size="23" letter-spacing="1.5" text-anchor="middle" stroke="#000" stroke-width="0.35">***</text>
<line x1="809.29" y1="1602.24" x2="809.29" y2="1620.39" stroke="#333333" stroke-width="1.7"/>
<line x1="809.29" y1="1668.24" x2="809.29" y2="1702.56" stroke="#333333" stroke-width="1.7"/>
<rect x="785.79" y="1620.39" width="47" height="47.85" fill="#66C2A5" stroke="#333333" stroke-width="1.8" stroke-linejoin="round"/>
<line x1="785.79" y1="1643.82" x2="832.79" y2="1643.82" stroke="#333333" stroke-width="4.2"/>
<line x1="871.34" y1="1602.24" x2="871.34" y2="1619.4" stroke="#333333" stroke-width="1.7"/>
<line x1="871.34" y1="1670.55" x2="871.34" y2="1702.56" stroke="#333333" stroke-width="1.7"/>
<rect x="847.84" y="1619.4" width="47" height="51.15" fill="#FC8D62" stroke="#333333" stroke-width="1.8" stroke-linejoin="round"/>
<line x1="847.84" y1="1644.48" x2="894.84" y2="1644.48" stroke="#333333" stroke-width="4.2"/>
<line x1="933.39" y1="1602.24" x2="933.39" y2="1641.84" stroke="#333333" stroke-width="1.7"/>
<line x1="933.39" y1="1683.75" x2="933.39" y2="1702.56" stroke="#333333" stroke-width="1.7"/>
<rect x="909.89" y="1641.84" width="47" height="41.91" fill="#8DA0CB" stroke="#333333" stroke-width="1.8" stroke-linejoin="round"/>
<line x1="909.89" y1="1665.6" x2="956.89" y2="1665.6" stroke="#333333" stroke-width="4.2"/>
<path d="M809.29,1561.5 V1557 H933.39 V1561.5" fill="none" stroke="#111" stroke-width="1.9" stroke-linejoin="round"/>
<text transform="translate(872.09,1555.4) scale(1,0.9)" font-size="23" letter-spacing="1.5" text-anchor="middle" stroke="#000" stroke-width="0.35">***</text>
<path d="M871.34,1581.4 V1576.9 H933.39 V1581.4" fill="none" stroke="#111" stroke-width="1.9" stroke-linejoin="round"/>
<text transform="translate(903.12,1576.5) scale(1,0.9)" font-size="23" letter-spacing="1.5" text-anchor="middle" stroke="#000" stroke-width="0.35">***</text>
<path d="M809.29,1601.6 V1597.1 H871.34 V1601.6" fill="none" stroke="#111" stroke-width="1.9" stroke-linejoin="round"/>
<text x="839.9" y="1595.5" font-size="28" text-anchor="middle">ns</text>
<line x1="1038.22" y1="1602.24" x2="1038.22" y2="1612.14" stroke="#333333" stroke-width="1.7"/>
<line x1="1038.22" y1="1631.94" x2="1038.22" y2="1655.7" stroke="#333333" stroke-width="1.7"/>
<circle cx="1038.22" cy="1663.95" r="3.1" fill="none" stroke="#333333" stroke-width="1.6"/>
<circle cx="1038.22" cy="1666.92" r="3.1" fill="none" stroke="#333333" stroke-width="1.6"/>
<circle cx="1038.22" cy="1696.95" r="3.1" fill="none" stroke="#333333" stroke-width="1.6"/>
<rect x="1014.72" y="1612.14" width="47" height="19.8" fill="#66C2A5" stroke="#333333" stroke-width="1.8" stroke-linejoin="round"/>
<line x1="1014.72" y1="1621.05" x2="1061.72" y2="1621.05" stroke="#333333" stroke-width="4.2"/>
<line x1="1100.27" y1="1602.24" x2="1100.27" y2="1632.6" stroke="#333333" stroke-width="1.7"/>
<line x1="1100.27" y1="1669.56" x2="1100.27" y2="1702.56" stroke="#333333" stroke-width="1.7"/>
<rect x="1076.77" y="1632.6" width="47" height="36.96" fill="#FC8D62" stroke="#333333" stroke-width="1.8" stroke-linejoin="round"/>
<line x1="1076.77" y1="1649.76" x2="1123.77" y2="1649.76" stroke="#333333" stroke-width="4.2"/>
<line x1="1162.32" y1="1602.24" x2="1162.32" y2="1639.86" stroke="#333333" stroke-width="1.7"/>
<line x1="1162.32" y1="1673.19" x2="1162.32" y2="1702.56" stroke="#333333" stroke-width="1.7"/>
<rect x="1138.82" y="1639.86" width="47" height="33.33" fill="#8DA0CB" stroke="#333333" stroke-width="1.8" stroke-linejoin="round"/>
<line x1="1138.82" y1="1651.74" x2="1185.82" y2="1651.74" stroke="#333333" stroke-width="4.2"/>
<path d="M1038.22,1561.5 V1557 H1162.32 V1561.5" fill="none" stroke="#111" stroke-width="1.9" stroke-linejoin="round"/>
<text transform="translate(1101.02,1555.4) scale(1,0.9)" font-size="23" letter-spacing="1.5" text-anchor="middle" stroke="#000" stroke-width="0.35">***</text>
<path d="M1100.27,1581.4 V1576.9 H1162.32 V1581.4" fill="none" stroke="#111" stroke-width="1.9" stroke-linejoin="round"/>
<text transform="translate(1132.05,1576.5) scale(1,0.9)" font-size="23" letter-spacing="1.5" text-anchor="middle" stroke="#000" stroke-width="0.35">**</text>
<path d="M1038.22,1601.6 V1597.1 H1100.27 V1601.6" fill="none" stroke="#111" stroke-width="1.9" stroke-linejoin="round"/>
<text transform="translate(1069.99,1597.3) scale(1,0.9)" font-size="23" letter-spacing="1.5" text-anchor="middle" stroke="#000" stroke-width="0.35">***</text>
<line x1="1267.15" y1="1602.24" x2="1267.15" y2="1626.99" stroke="#333333" stroke-width="1.7"/>
<line x1="1267.15" y1="1676.49" x2="1267.15" y2="1702.56" stroke="#333333" stroke-width="1.7"/>
<rect x="1243.65" y="1626.99" width="47" height="49.5" fill="#66C2A5" stroke="#333333" stroke-width="1.8" stroke-linejoin="round"/>
<line x1="1243.65" y1="1653.72" x2="1290.65" y2="1653.72" stroke="#333333" stroke-width="4.2"/>
<line x1="1329.2" y1="1602.24" x2="1329.2" y2="1620.39" stroke="#333333" stroke-width="1.7"/>
<line x1="1329.2" y1="1684.41" x2="1329.2" y2="1702.56" stroke="#333333" stroke-width="1.7"/>
<rect x="1305.7" y="1620.39" width="47" height="64.02" fill="#FC8D62" stroke="#333333" stroke-width="1.8" stroke-linejoin="round"/>
<line x1="1305.7" y1="1651.74" x2="1352.7" y2="1651.74" stroke="#333333" stroke-width="4.2"/>
<line x1="1391.25" y1="1613.46" x2="1391.25" y2="1636.56" stroke="#333333" stroke-width="1.7"/>
<line x1="1391.25" y1="1654.05" x2="1391.25" y2="1678.14" stroke="#333333" stroke-width="1.7"/>
<rect x="1387.25" y="1600.26" width="8" height="13.2" rx="4" fill="#333333"/>
<rect x="1387.25" y="1678.14" width="8" height="27.06" rx="4" fill="#333333"/>
<rect x="1367.75" y="1636.56" width="47" height="17.49" fill="#8DA0CB" stroke="#333333" stroke-width="1.8" stroke-linejoin="round"/>
<line x1="1367.75" y1="1643.49" x2="1414.75" y2="1643.49" stroke="#333333" stroke-width="4.2"/>
<path d="M1267.15,1561.5 V1557 H1391.25 V1561.5" fill="none" stroke="#111" stroke-width="1.9" stroke-linejoin="round"/>
<text transform="translate(1329.95,1555.4) scale(1,0.9)" font-size="23" letter-spacing="1.5" text-anchor="middle" stroke="#000" stroke-width="0.35">***</text>
<path d="M1329.2,1581.4 V1576.9 H1391.25 V1581.4" fill="none" stroke="#111" stroke-width="1.9" stroke-linejoin="round"/>
<text transform="translate(1360.97,1576.5) scale(1,0.9)" font-size="23" letter-spacing="1.5" text-anchor="middle" stroke="#000" stroke-width="0.35">***</text>
<path d="M1267.15,1601.6 V1597.1 H1329.2 V1601.6" fill="none" stroke="#111" stroke-width="1.9" stroke-linejoin="round"/>
<text x="1297.76" y="1595.5" font-size="28" text-anchor="middle">ns</text>
<line x1="1496.08" y1="1608.51" x2="1496.08" y2="1623.36" stroke="#333333" stroke-width="1.7"/>
<line x1="1496.08" y1="1651.41" x2="1496.08" y2="1673.85" stroke="#333333" stroke-width="1.7"/>
<rect x="1472.58" y="1623.36" width="47" height="28.05" fill="#66C2A5" stroke="#333333" stroke-width="1.8" stroke-linejoin="round"/>
<line x1="1472.58" y1="1640.85" x2="1519.58" y2="1640.85" stroke="#333333" stroke-width="4.2"/>
<line x1="1558.13" y1="1606.86" x2="1558.13" y2="1635.24" stroke="#333333" stroke-width="1.7"/>
<line x1="1558.13" y1="1662.96" x2="1558.13" y2="1700.25" stroke="#333333" stroke-width="1.7"/>
<rect x="1534.63" y="1635.24" width="47" height="27.72" fill="#FC8D62" stroke="#333333" stroke-width="1.8" stroke-linejoin="round"/>
<line x1="1534.63" y1="1648.44" x2="1581.63" y2="1648.44" stroke="#333333" stroke-width="4.2"/>
<line x1="1620.18" y1="1611.15" x2="1620.18" y2="1639.86" stroke="#333333" stroke-width="1.7"/>
<line x1="1620.18" y1="1677.81" x2="1620.18" y2="1702.56" stroke="#333333" stroke-width="1.7"/>
<rect x="1596.68" y="1639.86" width="47" height="37.95" fill="#8DA0CB" stroke="#333333" stroke-width="1.8" stroke-linejoin="round"/>
<line x1="1596.68" y1="1665.6" x2="1643.68" y2="1665.6" stroke="#333333" stroke-width="4.2"/>
<path d="M1496.08,1561.5 V1557 H1620.18 V1561.5" fill="none" stroke="#111" stroke-width="1.9" stroke-linejoin="round"/>
<text transform="translate(1558.88,1555.4) scale(1,0.9)" font-size="23" letter-spacing="1.5" text-anchor="middle" stroke="#000" stroke-width="0.35">***</text>
<path d="M1558.13,1581.4 V1576.9 H1620.18 V1581.4" fill="none" stroke="#111" stroke-width="1.9" stroke-linejoin="round"/>
<text transform="translate(1589.9,1576.5) scale(1,0.9)" font-size="23" letter-spacing="1.5" text-anchor="middle" stroke="#000" stroke-width="0.35">**</text>
<path d="M1496.08,1601.6 V1597.1 H1558.13 V1601.6" fill="none" stroke="#111" stroke-width="1.9" stroke-linejoin="round"/>
<text transform="translate(1527.86,1597.3) scale(1,0.9)" font-size="23" letter-spacing="1.5" text-anchor="middle" stroke="#000" stroke-width="0.35">**</text>
<line x1="85" y1="1533.8" x2="85" y2="1711.2" stroke="#111" stroke-width="1.8"/>
<line x1="78.3" y1="1702.8" x2="85" y2="1702.8" stroke="#333333" stroke-width="1.5"/>
<text x="77.62" y="1711.1" font-size="24" text-anchor="end">0.0</text>
<line x1="78.3" y1="1652.45" x2="85" y2="1652.45" stroke="#333333" stroke-width="1.5"/>
<text x="77.72" y="1660.75" font-size="24" text-anchor="end">0.5</text>
<line x1="78.3" y1="1602.1" x2="85" y2="1602.1" stroke="#333333" stroke-width="1.5"/>
<text x="77.62" y="1610.4" font-size="24" text-anchor="end">1.0</text>
<line x1="1724.4" y1="1533.9" x2="1724.4" y2="1711.1" stroke="#111" stroke-width="1.8"/>
<line x1="1718.4" y1="1684.79" x2="1724.4" y2="1684.79" stroke="#333333" stroke-width="1.5"/>
<text x="1715.57" y="1693.29" font-size="24" text-anchor="end">0.3</text>
<line x1="1718.4" y1="1631" x2="1724.4" y2="1631" stroke="#333333" stroke-width="1.5"/>
<text x="1715.57" y="1639.5" font-size="24" text-anchor="end">0.6</text>
<line x1="1718.4" y1="1577.21" x2="1724.4" y2="1577.21" stroke="#333333" stroke-width="1.5"/>
<text x="1715.67" y="1585.71" font-size="24" text-anchor="end">0.9</text>
<line x1="1765.8" y1="1578.81" x2="1765.8" y2="1620.72" stroke="#333333" stroke-width="1.7"/>
<line x1="1765.8" y1="1650.09" x2="1765.8" y2="1682.1" stroke="#333333" stroke-width="1.7"/>
<rect x="1739.4" y="1620.72" width="52.8" height="29.37" fill="#FC8D62" stroke="#333333" stroke-width="1.8" stroke-linejoin="round"/>
<line x1="1739.4" y1="1640.85" x2="1792.2" y2="1640.85" stroke="#333333" stroke-width="4.2"/>
<line x1="1949" y1="1613.46" x2="1949" y2="1651.08" stroke="#333333" stroke-width="1.7"/>
<line x1="1949" y1="1677.81" x2="1949" y2="1695.3" stroke="#333333" stroke-width="1.7"/>
<circle cx="1949" cy="1610.16" r="3.1" fill="none" stroke="#333333" stroke-width="1.6"/>
<rect x="1922.6" y="1651.08" width="52.8" height="26.73" fill="#8DA0CB" stroke="#333333" stroke-width="1.8" stroke-linejoin="round"/>
<line x1="1922.6" y1="1665.6" x2="1975.4" y2="1665.6" stroke="#333333" stroke-width="4.2"/>
<line x1="1835.8" y1="1570.56" x2="1835.8" y2="1615.44" stroke="#333333" stroke-width="1.7"/>
<line x1="1835.8" y1="1666.26" x2="1835.8" y2="1691.34" stroke="#333333" stroke-width="1.7"/>
<rect x="1809.4" y="1615.44" width="52.8" height="50.82" fill="#FC8D62" stroke="#333333" stroke-width="1.8" stroke-linejoin="round"/>
<line x1="1809.4" y1="1642.5" x2="1862.2" y2="1642.5" stroke="#333333" stroke-width="4.2"/>
<line x1="2018.6" y1="1573.86" x2="2018.6" y2="1615.44" stroke="#333333" stroke-width="1.7"/>
<line x1="2018.6" y1="1675.5" x2="2018.6" y2="1695.3" stroke="#333333" stroke-width="1.7"/>
<rect x="1992.2" y="1615.44" width="52.8" height="60.06" fill="#8DA0CB" stroke="#333333" stroke-width="1.8" stroke-linejoin="round"/>
<line x1="1992.2" y1="1651.08" x2="2045" y2="1651.08" stroke="#333333" stroke-width="4.2"/>
<path d="M1765.8,1566.8 V1562.3 H1835.8 V1566.8" fill="none" stroke="#111" stroke-width="1.9" stroke-linejoin="round"/>
<text x="1800.39" y="1559.3" font-size="28" text-anchor="middle">ns</text>
<path d="M1949,1566.8 V1562.3 H2018.6 V1566.8" fill="none" stroke="#111" stroke-width="1.9" stroke-linejoin="round"/>
<text transform="translate(1984.55,1564.6) scale(1,0.9)" font-size="23" letter-spacing="1.5" text-anchor="middle" stroke="#000" stroke-width="0.35">**</text>
<text transform="translate(2075,1635.3) rotate(90)" font-size="28.9" text-anchor="middle">S. orangutan</text>
<line x1="122.5" y1="1811.24" x2="122.5" y2="1824.44" stroke="#333333" stroke-width="1.7"/>
<line x1="122.5" y1="1866.35" x2="122.5" y2="1911.56" stroke="#333333" stroke-width="1.7"/>
<rect x="99" y="1824.44" width="47" height="41.91" fill="#66C2A5" stroke="#333333" stroke-width="1.8" stroke-linejoin="round"/>
<line x1="99" y1="1842.59" x2="146" y2="1842.59" stroke="#333333" stroke-width="4.2"/>
<line x1="184.55" y1="1811.24" x2="184.55" y2="1826.09" stroke="#333333" stroke-width="1.7"/>
<line x1="184.55" y1="1875.26" x2="184.55" y2="1911.56" stroke="#333333" stroke-width="1.7"/>
<rect x="161.05" y="1826.09" width="47" height="49.17" fill="#FC8D62" stroke="#333333" stroke-width="1.8" stroke-linejoin="round"/>
<line x1="161.05" y1="1848.86" x2="208.05" y2="1848.86" stroke="#333333" stroke-width="4.2"/>
<line x1="246.6" y1="1811.24" x2="246.6" y2="1838.96" stroke="#333333" stroke-width="1.7"/>
<line x1="246.6" y1="1889.45" x2="246.6" y2="1911.56" stroke="#333333" stroke-width="1.7"/>
<rect x="223.1" y="1838.96" width="47" height="50.49" fill="#8DA0CB" stroke="#333333" stroke-width="1.8" stroke-linejoin="round"/>
<line x1="223.1" y1="1862.06" x2="270.1" y2="1862.06" stroke="#333333" stroke-width="4.2"/>
<path d="M122.5,1770.6 V1766.1 H246.6 V1770.6" fill="none" stroke="#111" stroke-width="1.9" stroke-linejoin="round"/>
<text transform="translate(185.3,1764.5) scale(1,0.9)" font-size="23" letter-spacing="1.5" text-anchor="middle" stroke="#000" stroke-width="0.35">***</text>
<path d="M184.55,1790.5 V1786 H246.6 V1790.5" fill="none" stroke="#111" stroke-width="1.9" stroke-linejoin="round"/>
<text transform="translate(216.32,1785.6) scale(1,0.9)" font-size="23" letter-spacing="1.5" text-anchor="middle" stroke="#000" stroke-width="0.35">***</text>
<path d="M122.5,1810.7 V1806.2 H184.55 V1810.7" fill="none" stroke="#111" stroke-width="1.9" stroke-linejoin="round"/>
<text transform="translate(154.28,1806.4) scale(1,0.9)" font-size="23" letter-spacing="1.5" text-anchor="middle" stroke="#000" stroke-width="0.35">***</text>
<line x1="351.43" y1="1811.24" x2="351.43" y2="1827.41" stroke="#333333" stroke-width="1.7"/>
<line x1="351.43" y1="1874.6" x2="351.43" y2="1911.56" stroke="#333333" stroke-width="1.7"/>
<rect x="327.93" y="1827.41" width="47" height="47.19" fill="#66C2A5" stroke="#333333" stroke-width="1.8" stroke-linejoin="round"/>
<line x1="327.93" y1="1847.54" x2="374.93" y2="1847.54" stroke="#333333" stroke-width="4.2"/>
<line x1="413.48" y1="1811.24" x2="413.48" y2="1850.84" stroke="#333333" stroke-width="1.7"/>
<line x1="413.48" y1="1893.74" x2="413.48" y2="1911.56" stroke="#333333" stroke-width="1.7"/>
<rect x="389.98" y="1850.84" width="47" height="42.9" fill="#FC8D62" stroke="#333333" stroke-width="1.8" stroke-linejoin="round"/>
<line x1="389.98" y1="1877.24" x2="436.98" y2="1877.24" stroke="#333333" stroke-width="4.2"/>
<line x1="475.53" y1="1811.24" x2="475.53" y2="1857.44" stroke="#333333" stroke-width="1.7"/>
<line x1="475.53" y1="1897.04" x2="475.53" y2="1911.56" stroke="#333333" stroke-width="1.7"/>
<rect x="452.03" y="1857.44" width="47" height="39.6" fill="#8DA0CB" stroke="#333333" stroke-width="1.8" stroke-linejoin="round"/>
<line x1="452.03" y1="1882.19" x2="499.03" y2="1882.19" stroke="#333333" stroke-width="4.2"/>
<path d="M351.43,1770.6 V1766.1 H475.53 V1770.6" fill="none" stroke="#111" stroke-width="1.9" stroke-linejoin="round"/>
<text transform="translate(414.23,1764.5) scale(1,0.9)" font-size="23" letter-spacing="1.5" text-anchor="middle" stroke="#000" stroke-width="0.35">***</text>
<path d="M413.48,1790.5 V1786 H475.53 V1790.5" fill="none" stroke="#111" stroke-width="1.9" stroke-linejoin="round"/>
<text transform="translate(445.25,1785.6) scale(1,0.9)" font-size="23" letter-spacing="1.5" text-anchor="middle" stroke="#000" stroke-width="0.35">***</text>
<path d="M351.43,1810.7 V1806.2 H413.48 V1810.7" fill="none" stroke="#111" stroke-width="1.9" stroke-linejoin="round"/>
<text transform="translate(383.21,1806.4) scale(1,0.9)" font-size="23" letter-spacing="1.5" text-anchor="middle" stroke="#000" stroke-width="0.35">***</text>
<line x1="580.36" y1="1811.24" x2="580.36" y2="1829.72" stroke="#333333" stroke-width="1.7"/>
<line x1="580.36" y1="1883.51" x2="580.36" y2="1911.56" stroke="#333333" stroke-width="1.7"/>
<rect x="556.86" y="1829.72" width="47" height="53.79" fill="#66C2A5" stroke="#333333" stroke-width="1.8" stroke-linejoin="round"/>
<line x1="556.86" y1="1851.5" x2="603.86" y2="1851.5" stroke="#333333" stroke-width="4.2"/>
<line x1="642.41" y1="1811.24" x2="642.41" y2="1856.12" stroke="#333333" stroke-width="1.7"/>
<line x1="642.41" y1="1896.05" x2="642.41" y2="1911.56" stroke="#333333" stroke-width="1.7"/>
<rect x="618.91" y="1856.12" width="47" height="39.93" fill="#FC8D62" stroke="#333333" stroke-width="1.8" stroke-linejoin="round"/>
<line x1="618.91" y1="1880.21" x2="665.91" y2="1880.21" stroke="#333333" stroke-width="4.2"/>
<line x1="704.46" y1="1811.24" x2="704.46" y2="1860.41" stroke="#333333" stroke-width="1.7"/>
<line x1="704.46" y1="1897.7" x2="704.46" y2="1911.56" stroke="#333333" stroke-width="1.7"/>
<rect x="680.96" y="1860.41" width="47" height="37.29" fill="#8DA0CB" stroke="#333333" stroke-width="1.8" stroke-linejoin="round"/>
<line x1="680.96" y1="1885.49" x2="727.96" y2="1885.49" stroke="#333333" stroke-width="4.2"/>
<path d="M580.36,1770.6 V1766.1 H704.46 V1770.6" fill="none" stroke="#111" stroke-width="1.9" stroke-linejoin="round"/>
<text transform="translate(643.16,1764.5) scale(1,0.9)" font-size="23" letter-spacing="1.5" text-anchor="middle" stroke="#000" stroke-width="0.35">***</text>
<path d="M642.41,1790.5 V1786 H704.46 V1790.5" fill="none" stroke="#111" stroke-width="1.9" stroke-linejoin="round"/>
<text transform="translate(674.18,1785.6) scale(1,0.9)" font-size="23" letter-spacing="1.5" text-anchor="middle" stroke="#000" stroke-width="0.35">***</text>
<path d="M580.36,1810.7 V1806.2 H642.41 V1810.7" fill="none" stroke="#111" stroke-width="1.9" stroke-linejoin="round"/>
<text transform="translate(612.13,1806.4) scale(1,0.9)" font-size="23" letter-spacing="1.5" text-anchor="middle" stroke="#000" stroke-width="0.35">***</text>
<line x1="809.29" y1="1811.24" x2="809.29" y2="1830.05" stroke="#333333" stroke-width="1.7"/>
<line x1="809.29" y1="1881.2" x2="809.29" y2="1908.26" stroke="#333333" stroke-width="1.7"/>
<rect x="785.79" y="1830.05" width="47" height="51.15" fill="#66C2A5" stroke="#333333" stroke-width="1.8" stroke-linejoin="round"/>
<line x1="785.79" y1="1853.81" x2="832.79" y2="1853.81" stroke="#333333" stroke-width="4.2"/>
<line x1="871.34" y1="1811.24" x2="871.34" y2="1843.25" stroke="#333333" stroke-width="1.7"/>
<line x1="871.34" y1="1895.06" x2="871.34" y2="1911.56" stroke="#333333" stroke-width="1.7"/>
<rect x="847.84" y="1843.25" width="47" height="51.81" fill="#FC8D62" stroke="#333333" stroke-width="1.8" stroke-linejoin="round"/>
<line x1="847.84" y1="1872.95" x2="894.84" y2="1872.95" stroke="#333333" stroke-width="4.2"/>
<line x1="933.39" y1="1811.24" x2="933.39" y2="1854.14" stroke="#333333" stroke-width="1.7"/>
<line x1="933.39" y1="1900.01" x2="933.39" y2="1911.56" stroke="#333333" stroke-width="1.7"/>
<rect x="909.89" y="1854.14" width="47" height="45.87" fill="#8DA0CB" stroke="#333333" stroke-width="1.8" stroke-linejoin="round"/>
<line x1="909.89" y1="1884.5" x2="956.89" y2="1884.5" stroke="#333333" stroke-width="4.2"/>
<path d="M809.29,1770.6 V1766.1 H933.39 V1770.6" fill="none" stroke="#111" stroke-width="1.9" stroke-linejoin="round"/>
<text transform="translate(872.09,1764.5) scale(1,0.9)" font-size="23" letter-spacing="1.5" text-anchor="middle" stroke="#000" stroke-width="0.35">***</text>
<path d="M871.34,1790.5 V1786 H933.39 V1790.5" fill="none" stroke="#111" stroke-width="1.9" stroke-linejoin="round"/>
<text transform="translate(903.12,1785.6) scale(1,0.9)" font-size="23" letter-spacing="1.5" text-anchor="middle" stroke="#000" stroke-width="0.35">***</text>
<path d="M809.29,1810.7 V1806.2 H871.34 V1810.7" fill="none" stroke="#111" stroke-width="1.9" stroke-linejoin="round"/>
<text transform="translate(841.06,1806.4) scale(1,0.9)" font-size="23" letter-spacing="1.5" text-anchor="middle" stroke="#000" stroke-width="0.35">***</text>
<line x1="1038.22" y1="1812.56" x2="1038.22" y2="1816.19" stroke="#333333" stroke-width="1.7"/>
<line x1="1038.22" y1="1860.41" x2="1038.22" y2="1907.6" stroke="#333333" stroke-width="1.7"/>
<rect x="1014.72" y="1816.19" width="47" height="44.22" fill="#66C2A5" stroke="#333333" stroke-width="1.8" stroke-linejoin="round"/>
<line x1="1014.72" y1="1835" x2="1061.72" y2="1835" stroke="#333333" stroke-width="4.2"/>
<line x1="1100.27" y1="1811.24" x2="1100.27" y2="1848.2" stroke="#333333" stroke-width="1.7"/>
<line x1="1100.27" y1="1883.51" x2="1100.27" y2="1911.56" stroke="#333333" stroke-width="1.7"/>
<rect x="1076.77" y="1848.2" width="47" height="35.31" fill="#FC8D62" stroke="#333333" stroke-width="1.8" stroke-linejoin="round"/>
<line x1="1076.77" y1="1856.78" x2="1123.77" y2="1856.78" stroke="#333333" stroke-width="4.2"/>
<line x1="1162.32" y1="1819.16" x2="1162.32" y2="1858.43" stroke="#333333" stroke-width="1.7"/>
<line x1="1162.32" y1="1886.81" x2="1162.32" y2="1911.56" stroke="#333333" stroke-width="1.7"/>
<rect x="1138.82" y="1858.43" width="47" height="28.38" fill="#8DA0CB" stroke="#333333" stroke-width="1.8" stroke-linejoin="round"/>
<line x1="1138.82" y1="1869.98" x2="1185.82" y2="1869.98" stroke="#333333" stroke-width="4.2"/>
<path d="M1038.22,1770.6 V1766.1 H1162.32 V1770.6" fill="none" stroke="#111" stroke-width="1.9" stroke-linejoin="round"/>
<text transform="translate(1101.02,1764.5) scale(1,0.9)" font-size="23" letter-spacing="1.5" text-anchor="middle" stroke="#000" stroke-width="0.35">***</text>
<path d="M1100.27,1790.5 V1786 H1162.32 V1790.5" fill="none" stroke="#111" stroke-width="1.9" stroke-linejoin="round"/>
<text transform="translate(1132.05,1785.6) scale(1,0.9)" font-size="23" letter-spacing="1.5" text-anchor="middle" stroke="#000" stroke-width="0.35">***</text>
<path d="M1038.22,1810.7 V1806.2 H1100.27 V1810.7" fill="none" stroke="#111" stroke-width="1.9" stroke-linejoin="round"/>
<text transform="translate(1069.99,1806.4) scale(1,0.9)" font-size="23" letter-spacing="1.5" text-anchor="middle" stroke="#000" stroke-width="0.35">**</text>
<line x1="1267.15" y1="1811.24" x2="1267.15" y2="1835" stroke="#333333" stroke-width="1.7"/>
<line x1="1267.15" y1="1892.75" x2="1267.15" y2="1911.56" stroke="#333333" stroke-width="1.7"/>
<rect x="1243.65" y="1835" width="47" height="57.75" fill="#66C2A5" stroke="#333333" stroke-width="1.8" stroke-linejoin="round"/>
<line x1="1243.65" y1="1865.03" x2="1290.65" y2="1865.03" stroke="#333333" stroke-width="4.2"/>
<line x1="1329.2" y1="1811.24" x2="1329.2" y2="1844.9" stroke="#333333" stroke-width="1.7"/>
<line x1="1329.2" y1="1901.66" x2="1329.2" y2="1911.56" stroke="#333333" stroke-width="1.7"/>
<rect x="1305.7" y="1844.9" width="47" height="56.76" fill="#FC8D62" stroke="#333333" stroke-width="1.8" stroke-linejoin="round"/>
<line x1="1305.7" y1="1881.2" x2="1352.7" y2="1881.2" stroke="#333333" stroke-width="4.2"/>
<line x1="1391.25" y1="1832.36" x2="1391.25" y2="1859.09" stroke="#333333" stroke-width="1.7"/>
<line x1="1391.25" y1="1879.55" x2="1391.25" y2="1906.94" stroke="#333333" stroke-width="1.7"/>
<rect x="1387.25" y="1809.26" width="8" height="23.1" rx="4" fill="#333333"/>
<rect x="1387.25" y="1906.94" width="8" height="8" rx="4" fill="#333333"/>
<rect x="1367.75" y="1859.09" width="47" height="20.46" fill="#8DA0CB" stroke="#333333" stroke-width="1.8" stroke-linejoin="round"/>
<line x1="1367.75" y1="1868" x2="1414.75" y2="1868" stroke="#333333" stroke-width="4.2"/>
<path d="M1267.15,1770.6 V1766.1 H1391.25 V1770.6" fill="none" stroke="#111" stroke-width="1.9" stroke-linejoin="round"/>
<text transform="translate(1329.95,1764.5) scale(1,0.9)" font-size="23" letter-spacing="1.5" text-anchor="middle" stroke="#000" stroke-width="0.35">**</text>
<path d="M1329.2,1790.5 V1786 H1391.25 V1790.5" fill="none" stroke="#111" stroke-width="1.9" stroke-linejoin="round"/>
<text transform="translate(1360.97,1785.6) scale(1,0.9)" font-size="23" letter-spacing="1.5" text-anchor="middle" stroke="#000" stroke-width="0.35">***</text>
<path d="M1267.15,1810.7 V1806.2 H1329.2 V1810.7" fill="none" stroke="#111" stroke-width="1.9" stroke-linejoin="round"/>
<text transform="translate(1298.93,1806.4) scale(1,0.9)" font-size="23" letter-spacing="1.5" text-anchor="middle" stroke="#000" stroke-width="0.35">***</text>
<line x1="1496.08" y1="1816.85" x2="1496.08" y2="1832.69" stroke="#333333" stroke-width="1.7"/>
<line x1="1496.08" y1="1851.5" x2="1496.08" y2="1878.56" stroke="#333333" stroke-width="1.7"/>
<circle cx="1496.08" cy="1892.09" r="3.1" fill="none" stroke="#333333" stroke-width="1.6"/>
<rect x="1472.58" y="1832.69" width="47" height="18.81" fill="#66C2A5" stroke="#333333" stroke-width="1.8" stroke-linejoin="round"/>
<line x1="1472.58" y1="1840.94" x2="1519.58" y2="1840.94" stroke="#333333" stroke-width="4.2"/>
<line x1="1558.13" y1="1815.2" x2="1558.13" y2="1849.85" stroke="#333333" stroke-width="1.7"/>
<line x1="1558.13" y1="1879.88" x2="1558.13" y2="1908.26" stroke="#333333" stroke-width="1.7"/>
<rect x="1534.63" y="1849.85" width="47" height="30.03" fill="#FC8D62" stroke="#333333" stroke-width="1.8" stroke-linejoin="round"/>
<line x1="1534.63" y1="1864.04" x2="1581.63" y2="1864.04" stroke="#333333" stroke-width="4.2"/>
<line x1="1620.18" y1="1820.15" x2="1620.18" y2="1852.16" stroke="#333333" stroke-width="1.7"/>
<line x1="1620.18" y1="1889.78" x2="1620.18" y2="1906.94" stroke="#333333" stroke-width="1.7"/>
<rect x="1596.68" y="1852.16" width="47" height="37.62" fill="#8DA0CB" stroke="#333333" stroke-width="1.8" stroke-linejoin="round"/>
<line x1="1596.68" y1="1878.56" x2="1643.68" y2="1878.56" stroke="#333333" stroke-width="4.2"/>
<path d="M1496.08,1770.6 V1766.1 H1620.18 V1770.6" fill="none" stroke="#111" stroke-width="1.9" stroke-linejoin="round"/>
<text transform="translate(1558.88,1764.5) scale(1,0.9)" font-size="23" letter-spacing="1.5" text-anchor="middle" stroke="#000" stroke-width="0.35">***</text>
<path d="M1558.13,1790.5 V1786 H1620.18 V1790.5" fill="none" stroke="#111" stroke-width="1.9" stroke-linejoin="round"/>
<text transform="translate(1589.9,1785.6) scale(1,0.9)" font-size="23" letter-spacing="1.5" text-anchor="middle" stroke="#000" stroke-width="0.35">*</text>
<path d="M1496.08,1810.7 V1806.2 H1558.13 V1810.7" fill="none" stroke="#111" stroke-width="1.9" stroke-linejoin="round"/>
<text transform="translate(1527.86,1806.4) scale(1,0.9)" font-size="23" letter-spacing="1.5" text-anchor="middle" stroke="#000" stroke-width="0.35">***</text>
<line x1="85" y1="1742.9" x2="85" y2="1921.1" stroke="#111" stroke-width="1.8"/>
<line x1="78.3" y1="1911.9" x2="85" y2="1911.9" stroke="#333333" stroke-width="1.5"/>
<text x="77.62" y="1920.2" font-size="24" text-anchor="end">0.0</text>
<line x1="78.3" y1="1861.55" x2="85" y2="1861.55" stroke="#333333" stroke-width="1.5"/>
<text x="77.72" y="1869.85" font-size="24" text-anchor="end">0.5</text>
<line x1="78.3" y1="1811.2" x2="85" y2="1811.2" stroke="#333333" stroke-width="1.5"/>
<text x="77.62" y="1819.5" font-size="24" text-anchor="end">1.0</text>
<line x1="1724.4" y1="1743" x2="1724.4" y2="1921" stroke="#111" stroke-width="1.8"/>
<line x1="1718.4" y1="1893.89" x2="1724.4" y2="1893.89" stroke="#333333" stroke-width="1.5"/>
<text x="1715.57" y="1902.39" font-size="24" text-anchor="end">0.3</text>
<line x1="1718.4" y1="1840.1" x2="1724.4" y2="1840.1" stroke="#333333" stroke-width="1.5"/>
<text x="1715.57" y="1848.6" font-size="24" text-anchor="end">0.6</text>
<line x1="1718.4" y1="1786.31" x2="1724.4" y2="1786.31" stroke="#333333" stroke-width="1.5"/>
<text x="1715.67" y="1794.81" font-size="24" text-anchor="end">0.9</text>
<line x1="1765.8" y1="1828.4" x2="1765.8" y2="1857.11" stroke="#333333" stroke-width="1.7"/>
<line x1="1765.8" y1="1891.1" x2="1765.8" y2="1900.01" stroke="#333333" stroke-width="1.7"/>
<rect x="1739.4" y="1857.11" width="52.8" height="33.99" fill="#FC8D62" stroke="#333333" stroke-width="1.8" stroke-linejoin="round"/>
<line x1="1739.4" y1="1878.89" x2="1792.2" y2="1878.89" stroke="#333333" stroke-width="4.2"/>
<line x1="1949" y1="1848.2" x2="1949" y2="1877.24" stroke="#333333" stroke-width="1.7"/>
<line x1="1949" y1="1898.69" x2="1949" y2="1909.25" stroke="#333333" stroke-width="1.7"/>
<circle cx="1949" cy="1788.14" r="3.1" fill="none" stroke="#333333" stroke-width="1.6"/>
<circle cx="1949" cy="1796.06" r="3.1" fill="none" stroke="#333333" stroke-width="1.6"/>
<circle cx="1949" cy="1806.29" r="3.1" fill="none" stroke="#333333" stroke-width="1.6"/>
<circle cx="1949" cy="1838.3" r="3.1" fill="none" stroke="#333333" stroke-width="1.6"/>
<circle cx="1949" cy="1842.26" r="3.1" fill="none" stroke="#333333" stroke-width="1.6"/>
<rect x="1922.6" y="1877.24" width="52.8" height="21.45" fill="#8DA0CB" stroke="#333333" stroke-width="1.8" stroke-linejoin="round"/>
<line x1="1922.6" y1="1889.78" x2="1975.4" y2="1889.78" stroke="#333333" stroke-width="4.2"/>
<line x1="1835.8" y1="1780.55" x2="1835.8" y2="1840.94" stroke="#333333" stroke-width="1.7"/>
<line x1="1835.8" y1="1890.44" x2="1835.8" y2="1909.91" stroke="#333333" stroke-width="1.7"/>
<rect x="1809.4" y="1840.94" width="52.8" height="49.5" fill="#FC8D62" stroke="#333333" stroke-width="1.8" stroke-linejoin="round"/>
<line x1="1809.4" y1="1874.6" x2="1862.2" y2="1874.6" stroke="#333333" stroke-width="4.2"/>
<line x1="2018.6" y1="1782.2" x2="2018.6" y2="1816.19" stroke="#333333" stroke-width="1.7"/>
<line x1="2018.6" y1="1876.25" x2="2018.6" y2="1906.61" stroke="#333333" stroke-width="1.7"/>
<rect x="1992.2" y="1816.19" width="52.8" height="60.06" fill="#8DA0CB" stroke="#333333" stroke-width="1.8" stroke-linejoin="round"/>
<line x1="1992.2" y1="1840.28" x2="2045" y2="1840.28" stroke="#333333" stroke-width="4.2"/>
<path d="M1765.8,1775.9 V1771.4 H1835.8 V1775.9" fill="none" stroke="#111" stroke-width="1.9" stroke-linejoin="round"/>
<text x="1800.39" y="1768.4" font-size="28" text-anchor="middle">ns</text>
<path d="M1949,1775.9 V1771.4 H2018.6 V1775.9" fill="none" stroke="#111" stroke-width="1.9" stroke-linejoin="round"/>
<text transform="translate(1984.55,1773.7) scale(1,0.9)" font-size="23" letter-spacing="1.5" text-anchor="middle" stroke="#000" stroke-width="0.35">***</text>
<text transform="translate(2075,1838.2) rotate(90)" font-size="28.9" text-anchor="middle">Siamang</text>
<line x1="84.1" y1="1920.4" x2="283.9" y2="1920.4" stroke="#111" stroke-width="1.8"/>
<line x1="122.5" y1="1920.4" x2="122.5" y2="1926.4" stroke="#333333" stroke-width="1.5"/>
<text x="112.78" y="1955.6" font-size="26.5" text-anchor="middle">PAR1</text>
<line x1="184.55" y1="1920.4" x2="184.55" y2="1926.4" stroke="#333333" stroke-width="1.5"/>
<text x="185.59" y="1955.6" font-size="26.5" text-anchor="middle">X</text>
<line x1="246.6" y1="1920.4" x2="246.6" y2="1926.4" stroke="#333333" stroke-width="1.5"/>
<text x="246.24" y="1955.6" font-size="26.5" text-anchor="middle">Y</text>
<line x1="313.03" y1="1920.4" x2="512.83" y2="1920.4" stroke="#111" stroke-width="1.8"/>
<line x1="351.43" y1="1920.4" x2="351.43" y2="1926.4" stroke="#333333" stroke-width="1.5"/>
<text x="341.71" y="1955.6" font-size="26.5" text-anchor="middle">PAR1</text>
<line x1="413.48" y1="1920.4" x2="413.48" y2="1926.4" stroke="#333333" stroke-width="1.5"/>
<text x="414.52" y="1955.6" font-size="26.5" text-anchor="middle">X</text>
<line x1="475.53" y1="1920.4" x2="475.53" y2="1926.4" stroke="#333333" stroke-width="1.5"/>
<text x="475.17" y="1955.6" font-size="26.5" text-anchor="middle">Y</text>
<line x1="541.96" y1="1920.4" x2="741.76" y2="1920.4" stroke="#111" stroke-width="1.8"/>
<line x1="580.36" y1="1920.4" x2="580.36" y2="1926.4" stroke="#333333" stroke-width="1.5"/>
<text x="570.64" y="1955.6" font-size="26.5" text-anchor="middle">PAR1</text>
<line x1="642.41" y1="1920.4" x2="642.41" y2="1926.4" stroke="#333333" stroke-width="1.5"/>
<text x="643.45" y="1955.6" font-size="26.5" text-anchor="middle">X</text>
<line x1="704.46" y1="1920.4" x2="704.46" y2="1926.4" stroke="#333333" stroke-width="1.5"/>
<text x="704.1" y="1955.6" font-size="26.5" text-anchor="middle">Y</text>
<line x1="770.89" y1="1920.4" x2="970.69" y2="1920.4" stroke="#111" stroke-width="1.8"/>
<line x1="809.29" y1="1920.4" x2="809.29" y2="1926.4" stroke="#333333" stroke-width="1.5"/>
<text x="799.57" y="1955.6" font-size="26.5" text-anchor="middle">PAR1</text>
<line x1="871.34" y1="1920.4" x2="871.34" y2="1926.4" stroke="#333333" stroke-width="1.5"/>
<text x="872.38" y="1955.6" font-size="26.5" text-anchor="middle">X</text>
<line x1="933.39" y1="1920.4" x2="933.39" y2="1926.4" stroke="#333333" stroke-width="1.5"/>
<text x="933.03" y="1955.6" font-size="26.5" text-anchor="middle">Y</text>
<line x1="999.82" y1="1920.4" x2="1199.62" y2="1920.4" stroke="#111" stroke-width="1.8"/>
<line x1="1038.22" y1="1920.4" x2="1038.22" y2="1926.4" stroke="#333333" stroke-width="1.5"/>
<text x="1028.5" y="1955.6" font-size="26.5" text-anchor="middle">PAR1</text>
<line x1="1100.27" y1="1920.4" x2="1100.27" y2="1926.4" stroke="#333333" stroke-width="1.5"/>
<text x="1101.31" y="1955.6" font-size="26.5" text-anchor="middle">X</text>
<line x1="1162.32" y1="1920.4" x2="1162.32" y2="1926.4" stroke="#333333" stroke-width="1.5"/>
<text x="1161.96" y="1955.6" font-size="26.5" text-anchor="middle">Y</text>
<line x1="1228.75" y1="1920.4" x2="1428.55" y2="1920.4" stroke="#111" stroke-width="1.8"/>
<line x1="1267.15" y1="1920.4" x2="1267.15" y2="1926.4" stroke="#333333" stroke-width="1.5"/>
<text x="1257.43" y="1955.6" font-size="26.5" text-anchor="middle">PAR1</text>
<line x1="1329.2" y1="1920.4" x2="1329.2" y2="1926.4" stroke="#333333" stroke-width="1.5"/>
<text x="1330.24" y="1955.6" font-size="26.5" text-anchor="middle">X</text>
<line x1="1391.25" y1="1920.4" x2="1391.25" y2="1926.4" stroke="#333333" stroke-width="1.5"/>
<text x="1390.89" y="1955.6" font-size="26.5" text-anchor="middle">Y</text>
<line x1="1457.68" y1="1920.4" x2="1657.48" y2="1920.4" stroke="#111" stroke-width="1.8"/>
<line x1="1496.08" y1="1920.4" x2="1496.08" y2="1926.4" stroke="#333333" stroke-width="1.5"/>
<text x="1486.36" y="1955.6" font-size="26.5" text-anchor="middle">PAR1</text>
<line x1="1558.13" y1="1920.4" x2="1558.13" y2="1926.4" stroke="#333333" stroke-width="1.5"/>
<text x="1559.17" y="1955.6" font-size="26.5" text-anchor="middle">X</text>
<line x1="1620.18" y1="1920.4" x2="1620.18" y2="1926.4" stroke="#333333" stroke-width="1.5"/>
<text x="1619.82" y="1955.6" font-size="26.5" text-anchor="middle">Y</text>
<line x1="1723.5" y1="1920.4" x2="1878" y2="1920.4" stroke="#111" stroke-width="1.8"/>
<line x1="1908" y1="1920.4" x2="2061" y2="1920.4" stroke="#111" stroke-width="1.8"/>
<line x1="1765.8" y1="1920.4" x2="1765.8" y2="1926.4" stroke="#333333" stroke-width="1.5"/>
<text x="1767.06" y="1955.6" font-size="27" text-anchor="middle">Amp.</text>
<line x1="1835.8" y1="1920.4" x2="1835.8" y2="1926.4" stroke="#333333" stroke-width="1.5"/>
<text x="1837.56" y="1955.6" font-size="27" text-anchor="middle">Anc.</text>
<line x1="1949" y1="1920.4" x2="1949" y2="1926.4" stroke="#333333" stroke-width="1.5"/>
<text x="1936.56" y="1955.6" font-size="27" text-anchor="middle">Amp.</text>
<line x1="2018.6" y1="1920.4" x2="2018.6" y2="1926.4" stroke="#333333" stroke-width="1.5"/>
<text x="2021.56" y="1955.6" font-size="27" text-anchor="middle">Anc.</text>
<text x="184.69" y="450" font-size="29" text-anchor="middle">SINE</text>
<text x="410.49" y="450" font-size="29" text-anchor="middle">LINE</text>
<text x="638.07" y="450" font-size="29" text-anchor="middle">LTR</text>
<text x="871.26" y="450" font-size="29" text-anchor="middle">DNA</text>
<text x="1095.03" y="450" font-size="29" text-anchor="middle">Satellite</text>
<text x="1330.4" y="415.5" font-size="29" text-anchor="middle">Simple/</text>
<text x="1330.06" y="449" font-size="29" text-anchor="middle">low</text>
<text x="1330.49" y="482.5" font-size="29" text-anchor="middle">complexity</text>
<text x="1557.57" y="415.5" font-size="29" text-anchor="middle">Genes</text>
<text x="1558.06" y="449" font-size="29" text-anchor="middle">excluding</text>
<text x="1557.31" y="482.5" font-size="29" text-anchor="middle">repeats</text>
<text x="1801.06" y="450" font-size="29" text-anchor="middle">chrX</text>
<text x="1980.46" y="450" font-size="29" text-anchor="middle">chrY</text>
<text transform="translate(24.2,1182.4) rotate(-90)" font-size="29.7" text-anchor="middle">Methylation (mC/C)</text>
<text x="49.3" y="438.4" font-size="38" text-anchor="start" font-weight="bold">b</text>
<text x="1689.3" y="438.2" font-size="38" text-anchor="start" font-weight="bold">c</text>
</svg>
</body></html>
